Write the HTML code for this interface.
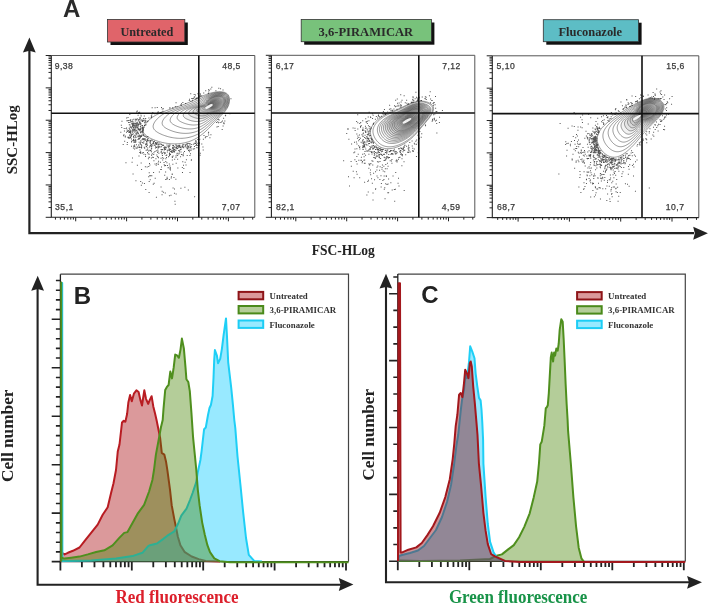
<!DOCTYPE html>
<html><head><meta charset="utf-8"><title>Figure</title>
<style>
html,body{margin:0;padding:0;background:#fff;width:709px;height:604px;overflow:hidden;}
svg{display:block;}
.fs{font-family:"Liberation Sans",sans-serif;}
.fr{font-family:"Liberation Serif",serif;}
</style></head><body>
<svg width="709" height="604" viewBox="0 0 709 604" style="will-change:transform">
<rect width="709" height="604" fill="#fff"/>
<text x="71.7" y="16.9" text-anchor="middle" class="fs" font-weight="bold" font-size="24" fill="#2b2b2b">A</text>
<rect x="110.5" y="22.5" width="77.3" height="22.5" fill="#111"/>
<rect x="107.5" y="19.5" width="77.3" height="22.5" fill="#e0646a" stroke="#333" stroke-width="0.8"/>
<text x="120.4" y="35.5" class="fr" font-weight="bold" font-size="13.4" fill="#2a2a2a" textLength="53" lengthAdjust="spacingAndGlyphs">Untreated</text>
<rect x="304.2" y="22.5" width="130.2" height="22.2" fill="#111"/>
<rect x="301.2" y="19.5" width="130.2" height="22.2" fill="#78c27b" stroke="#333" stroke-width="0.8"/>
<text x="318.5" y="35.5" class="fr" font-weight="bold" font-size="13.4" fill="#2a2a2a" textLength="94.7" lengthAdjust="spacingAndGlyphs">3,6-PIRAMICAR</text>
<rect x="546.3" y="22.7" width="95.3" height="22" fill="#111"/>
<rect x="543.3" y="19.7" width="95.3" height="22" fill="#5dbdc5" stroke="#333" stroke-width="0.8"/>
<text x="558.5" y="35.5" class="fr" font-weight="bold" font-size="13.4" fill="#2a2a2a" textLength="63.6" lengthAdjust="spacingAndGlyphs">Fluconazole</text>
<path d="M29.4 50 V233.2 H694" stroke="#222" stroke-width="2.2" fill="none"/>
<path d="M22.9 52.4 L29.4 37.4 L35.7 52.4 L29.4 50.8 Z" fill="#222"/>
<path d="M693.2 226.8 L707.9 233.2 L693.2 239.7 L694.8 233.2 Z" fill="#222"/>
<text transform="translate(17.3,174.3) rotate(-90)" class="fr" font-weight="bold" font-size="13.6" fill="#222" textLength="69" lengthAdjust="spacingAndGlyphs">SSC-HLog</text>
<text x="311.7" y="255" class="fr" font-weight="bold" font-size="13.6" fill="#222" textLength="63" lengthAdjust="spacingAndGlyphs">FSC-HLog</text>
<path d="M51.3 55.5H254.8V217.3" stroke="#555" stroke-width="1" fill="none"/>
<path d="M51.3 55.5V217.3H254.8" stroke="#222" stroke-width="1.1" fill="none"/>
<path d="M45.7 55.5H51.3M45.7 87.86H51.3M45.7 120.22H51.3M45.7 152.58H51.3M45.7 184.94H51.3M45.7 217.3H51.3M48.5 78.12H51.3M48.5 72.42H51.3M48.5 68.38H51.3M48.5 65.24H51.3M48.5 62.68H51.3M48.5 60.51H51.3M48.5 58.64H51.3M48.5 56.98H51.3M48.5 110.48H51.3M48.5 104.78H51.3M48.5 100.74H51.3M48.5 97.6H51.3M48.5 95.04H51.3M48.5 92.87H51.3M48.5 91H51.3M48.5 89.34H51.3M48.5 142.84H51.3M48.5 137.14H51.3M48.5 133.1H51.3M48.5 129.96H51.3M48.5 127.4H51.3M48.5 125.23H51.3M48.5 123.36H51.3M48.5 121.7H51.3M48.5 175.2H51.3M48.5 169.5H51.3M48.5 165.46H51.3M48.5 162.32H51.3M48.5 159.76H51.3M48.5 157.59H51.3M48.5 155.72H51.3M48.5 154.06H51.3M48.5 207.56H51.3M48.5 201.86H51.3M48.5 197.82H51.3M48.5 194.68H51.3M48.5 192.12H51.3M48.5 189.95H51.3M48.5 188.08H51.3M48.5 186.42H51.3" stroke="#222" stroke-width="1" fill="none"/>
<path d="M55.44 217.3V219.6M60.38 217.3V219.6M64.41 217.3V219.6M67.82 217.3V219.6M70.77 217.3V219.6M73.37 217.3V219.6M75.7 217.3V221.3M91.02 217.3V219.6M99.99 217.3V219.6M106.34 217.3V219.6M111.28 217.3V219.6M115.31 217.3V219.6M118.72 217.3V219.6M121.67 217.3V219.6M124.27 217.3V219.6M126.6 217.3V221.3M141.92 217.3V219.6M150.89 217.3V219.6M157.24 217.3V219.6M162.18 217.3V219.6M166.21 217.3V219.6M169.62 217.3V219.6M172.57 217.3V219.6M175.17 217.3V219.6M177.5 217.3V221.3M192.82 217.3V219.6M201.79 217.3V219.6M208.14 217.3V219.6M213.08 217.3V219.6M217.11 217.3V219.6M220.52 217.3V219.6M223.47 217.3V219.6M226.07 217.3V219.6M228.4 217.3V221.3M243.72 217.3V219.6M252.69 217.3V219.6" stroke="#222" stroke-width="1" fill="none"/>
<path d="M271.4 55.3H474.8V217.3" stroke="#555" stroke-width="1" fill="none"/>
<path d="M271.4 55.3V217.3H474.8" stroke="#222" stroke-width="1.1" fill="none"/>
<path d="M265.8 55.3H271.4M265.8 87.7H271.4M265.8 120.1H271.4M265.8 152.5H271.4M265.8 184.9H271.4M265.8 217.3H271.4M268.6 77.95H271.4M268.6 72.24H271.4M268.6 68.19H271.4M268.6 65.05H271.4M268.6 62.49H271.4M268.6 60.32H271.4M268.6 58.44H271.4M268.6 56.78H271.4M268.6 110.35H271.4M268.6 104.64H271.4M268.6 100.59H271.4M268.6 97.45H271.4M268.6 94.89H271.4M268.6 92.72H271.4M268.6 90.84H271.4M268.6 89.18H271.4M268.6 142.75H271.4M268.6 137.04H271.4M268.6 132.99H271.4M268.6 129.85H271.4M268.6 127.29H271.4M268.6 125.12H271.4M268.6 123.24H271.4M268.6 121.58H271.4M268.6 175.15H271.4M268.6 169.44H271.4M268.6 165.39H271.4M268.6 162.25H271.4M268.6 159.69H271.4M268.6 157.52H271.4M268.6 155.64H271.4M268.6 153.98H271.4M268.6 207.55H271.4M268.6 201.84H271.4M268.6 197.79H271.4M268.6 194.65H271.4M268.6 192.09H271.4M268.6 189.92H271.4M268.6 188.04H271.4M268.6 186.38H271.4" stroke="#222" stroke-width="1" fill="none"/>
<path d="M275.54 217.3V219.6M280.48 217.3V219.6M284.51 217.3V219.6M287.92 217.3V219.6M290.87 217.3V219.6M293.47 217.3V219.6M295.8 217.3V221.3M311.12 217.3V219.6M320.09 217.3V219.6M326.44 217.3V219.6M331.38 217.3V219.6M335.41 217.3V219.6M338.82 217.3V219.6M341.77 217.3V219.6M344.37 217.3V219.6M346.7 217.3V221.3M362.02 217.3V219.6M370.99 217.3V219.6M377.34 217.3V219.6M382.28 217.3V219.6M386.31 217.3V219.6M389.72 217.3V219.6M392.67 217.3V219.6M395.27 217.3V219.6M397.6 217.3V221.3M412.92 217.3V219.6M421.89 217.3V219.6M428.24 217.3V219.6M433.18 217.3V219.6M437.21 217.3V219.6M440.62 217.3V219.6M443.57 217.3V219.6M446.17 217.3V219.6M448.5 217.3V221.3M463.82 217.3V219.6M472.79 217.3V219.6" stroke="#222" stroke-width="1" fill="none"/>
<path d="M492.3 55.8H698.8V217.6" stroke="#555" stroke-width="1" fill="none"/>
<path d="M492.3 55.8V217.6H698.8" stroke="#222" stroke-width="1.1" fill="none"/>
<path d="M486.7 55.8H492.3M486.7 88.16H492.3M486.7 120.52H492.3M486.7 152.88H492.3M486.7 185.24H492.3M486.7 217.6H492.3M489.5 78.42H492.3M489.5 72.72H492.3M489.5 68.68H492.3M489.5 65.54H492.3M489.5 62.98H492.3M489.5 60.81H492.3M489.5 58.94H492.3M489.5 57.28H492.3M489.5 110.78H492.3M489.5 105.08H492.3M489.5 101.04H492.3M489.5 97.9H492.3M489.5 95.34H492.3M489.5 93.17H492.3M489.5 91.3H492.3M489.5 89.64H492.3M489.5 143.14H492.3M489.5 137.44H492.3M489.5 133.4H492.3M489.5 130.26H492.3M489.5 127.7H492.3M489.5 125.53H492.3M489.5 123.66H492.3M489.5 122H492.3M489.5 175.5H492.3M489.5 169.8H492.3M489.5 165.76H492.3M489.5 162.62H492.3M489.5 160.06H492.3M489.5 157.89H492.3M489.5 156.02H492.3M489.5 154.36H492.3M489.5 207.86H492.3M489.5 202.16H492.3M489.5 198.12H492.3M489.5 194.98H492.3M489.5 192.42H492.3M489.5 190.25H492.3M489.5 188.38H492.3M489.5 186.72H492.3" stroke="#222" stroke-width="1" fill="none"/>
<path d="M497.69 217.6V219.9M502.66 217.6V219.9M506.72 217.6V219.9M510.15 217.6V219.9M513.13 217.6V219.9M515.75 217.6V219.9M518.1 217.6V221.6M533.54 217.6V219.9M542.58 217.6V219.9M548.99 217.6V219.9M553.96 217.6V219.9M558.02 217.6V219.9M561.45 217.6V219.9M564.43 217.6V219.9M567.05 217.6V219.9M569.4 217.6V221.6M584.84 217.6V219.9M593.88 217.6V219.9M600.29 217.6V219.9M605.26 217.6V219.9M609.32 217.6V219.9M612.75 217.6V219.9M615.73 217.6V219.9M618.35 217.6V219.9M620.7 217.6V221.6M636.14 217.6V219.9M645.18 217.6V219.9M651.59 217.6V219.9M656.56 217.6V219.9M660.62 217.6V219.9M664.05 217.6V219.9M667.03 217.6V219.9M669.65 217.6V219.9M672 217.6V221.6M687.44 217.6V219.9M696.48 217.6V219.9" stroke="#222" stroke-width="1" fill="none"/>
<path d="M143.04 130.67L143.05 129.54L143.27 128.37L143.68 127.17L144.27 125.95L145 124.73L145.87 123.52L146.86 122.33L147.93 121.18L149.07 120.07L150.26 119.01L151.48 118.03L152.72 117.12L153.96 116.3L155.2 115.54L156.46 114.84L157.72 114.19L159 113.59L160.28 113.02L161.58 112.48L162.88 111.97L164.2 111.46L165.53 110.96L166.86 110.47L168.21 109.98L169.56 109.5L170.92 109.02L172.28 108.54L173.65 108.07L175.02 107.59L176.38 107.12L177.75 106.64L179.12 106.16L180.48 105.67L181.84 105.18L183.2 104.67L184.55 104.16L185.89 103.64L187.22 103.11L188.54 102.57L189.85 102.01L191.15 101.44L192.43 100.85L193.7 100.25L194.96 99.64L196.22 99.02L197.48 98.41L198.74 97.79L200.01 97.18L201.29 96.58L202.58 96L203.89 95.44L205.22 94.9L206.57 94.38L207.96 93.9L209.37 93.45L210.83 93.04L212.32 92.67L213.85 92.35L215.41 92.09L216.98 91.89L218.54 91.77L220.07 91.74L221.55 91.81L222.96 92L224.28 92.31L225.48 92.75L226.56 93.34L227.48 94.08L228.24 94.99L228.81 96.07L229.21 97.28L229.44 98.61L229.51 100L229.44 101.45L229.22 102.9L228.87 104.34L228.4 105.73L227.81 107.06L227.12 108.32L226.35 109.53L225.5 110.7L224.58 111.83L223.61 112.92L222.61 114L221.57 115.06L220.53 116.12L219.49 117.18L218.45 118.25L217.42 119.33L216.39 120.4L215.37 121.48L214.36 122.56L213.34 123.64L212.33 124.71L211.31 125.77L210.29 126.82L209.26 127.86L208.23 128.88L207.19 129.89L206.14 130.87L205.09 131.83L204.02 132.77L202.93 133.68L201.84 134.56L200.72 135.41L199.59 136.23L198.44 137.01L197.27 137.75L196.07 138.45L194.85 139.1L193.62 139.72L192.36 140.29L191.08 140.82L189.78 141.31L188.47 141.75L187.14 142.15L185.79 142.51L184.43 142.83L183.05 143.11L181.66 143.34L180.26 143.53L178.84 143.68L177.42 143.79L175.98 143.86L174.54 143.88L173.09 143.86L171.63 143.8L170.17 143.7L168.7 143.56L167.22 143.37L165.75 143.14L164.27 142.88L162.79 142.56L161.31 142.21L159.83 141.82L158.35 141.38L156.87 140.91L155.39 140.39L153.92 139.83L152.47 139.22L151.04 138.58L149.67 137.89L148.38 137.15L147.17 136.37L146.08 135.55L145.13 134.67L144.32 133.75L143.7 132.77L143.26 131.75Z" fill="#000" fill-opacity="0" stroke="#2a2a2a" stroke-width="0.6" stroke-opacity="0.8"/>
<path d="M153.14 126.89L153.15 125.93L153.33 124.94L153.68 123.93L154.17 122.9L154.8 121.87L155.53 120.84L156.36 119.84L157.26 118.86L158.22 117.92L159.23 117.03L160.26 116.19L161.3 115.43L162.34 114.73L163.39 114.09L164.45 113.49L165.52 112.95L166.6 112.44L167.68 111.96L168.78 111.5L169.88 111.06L170.99 110.63L172.11 110.21L173.24 109.79L174.38 109.38L175.52 108.97L176.67 108.56L177.82 108.16L178.97 107.76L180.13 107.35L181.29 106.95L182.44 106.54L183.59 106.13L184.74 105.72L185.89 105.3L187.03 104.87L188.17 104.44L189.29 103.99L190.41 103.54L191.52 103.07L192.62 102.59L193.7 102.09L194.77 101.58L195.83 101.05L196.88 100.51L197.93 99.95L198.97 99.39L200.02 98.82L201.09 98.24L202.16 97.66L203.27 97.07L204.4 96.49L205.57 95.92L206.78 95.37L208.04 94.83L209.35 94.33L210.71 93.87L212.12 93.45L213.59 93.08L215.1 92.77L216.62 92.53L218.14 92.38L219.63 92.31L221.07 92.35L222.45 92.51L223.74 92.78L224.93 93.19L225.99 93.75L226.9 94.46L227.64 95.33L228.2 96.37L228.6 97.55L228.82 98.83L228.89 100.18L228.81 101.58L228.59 103L228.23 104.4L227.75 105.74L227.15 107.02L226.45 108.24L225.66 109.39L224.8 110.5L223.87 111.56L222.89 112.58L221.88 113.57L220.84 114.53L219.8 115.48L218.76 116.41L217.74 117.33L216.74 118.25L215.76 119.17L214.79 120.07L213.84 120.98L212.91 121.87L211.98 122.76L211.06 123.64L210.14 124.51L209.23 125.37L208.32 126.22L207.41 127.05L206.49 127.87L205.57 128.67L204.64 129.44L203.7 130.2L202.75 130.92L201.79 131.62L200.81 132.3L199.83 132.93L198.82 133.54L197.8 134.11L196.76 134.64L195.71 135.14L194.63 135.6L193.55 136.02L192.45 136.41L191.33 136.76L190.2 137.08L189.06 137.36L187.91 137.61L186.75 137.81L185.58 137.99L184.4 138.13L183.21 138.23L182.01 138.3L180.8 138.33L179.59 138.33L178.37 138.29L177.15 138.22L175.92 138.12L174.68 137.98L173.45 137.8L172.21 137.59L170.97 137.35L169.73 137.07L168.49 136.76L167.24 136.41L166 136.03L164.76 135.62L163.53 135.17L162.29 134.69L161.07 134.17L159.87 133.62L158.72 133.03L157.63 132.4L156.62 131.73L155.7 131.03L154.9 130.29L154.22 129.5L153.69 128.67L153.33 127.8Z" fill="#000" fill-opacity="0" stroke="#2a2a2a" stroke-width="0.6" stroke-opacity="0.8"/>
<path d="M162.15 123.52L162.16 122.72L162.31 121.89L162.6 121.04L163.01 120.17L163.53 119.31L164.15 118.45L164.84 117.61L165.59 116.79L166.39 116L167.23 115.25L168.09 114.55L168.96 113.91L169.83 113.33L170.71 112.79L171.6 112.29L172.49 111.83L173.39 111.41L174.3 111L175.21 110.62L176.13 110.25L177.06 109.89L178 109.53L178.95 109.18L179.9 108.84L180.86 108.5L181.81 108.16L182.78 107.82L183.74 107.48L184.71 107.14L185.67 106.8L186.64 106.46L187.6 106.11L188.56 105.76L189.52 105.41L190.47 105.05L191.42 104.68L192.35 104.3L193.28 103.92L194.2 103.52L195.11 103.11L196.01 102.68L196.89 102.24L197.76 101.78L198.62 101.3L199.48 100.8L200.34 100.29L201.21 99.76L202.09 99.22L202.99 98.66L203.91 98.08L204.88 97.49L205.9 96.9L206.98 96.32L208.12 95.75L209.32 95.2L210.59 94.69L211.93 94.23L213.33 93.81L214.78 93.46L216.25 93.18L217.73 92.99L219.18 92.89L220.59 92.9L221.94 93.02L223.2 93.27L224.36 93.65L225.4 94.17L226.3 94.84L227.03 95.68L227.59 96.68L227.97 97.82L228.19 99.05L228.26 100.37L228.17 101.73L227.94 103.1L227.57 104.45L227.08 105.75L226.47 106.98L225.76 108.15L224.96 109.25L224.09 110.3L223.15 111.29L222.17 112.24L221.15 113.14L220.11 114.01L219.07 114.84L218.05 115.65L217.05 116.44L216.08 117.21L215.15 117.97L214.24 118.72L213.35 119.46L212.49 120.19L211.65 120.92L210.82 121.63L210.01 122.35L209.2 123.05L208.4 123.74L207.61 124.42L206.81 125.08L206.01 125.73L205.21 126.37L204.4 126.98L203.59 127.57L202.77 128.14L201.94 128.69L201.1 129.2L200.24 129.69L199.38 130.15L198.5 130.57L197.61 130.97L196.71 131.33L195.79 131.67L194.87 131.97L193.93 132.24L192.98 132.48L192.03 132.7L191.07 132.88L190.1 133.03L189.12 133.16L188.13 133.25L187.14 133.32L186.14 133.35L185.14 133.36L184.13 133.34L183.12 133.29L182.1 133.21L181.08 133.11L180.06 132.97L179.03 132.81L178 132.62L176.97 132.4L175.94 132.16L174.91 131.88L173.88 131.58L172.85 131.25L171.82 130.89L170.8 130.51L169.77 130.09L168.75 129.65L167.76 129.18L166.8 128.68L165.89 128.15L165.05 127.59L164.29 127L163.62 126.37L163.05 125.71L162.61 125.02L162.31 124.29Z" fill="#000" fill-opacity="0" stroke="#2a2a2a" stroke-width="0.6" stroke-opacity="0.8"/>
<path d="M170.14 120.53L170.14 119.87L170.27 119.18L170.51 118.47L170.85 117.76L171.28 117.04L171.78 116.33L172.35 115.63L172.97 114.95L173.64 114.3L174.33 113.68L175.04 113.1L175.75 112.57L176.48 112.08L177.2 111.64L177.93 111.23L178.67 110.85L179.41 110.49L180.17 110.16L180.92 109.84L181.69 109.53L182.46 109.23L183.23 108.94L184.01 108.65L184.8 108.36L185.59 108.08L186.39 107.79L187.18 107.51L187.98 107.23L188.78 106.95L189.58 106.67L190.38 106.38L191.17 106.09L191.96 105.8L192.75 105.51L193.54 105.21L194.31 104.9L195.09 104.58L195.85 104.26L196.6 103.92L197.35 103.57L198.08 103.21L198.8 102.83L199.5 102.43L200.2 102.01L200.9 101.58L201.59 101.12L202.3 100.63L203.01 100.13L203.75 99.59L204.52 99.03L205.34 98.44L206.22 97.84L207.17 97.24L208.19 96.64L209.3 96.06L210.48 95.51L211.74 95L213.07 94.55L214.46 94.15L215.88 93.84L217.31 93.61L218.72 93.48L220.1 93.46L221.41 93.55L222.65 93.76L223.79 94.11L224.8 94.6L225.68 95.24L226.4 96.04L226.95 97L227.33 98.09L227.55 99.29L227.61 100.56L227.51 101.87L227.27 103.2L226.9 104.51L226.39 105.76L225.78 106.94L225.06 108.06L224.25 109.11L223.37 110.09L222.43 111.02L221.44 111.89L220.42 112.71L219.38 113.48L218.35 114.21L217.35 114.9L216.38 115.56L215.45 116.2L214.55 116.82L213.7 117.42L212.89 118.02L212.1 118.6L211.34 119.18L210.61 119.75L209.89 120.32L209.18 120.88L208.48 121.44L207.79 121.98L207.1 122.51L206.42 123.03L205.73 123.54L205.05 124.03L204.36 124.51L203.66 124.96L202.96 125.39L202.25 125.8L201.54 126.19L200.81 126.55L200.08 126.88L199.33 127.19L198.58 127.47L197.82 127.73L197.05 127.96L196.27 128.16L195.49 128.34L194.7 128.5L193.9 128.63L193.1 128.74L192.29 128.82L191.48 128.88L190.66 128.91L189.84 128.92L189.02 128.91L188.19 128.88L187.36 128.82L186.52 128.74L185.68 128.64L184.84 128.51L184 128.36L183.16 128.19L182.32 128L181.47 127.78L180.63 127.54L179.78 127.28L178.94 127L178.09 126.69L177.25 126.37L176.41 126.02L175.57 125.65L174.75 125.25L173.97 124.83L173.22 124.39L172.53 123.92L171.9 123.42L171.35 122.9L170.88 122.35L170.52 121.78L170.27 121.17Z" fill="#000" fill-opacity="0" stroke="#2a2a2a" stroke-width="0.6" stroke-opacity="0.8"/>
<path d="M177.16 117.91L177.16 117.36L177.27 116.8L177.46 116.22L177.74 115.64L178.09 115.05L178.5 114.47L178.96 113.89L179.47 113.34L180.01 112.8L180.57 112.3L181.15 111.82L181.74 111.39L182.32 110.99L182.92 110.62L183.51 110.29L184.12 109.98L184.72 109.69L185.34 109.41L185.95 109.15L186.58 108.9L187.21 108.65L187.84 108.41L188.48 108.17L189.12 107.94L189.77 107.71L190.42 107.47L191.07 107.24L191.72 107.01L192.37 106.78L193.02 106.55L193.67 106.31L194.32 106.08L194.97 105.84L195.61 105.59L196.25 105.34L196.88 105.09L197.51 104.83L198.12 104.56L198.73 104.28L199.33 103.99L199.92 103.68L200.5 103.36L201.07 103.02L201.62 102.66L202.18 102.27L202.73 101.87L203.29 101.43L203.86 100.96L204.46 100.45L205.09 99.91L205.78 99.34L206.53 98.74L207.36 98.12L208.27 97.5L209.27 96.89L210.37 96.31L211.55 95.77L212.81 95.28L214.14 94.85L215.51 94.5L216.89 94.24L218.26 94.08L219.59 94.03L220.88 94.09L222.08 94.27L223.19 94.59L224.19 95.04L225.05 95.65L225.76 96.41L226.3 97.33L226.67 98.38L226.88 99.53L226.94 100.76L226.84 102.02L226.59 103.3L226.21 104.56L225.69 105.77L225.07 106.91L224.34 107.97L223.53 108.96L222.64 109.89L221.69 110.75L220.7 111.55L219.69 112.28L218.66 112.96L217.65 113.59L216.66 114.17L215.72 114.71L214.83 115.23L213.99 115.72L213.19 116.19L212.44 116.65L211.73 117.1L211.05 117.55L210.4 118L209.77 118.44L209.15 118.88L208.55 119.31L207.96 119.73L207.38 120.15L206.79 120.56L206.22 120.96L205.64 121.34L205.06 121.71L204.48 122.07L203.89 122.41L203.3 122.73L202.71 123.02L202.11 123.3L201.5 123.56L200.88 123.79L200.26 124L199.64 124.19L199.01 124.36L198.37 124.51L197.73 124.64L197.08 124.75L196.43 124.83L195.78 124.9L195.12 124.95L194.46 124.98L193.8 125L193.13 124.99L192.46 124.96L191.79 124.92L191.11 124.86L190.44 124.78L189.76 124.68L189.08 124.56L188.4 124.43L187.72 124.28L187.04 124.11L186.35 123.92L185.67 123.71L184.99 123.49L184.3 123.25L183.62 122.99L182.94 122.72L182.25 122.43L181.58 122.12L180.91 121.79L180.27 121.44L179.67 121.07L179.1 120.69L178.59 120.28L178.14 119.85L177.77 119.4L177.47 118.93L177.26 118.43Z" fill="#000" fill-opacity="0" stroke="#2a2a2a" stroke-width="0.6" stroke-opacity="0.8"/>
<path d="M183.28 115.62L183.28 115.18L183.37 114.72L183.53 114.26L183.75 113.78L184.03 113.31L184.36 112.84L184.73 112.38L185.14 111.93L185.57 111.5L186.02 111.09L186.49 110.71L186.95 110.36L187.43 110.04L187.9 109.74L188.38 109.47L188.87 109.22L189.36 108.98L189.85 108.76L190.35 108.55L190.85 108.35L191.36 108.15L191.87 107.95L192.38 107.76L192.9 107.57L193.42 107.38L193.94 107.19L194.47 107.01L194.99 106.82L195.52 106.63L196.04 106.44L196.56 106.25L197.08 106.06L197.6 105.87L198.12 105.67L198.63 105.47L199.14 105.26L199.64 105.05L200.13 104.82L200.61 104.59L201.09 104.35L201.56 104.1L202.01 103.83L202.46 103.54L202.89 103.23L203.32 102.9L203.75 102.54L204.19 102.15L204.64 101.72L205.11 101.25L205.62 100.74L206.18 100.18L206.82 99.59L207.53 98.97L208.34 98.34L209.25 97.71L210.25 97.1L211.36 96.53L212.55 96.01L213.82 95.55L215.13 95.17L216.46 94.88L217.78 94.69L219.08 94.61L220.33 94.64L221.5 94.79L222.59 95.08L223.56 95.5L224.4 96.07L225.09 96.79L225.62 97.67L225.99 98.67L226.2 99.78L226.24 100.96L226.14 102.18L225.89 103.41L225.49 104.62L224.98 105.78L224.34 106.86L223.61 107.87L222.79 108.81L221.9 109.67L220.95 110.47L219.97 111.2L218.96 111.85L217.94 112.44L216.95 112.97L215.99 113.45L215.08 113.88L214.23 114.28L213.44 114.66L212.71 115.01L212.03 115.36L211.39 115.69L210.78 116.03L210.21 116.36L209.66 116.69L209.13 117.02L208.62 117.35L208.12 117.68L207.62 118L207.14 118.31L206.65 118.61L206.17 118.91L205.69 119.19L205.21 119.46L204.73 119.72L204.25 119.96L203.76 120.18L203.27 120.39L202.77 120.58L202.27 120.75L201.77 120.9L201.26 121.04L200.75 121.16L200.24 121.26L199.72 121.35L199.2 121.42L198.68 121.47L198.15 121.51L197.62 121.54L197.09 121.55L196.56 121.54L196.03 121.52L195.49 121.48L194.96 121.44L194.42 121.37L193.88 121.29L193.34 121.2L192.8 121.1L192.26 120.98L191.71 120.85L191.17 120.7L190.63 120.54L190.08 120.36L189.54 120.18L188.99 119.98L188.45 119.76L187.9 119.53L187.36 119.29L186.82 119.04L186.29 118.77L185.78 118.48L185.29 118.18L184.84 117.87L184.43 117.54L184.07 117.19L183.77 116.83L183.53 116.44L183.37 116.04Z" fill="#000" fill-opacity="0.055" stroke="#2a2a2a" stroke-width="0.6" stroke-opacity="0.8"/>
<path d="M188.56 113.64L188.57 113.29L188.63 112.93L188.76 112.56L188.93 112.19L189.15 111.81L189.41 111.44L189.71 111.07L190.03 110.71L190.37 110.37L190.73 110.05L191.09 109.74L191.46 109.47L191.84 109.21L192.21 108.98L192.59 108.76L192.98 108.56L193.36 108.37L193.75 108.2L194.15 108.03L194.54 107.87L194.95 107.71L195.35 107.56L195.76 107.4L196.17 107.25L196.58 107.1L196.99 106.95L197.41 106.8L197.82 106.65L198.24 106.5L198.65 106.35L199.07 106.2L199.48 106.05L199.89 105.89L200.29 105.74L200.7 105.57L201.1 105.41L201.49 105.23L201.87 105.06L202.25 104.87L202.63 104.67L202.99 104.46L203.34 104.24L203.68 104L204.01 103.74L204.34 103.46L204.67 103.15L205 102.8L205.34 102.41L205.71 101.98L206.11 101.5L206.57 100.97L207.09 100.39L207.7 99.78L208.41 99.15L209.22 98.51L210.14 97.89L211.17 97.29L212.29 96.74L213.49 96.26L214.74 95.85L216.02 95.53L217.3 95.31L218.55 95.2L219.76 95.2L220.91 95.33L221.96 95.58L222.91 95.97L223.73 96.5L224.41 97.18L224.93 98.01L225.29 98.97L225.49 100.03L225.53 101.17L225.42 102.34L225.16 103.52L224.76 104.68L224.24 105.79L223.6 106.82L222.86 107.78L222.04 108.66L221.15 109.46L220.21 110.19L219.22 110.84L218.22 111.42L217.23 111.93L216.25 112.37L215.33 112.75L214.46 113.08L213.66 113.38L212.92 113.64L212.25 113.9L211.63 114.14L211.06 114.38L210.53 114.61L210.03 114.85L209.56 115.09L209.11 115.33L208.68 115.57L208.26 115.81L207.85 116.04L207.44 116.27L207.05 116.5L206.65 116.71L206.26 116.92L205.87 117.12L205.48 117.31L205.09 117.49L204.69 117.65L204.3 117.8L203.9 117.93L203.5 118.05L203.1 118.16L202.69 118.25L202.29 118.33L201.88 118.4L201.47 118.45L201.06 118.49L200.65 118.52L200.23 118.54L199.82 118.54L199.4 118.54L198.98 118.52L198.56 118.49L198.14 118.45L197.72 118.4L197.3 118.34L196.88 118.26L196.45 118.18L196.03 118.09L195.61 117.98L195.18 117.87L194.76 117.74L194.33 117.61L193.9 117.46L193.48 117.31L193.05 117.14L192.62 116.97L192.2 116.78L191.77 116.58L191.34 116.38L190.93 116.16L190.53 115.93L190.15 115.69L189.79 115.44L189.47 115.17L189.19 114.89L188.95 114.6L188.76 114.3L188.63 113.98Z" fill="#000" fill-opacity="0.055" stroke="#2a2a2a" stroke-width="0.6" stroke-opacity="0.8"/>
<path d="M193.07 111.96L193.07 111.69L193.12 111.4L193.22 111.12L193.35 110.82L193.52 110.53L193.73 110.24L193.95 109.96L194.2 109.68L194.47 109.41L194.74 109.16L195.02 108.92L195.31 108.71L195.6 108.51L195.89 108.32L196.19 108.16L196.48 108L196.78 107.85L197.09 107.72L197.39 107.59L197.7 107.46L198.01 107.34L198.33 107.22L198.65 107.1L198.96 106.98L199.29 106.86L199.61 106.74L199.93 106.63L200.25 106.51L200.57 106.4L200.89 106.28L201.21 106.16L201.53 106.04L201.85 105.92L202.16 105.79L202.48 105.66L202.78 105.53L203.08 105.4L203.38 105.26L203.67 105.11L203.95 104.95L204.23 104.78L204.49 104.6L204.75 104.4L205 104.19L205.24 103.95L205.48 103.68L205.73 103.38L205.98 103.04L206.25 102.65L206.56 102.2L206.92 101.7L207.35 101.15L207.86 100.55L208.48 99.93L209.2 99.29L210.04 98.65L210.98 98.05L212.03 97.48L213.16 96.97L214.35 96.54L215.58 96.19L216.81 95.95L218.02 95.81L219.18 95.78L220.29 95.88L221.31 96.1L222.24 96.45L223.04 96.95L223.7 97.59L224.21 98.38L224.56 99.29L224.75 100.3L224.79 101.38L224.67 102.51L224.41 103.64L224.01 104.75L223.47 105.8L222.83 106.78L222.09 107.68L221.27 108.5L220.39 109.24L219.45 109.91L218.48 110.49L217.49 110.99L216.52 111.42L215.57 111.77L214.68 112.06L213.86 112.3L213.11 112.5L212.43 112.68L211.82 112.84L211.26 113L210.76 113.15L210.3 113.3L209.87 113.46L209.47 113.62L209.09 113.78L208.73 113.95L208.39 114.12L208.05 114.28L207.72 114.44L207.4 114.6L207.08 114.76L206.77 114.9L206.45 115.05L206.14 115.18L205.83 115.3L205.52 115.41L205.21 115.52L204.9 115.61L204.58 115.69L204.27 115.75L203.95 115.81L203.63 115.86L203.31 115.9L203 115.93L202.68 115.95L202.36 115.96L202.04 115.96L201.72 115.95L201.39 115.93L201.07 115.91L200.75 115.87L200.43 115.83L200.1 115.78L199.78 115.72L199.46 115.65L199.13 115.58L198.81 115.5L198.48 115.41L198.16 115.31L197.83 115.21L197.5 115.1L197.18 114.98L196.85 114.85L196.52 114.72L196.19 114.57L195.87 114.42L195.54 114.27L195.21 114.1L194.89 113.93L194.58 113.75L194.29 113.56L194.02 113.36L193.77 113.15L193.55 112.94L193.36 112.71L193.22 112.47L193.12 112.22Z" fill="#000" fill-opacity="0.055" stroke="#2a2a2a" stroke-width="0.6" stroke-opacity="0.8"/>
<path d="M196.86 110.54L196.86 110.33L196.9 110.12L196.97 109.9L197.07 109.68L197.2 109.45L197.35 109.23L197.52 109.02L197.71 108.81L197.91 108.6L198.12 108.41L198.34 108.23L198.55 108.06L198.77 107.91L198.99 107.77L199.22 107.65L199.44 107.53L199.67 107.42L199.9 107.31L200.13 107.21L200.37 107.12L200.6 107.02L200.84 106.93L201.08 106.84L201.32 106.75L201.57 106.66L201.81 106.57L202.06 106.48L202.3 106.39L202.54 106.3L202.79 106.21L203.03 106.12L203.27 106.03L203.51 105.94L203.75 105.84L203.98 105.74L204.21 105.64L204.44 105.54L204.66 105.43L204.88 105.31L205.09 105.19L205.29 105.05L205.49 104.91L205.67 104.75L205.85 104.57L206.03 104.38L206.2 104.15L206.37 103.89L206.55 103.6L206.75 103.25L206.97 102.84L207.25 102.38L207.59 101.86L208.02 101.29L208.54 100.68L209.18 100.04L209.93 99.41L210.79 98.79L211.77 98.21L212.83 97.68L213.96 97.23L215.13 96.87L216.3 96.6L217.46 96.43L218.59 96.38L219.66 96.45L220.65 96.63L221.54 96.95L222.32 97.41L222.96 98.01L223.46 98.75L223.8 99.62L223.99 100.58L224.02 101.61L223.9 102.68L223.63 103.76L223.22 104.81L222.69 105.81L222.04 106.73L221.31 107.58L220.49 108.34L219.61 109.02L218.68 109.62L217.73 110.13L216.76 110.56L215.81 110.91L214.91 111.18L214.06 111.39L213.28 111.55L212.58 111.67L211.96 111.77L211.41 111.85L210.92 111.94L210.48 112.02L210.08 112.1L209.72 112.19L209.39 112.29L209.08 112.39L208.78 112.5L208.5 112.6L208.23 112.71L207.97 112.82L207.71 112.92L207.46 113.03L207.21 113.13L206.97 113.22L206.72 113.31L206.48 113.39L206.24 113.46L206 113.53L205.76 113.58L205.52 113.63L205.28 113.67L205.04 113.7L204.79 113.73L204.55 113.74L204.31 113.75L204.07 113.76L203.83 113.75L203.58 113.74L203.34 113.73L203.1 113.7L202.86 113.67L202.62 113.64L202.37 113.6L202.13 113.55L201.89 113.5L201.65 113.44L201.4 113.37L201.16 113.3L200.92 113.23L200.68 113.15L200.43 113.06L200.19 112.97L199.94 112.88L199.7 112.78L199.45 112.67L199.21 112.56L198.96 112.44L198.72 112.32L198.47 112.19L198.23 112.05L198 111.91L197.78 111.77L197.57 111.61L197.38 111.46L197.22 111.29L197.08 111.11L196.97 110.93L196.89 110.74Z" fill="#000" fill-opacity="0.055" stroke="#2a2a2a" stroke-width="0.6" stroke-opacity="0.8"/>
<path d="M199.99 109.37L199.99 109.22L200.02 109.06L200.07 108.89L200.15 108.73L200.24 108.56L200.36 108.4L200.48 108.24L200.62 108.08L200.77 107.93L200.92 107.79L201.08 107.66L201.24 107.53L201.4 107.42L201.56 107.32L201.73 107.22L201.89 107.14L202.06 107.05L202.23 106.98L202.4 106.9L202.58 106.83L202.75 106.76L202.93 106.69L203.1 106.62L203.28 106.56L203.46 106.49L203.64 106.42L203.82 106.36L204 106.29L204.18 106.23L204.36 106.16L204.54 106.09L204.72 106.02L204.9 105.95L205.07 105.88L205.24 105.81L205.41 105.73L205.58 105.65L205.74 105.57L205.89 105.48L206.05 105.38L206.19 105.28L206.33 105.17L206.46 105.04L206.58 104.9L206.7 104.74L206.82 104.56L206.93 104.34L207.05 104.09L207.19 103.78L207.35 103.43L207.55 103L207.82 102.52L208.16 101.98L208.6 101.39L209.16 100.78L209.82 100.15L210.61 99.53L211.51 98.95L212.5 98.41L213.56 97.94L214.67 97.55L215.79 97.26L216.9 97.08L217.97 97L219 97.03L219.96 97.19L220.82 97.47L221.57 97.89L222.2 98.45L222.68 99.14L223.01 99.96L223.19 100.87L223.21 101.84L223.09 102.86L222.82 103.88L222.41 104.88L221.87 105.82L221.23 106.69L220.49 107.47L219.68 108.18L218.81 108.8L217.9 109.33L216.97 109.77L216.03 110.13L215.12 110.41L214.25 110.61L213.45 110.74L212.72 110.83L212.08 110.88L211.52 110.91L211.03 110.93L210.6 110.95L210.22 110.98L209.89 111.01L209.59 111.05L209.31 111.09L209.06 111.14L208.83 111.2L208.6 111.26L208.39 111.33L208.18 111.39L207.98 111.45L207.79 111.52L207.6 111.58L207.41 111.64L207.23 111.69L207.05 111.74L206.86 111.78L206.68 111.82L206.5 111.85L206.32 111.87L206.14 111.89L205.96 111.9L205.78 111.91L205.6 111.91L205.43 111.91L205.25 111.9L205.07 111.89L204.89 111.87L204.72 111.85L204.54 111.83L204.36 111.79L204.19 111.76L204.01 111.72L203.83 111.68L203.66 111.63L203.48 111.58L203.3 111.53L203.13 111.47L202.95 111.41L202.78 111.35L202.6 111.28L202.42 111.21L202.24 111.13L202.07 111.05L201.89 110.97L201.71 110.88L201.53 110.79L201.35 110.7L201.17 110.6L201 110.5L200.83 110.39L200.67 110.28L200.52 110.17L200.38 110.05L200.26 109.92L200.15 109.79L200.07 109.66L200.02 109.52Z" fill="#000" fill-opacity="0.055" stroke="#2a2a2a" stroke-width="0.6" stroke-opacity="0.35"/>
<path d="M202.53 108.42L202.53 108.31L202.55 108.19L202.59 108.08L202.65 107.96L202.71 107.84L202.79 107.72L202.88 107.61L202.98 107.5L203.09 107.39L203.19 107.29L203.31 107.19L203.42 107.1L203.53 107.02L203.65 106.95L203.77 106.88L203.89 106.82L204.01 106.76L204.13 106.7L204.25 106.65L204.37 106.6L204.5 106.55L204.62 106.5L204.75 106.45L204.88 106.4L205.01 106.35L205.14 106.31L205.26 106.26L205.39 106.21L205.52 106.16L205.65 106.11L205.78 106.07L205.9 106.02L206.03 105.97L206.15 105.91L206.27 105.86L206.39 105.8L206.51 105.75L206.62 105.68L206.73 105.62L206.84 105.55L206.94 105.47L207.03 105.39L207.12 105.29L207.2 105.18L207.27 105.06L207.34 104.91L207.41 104.73L207.49 104.52L207.57 104.26L207.68 103.95L207.83 103.57L208.02 103.13L208.3 102.63L208.66 102.08L209.13 101.49L209.72 100.88L210.43 100.27L211.25 99.68L212.16 99.13L213.16 98.66L214.19 98.26L215.25 97.95L216.31 97.74L217.34 97.64L218.32 97.64L219.24 97.77L220.07 98.02L220.79 98.4L221.39 98.91L221.86 99.55L222.18 100.32L222.35 101.17L222.37 102.09L222.24 103.05L221.97 104.01L221.56 104.95L221.02 105.84L220.38 106.64L219.65 107.37L218.85 108.01L218 108.56L217.11 109.03L216.2 109.41L215.3 109.7L214.42 109.91L213.6 110.04L212.85 110.11L212.19 110.13L211.61 110.13L211.11 110.1L210.68 110.08L210.31 110.05L209.99 110.03L209.71 110.02L209.47 110.02L209.25 110.03L209.05 110.04L208.86 110.06L208.69 110.09L208.53 110.12L208.37 110.15L208.22 110.18L208.08 110.22L207.93 110.25L207.8 110.28L207.66 110.31L207.52 110.33L207.39 110.35L207.26 110.37L207.13 110.38L207 110.39L206.87 110.39L206.74 110.39L206.61 110.39L206.48 110.38L206.36 110.37L206.23 110.36L206.1 110.34L205.98 110.32L205.85 110.3L205.73 110.27L205.6 110.24L205.48 110.21L205.36 110.18L205.23 110.14L205.11 110.1L204.99 110.06L204.86 110.02L204.74 109.97L204.62 109.92L204.49 109.87L204.37 109.82L204.25 109.76L204.12 109.7L204 109.64L203.87 109.58L203.75 109.52L203.62 109.45L203.5 109.38L203.37 109.31L203.25 109.23L203.13 109.16L203.01 109.08L202.9 108.99L202.81 108.91L202.72 108.82L202.65 108.72L202.59 108.63L202.55 108.52Z" fill="#000" fill-opacity="0.055" stroke="#2a2a2a" stroke-width="0.6" stroke-opacity="0.35"/>
<path d="M204.55 107.67L204.55 107.59L204.56 107.51L204.59 107.43L204.62 107.35L204.67 107.27L204.72 107.19L204.78 107.11L204.85 107.03L204.92 106.96L205 106.89L205.07 106.82L205.15 106.76L205.23 106.71L205.31 106.65L205.39 106.61L205.47 106.56L205.55 106.52L205.63 106.49L205.72 106.45L205.8 106.41L205.89 106.38L205.97 106.35L206.06 106.31L206.15 106.28L206.24 106.25L206.32 106.21L206.41 106.18L206.5 106.15L206.59 106.11L206.68 106.08L206.76 106.05L206.85 106.01L206.93 105.98L207.02 105.94L207.1 105.9L207.18 105.86L207.26 105.82L207.33 105.78L207.41 105.73L207.47 105.68L207.54 105.63L207.6 105.56L207.65 105.49L207.7 105.41L207.75 105.32L207.79 105.2L207.83 105.06L207.86 104.89L207.91 104.67L207.98 104.41L208.07 104.08L208.21 103.69L208.42 103.24L208.72 102.73L209.11 102.17L209.62 101.59L210.25 100.99L210.98 100.41L211.82 99.87L212.74 99.39L213.71 98.98L214.71 98.65L215.7 98.43L216.68 98.3L217.61 98.28L218.48 98.38L219.27 98.59L219.97 98.92L220.55 99.39L221 99.99L221.3 100.69L221.47 101.49L221.49 102.35L221.35 103.25L221.08 104.15L220.66 105.03L220.13 105.85L219.5 106.59L218.78 107.25L218 107.83L217.17 108.33L216.3 108.73L215.43 109.05L214.57 109.27L213.74 109.42L212.97 109.49L212.28 109.5L211.68 109.47L211.16 109.42L210.72 109.35L210.35 109.29L210.04 109.23L209.78 109.18L209.56 109.14L209.36 109.11L209.19 109.09L209.04 109.08L208.9 109.08L208.77 109.08L208.65 109.09L208.53 109.1L208.42 109.11L208.32 109.12L208.22 109.13L208.12 109.14L208.02 109.15L207.92 109.16L207.83 109.16L207.74 109.17L207.65 109.17L207.56 109.16L207.47 109.16L207.38 109.15L207.29 109.14L207.2 109.13L207.12 109.11L207.03 109.1L206.95 109.08L206.86 109.06L206.78 109.04L206.69 109.01L206.61 108.99L206.53 108.96L206.44 108.93L206.36 108.9L206.28 108.87L206.19 108.84L206.11 108.8L206.03 108.77L205.95 108.73L205.87 108.69L205.78 108.65L205.7 108.61L205.62 108.57L205.53 108.53L205.45 108.48L205.37 108.43L205.28 108.39L205.2 108.34L205.11 108.28L205.03 108.23L204.95 108.18L204.87 108.12L204.8 108.06L204.73 108L204.67 107.94L204.62 107.88L204.59 107.81L204.56 107.74Z" fill="#000" fill-opacity="0.055" stroke="#2a2a2a" stroke-width="0.6" stroke-opacity="0.35"/>
<path d="M206.09 107.09L206.09 107.04L206.1 106.99L206.12 106.93L206.14 106.88L206.17 106.83L206.2 106.78L206.24 106.72L206.29 106.67L206.33 106.63L206.38 106.58L206.43 106.54L206.48 106.5L206.53 106.46L206.58 106.43L206.63 106.4L206.69 106.37L206.74 106.34L206.79 106.32L206.85 106.29L206.9 106.27L206.96 106.25L207.01 106.23L207.07 106.2L207.13 106.18L207.18 106.16L207.24 106.14L207.3 106.12L207.35 106.1L207.41 106.07L207.47 106.05L207.52 106.03L207.58 106.01L207.63 105.98L207.69 105.96L207.74 105.94L207.79 105.91L207.84 105.88L207.89 105.85L207.94 105.82L207.98 105.79L208.02 105.75L208.05 105.71L208.08 105.66L208.11 105.6L208.13 105.53L208.15 105.44L208.17 105.33L208.18 105.2L208.2 105.03L208.23 104.81L208.29 104.54L208.39 104.2L208.54 103.8L208.77 103.34L209.09 102.83L209.52 102.28L210.07 101.71L210.72 101.15L211.48 100.62L212.32 100.13L213.21 99.72L214.14 99.38L215.07 99.14L215.98 98.99L216.86 98.95L217.69 99.01L218.44 99.19L219.1 99.48L219.65 99.9L220.08 100.44L220.38 101.09L220.53 101.83L220.54 102.62L220.41 103.46L220.13 104.29L219.72 105.11L219.2 105.86L218.57 106.54L217.87 107.14L217.11 107.65L216.31 108.08L215.48 108.42L214.65 108.67L213.83 108.84L213.06 108.93L212.36 108.95L211.73 108.91L211.19 108.84L210.74 108.76L210.37 108.66L210.06 108.58L209.81 108.5L209.6 108.43L209.42 108.37L209.27 108.32L209.14 108.29L209.03 108.26L208.92 108.24L208.83 108.23L208.75 108.22L208.66 108.21L208.59 108.21L208.52 108.21L208.45 108.21L208.38 108.21L208.31 108.2L208.25 108.2L208.19 108.2L208.13 108.19L208.07 108.19L208.01 108.18L207.95 108.17L207.89 108.16L207.83 108.14L207.78 108.13L207.72 108.11L207.67 108.1L207.61 108.08L207.56 108.06L207.5 108.04L207.45 108.02L207.4 108L207.35 107.98L207.29 107.96L207.24 107.93L207.19 107.91L207.14 107.88L207.08 107.86L207.03 107.83L206.98 107.81L206.93 107.78L206.88 107.75L206.82 107.72L206.77 107.69L206.72 107.66L206.67 107.63L206.61 107.6L206.56 107.56L206.51 107.53L206.45 107.5L206.4 107.46L206.35 107.43L206.3 107.39L206.25 107.35L206.21 107.31L206.17 107.27L206.14 107.23L206.12 107.18L206.1 107.14Z" fill="#000" fill-opacity="0.055" stroke="#2a2a2a" stroke-width="0.6" stroke-opacity="0.35"/>
<path d="M207.23 106.66L207.23 106.63L207.23 106.6L207.24 106.57L207.26 106.54L207.28 106.5L207.3 106.47L207.32 106.44L207.35 106.41L207.37 106.38L207.4 106.35L207.43 106.33L207.46 106.3L207.49 106.28L207.52 106.26L207.55 106.24L207.59 106.23L207.62 106.21L207.65 106.19L207.68 106.18L207.72 106.17L207.75 106.15L207.78 106.14L207.82 106.13L207.85 106.11L207.89 106.1L207.92 106.09L207.96 106.07L207.99 106.06L208.02 106.05L208.06 106.03L208.09 106.02L208.13 106L208.16 105.99L208.19 105.98L208.22 105.96L208.25 105.94L208.28 105.93L208.31 105.91L208.33 105.89L208.36 105.87L208.38 105.84L208.4 105.81L208.41 105.78L208.43 105.74L208.43 105.69L208.44 105.63L208.44 105.55L208.44 105.45L208.44 105.32L208.45 105.15L208.48 104.93L208.54 104.65L208.65 104.31L208.82 103.91L209.08 103.45L209.43 102.95L209.89 102.42L210.46 101.89L211.13 101.37L211.89 100.9L212.7 100.48L213.55 100.14L214.41 99.89L215.26 99.73L216.08 99.66L216.85 99.69L217.55 99.83L218.18 100.08L218.7 100.45L219.1 100.93L219.38 101.52L219.53 102.19L219.53 102.92L219.4 103.68L219.12 104.45L218.72 105.19L218.2 105.87L217.6 106.48L216.92 107.02L216.19 107.46L215.42 107.83L214.63 108.11L213.85 108.3L213.1 108.41L212.39 108.45L211.76 108.42L211.2 108.35L210.74 108.25L210.36 108.15L210.05 108.04L209.8 107.94L209.6 107.85L209.44 107.77L209.3 107.71L209.19 107.65L209.1 107.61L209.02 107.58L208.95 107.55L208.88 107.53L208.83 107.51L208.77 107.5L208.72 107.49L208.68 107.48L208.63 107.47L208.59 107.46L208.55 107.45L208.51 107.45L208.47 107.44L208.43 107.43L208.39 107.42L208.36 107.41L208.32 107.4L208.29 107.38L208.25 107.37L208.22 107.36L208.19 107.35L208.15 107.33L208.12 107.32L208.09 107.3L208.06 107.29L208.03 107.27L208 107.25L207.96 107.24L207.93 107.22L207.9 107.2L207.87 107.19L207.84 107.17L207.81 107.15L207.78 107.13L207.75 107.12L207.72 107.1L207.69 107.08L207.66 107.06L207.63 107.04L207.6 107.02L207.57 107L207.54 106.98L207.51 106.96L207.48 106.94L207.44 106.91L207.41 106.89L207.38 106.87L207.35 106.85L207.33 106.82L207.3 106.8L207.28 106.77L207.26 106.75L207.24 106.72L207.23 106.69Z" fill="#000" fill-opacity="0.055" stroke="#2a2a2a" stroke-width="0.6" stroke-opacity="0.35"/>
<path d="M208.02 106.37L208.02 106.35L208.03 106.33L208.03 106.31L208.04 106.3L208.05 106.28L208.06 106.26L208.07 106.24L208.09 106.23L208.1 106.21L208.12 106.2L208.13 106.18L208.15 106.17L208.17 106.16L208.18 106.14L208.2 106.13L208.22 106.13L208.23 106.12L208.25 106.11L208.27 106.1L208.29 106.09L208.31 106.08L208.32 106.08L208.34 106.07L208.36 106.06L208.38 106.05L208.4 106.05L208.42 106.04L208.44 106.03L208.46 106.03L208.47 106.02L208.49 106.01L208.51 106L208.53 105.99L208.55 105.99L208.56 105.98L208.58 105.97L208.59 105.96L208.61 105.95L208.62 105.94L208.63 105.92L208.64 105.91L208.65 105.89L208.66 105.87L208.66 105.85L208.66 105.81L208.66 105.77L208.65 105.72L208.65 105.65L208.64 105.56L208.64 105.43L208.64 105.27L208.68 105.05L208.74 104.77L208.87 104.43L209.06 104.04L209.34 103.59L209.72 103.12L210.2 102.62L210.78 102.14L211.44 101.68L212.17 101.28L212.93 100.94L213.71 100.68L214.48 100.5L215.23 100.41L215.95 100.42L216.6 100.52L217.18 100.72L217.67 101.04L218.05 101.47L218.31 101.99L218.44 102.58L218.44 103.24L218.3 103.93L218.03 104.62L217.64 105.28L217.14 105.89L216.56 106.43L215.91 106.89L215.22 107.27L214.5 107.57L213.77 107.78L213.05 107.92L212.36 107.98L211.74 107.97L211.18 107.91L210.71 107.82L210.32 107.71L210 107.59L209.76 107.48L209.57 107.38L209.42 107.29L209.3 107.21L209.2 107.15L209.13 107.1L209.07 107.06L209.01 107.02L208.97 107L208.93 106.97L208.89 106.95L208.86 106.94L208.83 106.92L208.8 106.91L208.77 106.9L208.75 106.89L208.73 106.88L208.7 106.87L208.68 106.86L208.66 106.85L208.64 106.84L208.62 106.83L208.6 106.82L208.58 106.81L208.56 106.8L208.54 106.79L208.53 106.78L208.51 106.77L208.49 106.76L208.48 106.75L208.46 106.74L208.44 106.73L208.43 106.72L208.41 106.71L208.39 106.69L208.38 106.68L208.36 106.67L208.35 106.66L208.33 106.65L208.32 106.64L208.3 106.63L208.28 106.61L208.27 106.6L208.25 106.59L208.24 106.58L208.22 106.57L208.21 106.56L208.19 106.54L208.17 106.53L208.16 106.52L208.14 106.51L208.12 106.49L208.11 106.48L208.09 106.47L208.08 106.45L208.06 106.44L208.05 106.43L208.04 106.41L208.03 106.4L208.03 106.38Z" fill="#000" fill-opacity="0.055" stroke="#2a2a2a" stroke-width="0.6" stroke-opacity="0.35"/>
<path d="M208.54 106.17L208.54 106.17L208.54 106.16L208.54 106.15L208.54 106.14L208.55 106.13L208.55 106.12L208.56 106.12L208.57 106.11L208.57 106.1L208.58 106.09L208.59 106.09L208.59 106.08L208.6 106.07L208.61 106.07L208.62 106.06L208.63 106.06L208.63 106.06L208.64 106.05L208.65 106.05L208.66 106.04L208.67 106.04L208.68 106.04L208.69 106.03L208.69 106.03L208.7 106.03L208.71 106.02L208.72 106.02L208.73 106.02L208.74 106.01L208.75 106.01L208.75 106.01L208.76 106L208.77 106L208.78 105.99L208.79 105.99L208.79 105.98L208.8 105.98L208.81 105.97L208.81 105.97L208.82 105.96L208.82 105.95L208.82 105.95L208.82 105.93L208.82 105.92L208.82 105.9L208.82 105.88L208.81 105.85L208.8 105.8L208.79 105.74L208.78 105.66L208.78 105.54L208.79 105.38L208.83 105.17L208.91 104.91L209.04 104.59L209.25 104.21L209.55 103.8L209.94 103.36L210.42 102.92L210.98 102.5L211.61 102.12L212.27 101.79L212.96 101.53L213.65 101.34L214.32 101.23L214.96 101.21L215.56 101.27L216.08 101.43L216.53 101.69L216.88 102.05L217.12 102.5L217.24 103.02L217.23 103.59L217.1 104.19L216.84 104.8L216.46 105.38L215.99 105.9L215.44 106.36L214.83 106.75L214.19 107.06L213.53 107.29L212.87 107.45L212.23 107.53L211.63 107.55L211.09 107.51L210.62 107.43L210.24 107.32L209.93 107.21L209.69 107.09L209.51 106.99L209.37 106.9L209.27 106.82L209.19 106.76L209.12 106.7L209.08 106.66L209.04 106.63L209.01 106.6L208.98 106.57L208.96 106.55L208.94 106.54L208.92 106.52L208.91 106.51L208.89 106.5L208.88 106.49L208.86 106.48L208.85 106.47L208.84 106.46L208.83 106.46L208.82 106.45L208.81 106.44L208.8 106.43L208.79 106.43L208.78 106.42L208.78 106.41L208.77 106.41L208.76 106.4L208.75 106.39L208.74 106.38L208.74 106.38L208.73 106.37L208.72 106.36L208.71 106.36L208.71 106.35L208.7 106.34L208.69 106.34L208.69 106.33L208.68 106.32L208.67 106.32L208.67 106.31L208.66 106.3L208.65 106.3L208.65 106.29L208.64 106.29L208.63 106.28L208.63 106.27L208.62 106.27L208.61 106.26L208.6 106.25L208.6 106.25L208.59 106.24L208.58 106.24L208.57 106.23L208.57 106.22L208.56 106.22L208.55 106.21L208.55 106.2L208.54 106.2L208.54 106.19L208.54 106.18Z" fill="#000" fill-opacity="0.055" stroke="#2a2a2a" stroke-width="0.6" stroke-opacity="0.35"/>
<path d="M208.83 106.06L208.83 106.06L208.83 106.06L208.83 106.06L208.83 106.05L208.83 106.05L208.83 106.05L208.84 106.04L208.84 106.04L208.84 106.04L208.84 106.03L208.85 106.03L208.85 106.03L208.85 106.03L208.85 106.03L208.86 106.02L208.86 106.02L208.86 106.02L208.87 106.02L208.87 106.02L208.87 106.02L208.88 106.02L208.88 106.01L208.88 106.01L208.88 106.01L208.89 106.01L208.89 106.01L208.89 106.01L208.9 106.01L208.9 106L208.9 106L208.91 106L208.91 106L208.91 106L208.92 106L208.92 106L208.92 105.99L208.92 105.99L208.92 105.99L208.93 105.99L208.93 105.98L208.93 105.98L208.93 105.98L208.93 105.97L208.93 105.97L208.92 105.96L208.92 105.95L208.91 105.93L208.91 105.91L208.9 105.87L208.89 105.83L208.88 105.76L208.88 105.65L208.9 105.51L208.94 105.32L209.03 105.09L209.17 104.8L209.38 104.46L209.68 104.1L210.05 103.72L210.5 103.35L211.01 103L211.56 102.7L212.14 102.45L212.73 102.26L213.31 102.14L213.87 102.09L214.38 102.12L214.85 102.23L215.24 102.43L215.55 102.72L215.76 103.08L215.87 103.51L215.86 103.99L215.73 104.5L215.48 105.01L215.13 105.49L214.7 105.92L214.19 106.29L213.65 106.6L213.08 106.83L212.5 107L211.93 107.09L211.39 107.13L210.89 107.11L210.46 107.05L210.1 106.96L209.81 106.86L209.58 106.76L209.42 106.66L209.3 106.58L209.21 106.51L209.15 106.45L209.1 106.4L209.06 106.37L209.04 106.33L209.02 106.31L209 106.29L208.99 106.27L208.98 106.26L208.97 106.25L208.96 106.24L208.96 106.23L208.95 106.22L208.95 106.22L208.94 106.21L208.94 106.21L208.93 106.2L208.93 106.2L208.92 106.19L208.92 106.19L208.92 106.18L208.91 106.18L208.91 106.17L208.91 106.17L208.9 106.17L208.9 106.16L208.9 106.16L208.9 106.15L208.89 106.15L208.89 106.15L208.89 106.14L208.89 106.14L208.89 106.14L208.88 106.13L208.88 106.13L208.88 106.13L208.88 106.12L208.87 106.12L208.87 106.12L208.87 106.12L208.87 106.11L208.87 106.11L208.86 106.11L208.86 106.11L208.86 106.1L208.86 106.1L208.85 106.1L208.85 106.1L208.85 106.09L208.85 106.09L208.84 106.09L208.84 106.09L208.84 106.08L208.84 106.08L208.83 106.08L208.83 106.08L208.83 106.07L208.83 106.07L208.83 106.07Z" fill="#000" fill-opacity="0.055" stroke="#2a2a2a" stroke-width="0.6" stroke-opacity="0.35"/>
<path d="M208.96 106.01L208.96 106.01L208.96 106.01L208.96 106.01L208.96 106.01L208.96 106.01L208.96 106.01L208.96 106.01L208.96 106.01L208.96 106.01L208.96 106.01L208.96 106.01L208.97 106.01L208.97 106.01L208.97 106.01L208.97 106.01L208.97 106.01L208.97 106L208.97 106L208.97 106L208.97 106L208.97 106L208.97 106L208.97 106L208.97 106L208.97 106L208.97 106L208.98 106L208.98 106L208.98 106L208.98 106L208.98 106L208.98 106L208.98 106L208.98 106L208.98 106L208.98 106L208.98 106L208.98 106L208.98 106L208.98 106L208.98 106L208.98 105.99L208.98 105.99L208.98 105.99L208.98 105.99L208.98 105.98L208.97 105.98L208.97 105.97L208.97 105.96L208.96 105.94L208.95 105.9L208.95 105.85L208.95 105.78L208.97 105.67L209.01 105.53L209.09 105.34L209.22 105.11L209.41 104.84L209.67 104.55L209.99 104.26L210.36 103.97L210.78 103.71L211.22 103.49L211.68 103.31L212.14 103.18L212.59 103.12L213.01 103.11L213.38 103.17L213.71 103.3L213.97 103.51L214.14 103.78L214.23 104.11L214.22 104.48L214.1 104.86L213.88 105.25L213.57 105.62L213.19 105.94L212.76 106.21L212.31 106.42L211.84 106.58L211.37 106.68L210.93 106.72L210.52 106.72L210.16 106.68L209.85 106.61L209.61 106.54L209.43 106.45L209.29 106.38L209.2 106.31L209.13 106.26L209.09 106.22L209.06 106.18L209.04 106.16L209.02 106.14L209.01 106.12L209.01 106.11L209 106.1L209 106.09L208.99 106.08L208.99 106.08L208.99 106.07L208.99 106.07L208.99 106.07L208.98 106.06L208.98 106.06L208.98 106.06L208.98 106.06L208.98 106.05L208.98 106.05L208.98 106.05L208.98 106.05L208.98 106.05L208.98 106.05L208.98 106.04L208.98 106.04L208.97 106.04L208.97 106.04L208.97 106.04L208.97 106.04L208.97 106.04L208.97 106.04L208.97 106.03L208.97 106.03L208.97 106.03L208.97 106.03L208.97 106.03L208.97 106.03L208.97 106.03L208.97 106.03L208.97 106.03L208.97 106.03L208.97 106.03L208.97 106.03L208.97 106.02L208.97 106.02L208.97 106.02L208.97 106.02L208.97 106.02L208.97 106.02L208.96 106.02L208.96 106.02L208.96 106.02L208.96 106.02L208.96 106.02L208.96 106.02L208.96 106.02L208.96 106.02L208.96 106.02L208.96 106.02Z" fill="#000" fill-opacity="0.055" stroke="#2a2a2a" stroke-width="0.6" stroke-opacity="0.35"/>
<ellipse cx="209" cy="106.5" rx="4.2" ry="1.3" transform="rotate(-28 209 106.5)" fill="#fff" fill-opacity="0.9"/>
<path d="M168.46 144.44h1v1h-1zM147.39 138.21h1v1h-1zM156.7 142.41h1v1h-1zM218.3 87.81h1v1h-1zM197.31 138.91h1v1h-1zM147.67 137.92h1v1h-1zM128.45 131.89h1v1h-1zM145.05 156.03h1v1h-1zM155.66 142.5h1v1h-1zM178.91 150.85h1v1h-1zM198 138.48h1v1h-1zM204.79 137.26h1v1h-1zM216.46 126.54h1v1h-1zM178.66 144.83h1v1h-1zM178.27 153.61h1v1h-1zM171.59 149.91h1v1h-1zM141.37 131.41h1v1h-1zM154.7 143.29h1v1h-1zM167.69 145.74h1v1h-1zM135.4 134.47h1v1h-1zM208.61 90.06h1v1h-1zM180.15 104.39h1v1h-1zM164.03 148.62h1v1h-1zM141.88 125.18h1v1h-1zM142.36 129.27h1v1h-1zM175.44 156.73h1v1h-1zM179.35 144.81h1v1h-1zM138.47 147.04h1v1h-1zM167.17 149.68h1v1h-1zM175.24 147.13h1v1h-1zM175.69 162.82h1v1h-1zM218.61 119.6h1v1h-1zM140.85 131.26h1v1h-1zM195.97 97.86h1v1h-1zM163.31 147.33h1v1h-1zM199.87 95.18h1v1h-1zM192.99 148.54h1v1h-1zM139.45 130.26h1v1h-1zM150.71 144.85h1v1h-1zM176.55 106.13h1v1h-1zM209.43 137.18h1v1h-1zM147.29 139.87h1v1h-1zM177.19 145.69h1v1h-1zM149.42 139.97h1v1h-1zM163.84 147.53h1v1h-1zM157.35 147.13h1v1h-1zM140.64 115.39h1v1h-1zM173.07 148.62h1v1h-1zM177.67 146.55h1v1h-1zM146.81 140.13h1v1h-1zM193.18 143.68h1v1h-1zM169.07 150.21h1v1h-1zM142.03 125.05h1v1h-1zM187.35 147.83h1v1h-1zM194.97 142.95h1v1h-1zM172.14 107.3h1v1h-1zM148.6 153.81h1v1h-1zM187.33 146.97h1v1h-1zM133.45 140.64h1v1h-1zM169.35 153.46h1v1h-1zM169.1 146.36h1v1h-1zM163.14 157.87h1v1h-1zM160.53 151.64h1v1h-1zM172.44 107.38h1v1h-1zM185.52 164.44h1v1h-1zM224.89 115.15h1v1h-1zM186.71 155.03h1v1h-1zM143.79 115.38h1v1h-1zM137.46 136.37h1v1h-1zM210.32 88.55h1v1h-1zM164.93 147.11h1v1h-1zM198.19 139.86h1v1h-1zM139.25 152.08h1v1h-1zM160.55 157.78h1v1h-1zM160.12 112.07h1v1h-1zM149.98 141.29h1v1h-1zM136.04 144.3h1v1h-1zM143.1 142.55h1v1h-1zM171.93 148.28h1v1h-1zM169.67 107.56h1v1h-1zM196.69 97.69h1v1h-1zM139.75 143.85h1v1h-1zM174.09 151.47h1v1h-1zM192.05 100.15h1v1h-1zM145.16 144.19h1v1h-1zM164.94 149.07h1v1h-1zM170.02 154.04h1v1h-1zM187.77 145.73h1v1h-1zM184.58 145.92h1v1h-1zM225.12 114.78h1v1h-1zM134.12 125.86h1v1h-1zM142.07 152.4h1v1h-1zM179.65 149.19h1v1h-1zM172.3 144.94h1v1h-1zM195.75 141.67h1v1h-1zM152.19 156.78h1v1h-1zM138.75 129.08h1v1h-1zM190.72 146.33h1v1h-1zM135.16 126.71h1v1h-1zM151.66 107.28h1v1h-1zM141.03 136.03h1v1h-1zM163.26 151.74h1v1h-1zM182.59 146.93h1v1h-1zM175.33 149.88h1v1h-1zM151.33 139.62h1v1h-1zM193.95 146.1h1v1h-1zM170.02 169.52h1v1h-1zM162.44 144.29h1v1h-1zM190.31 145.94h1v1h-1zM173.91 150.61h1v1h-1zM152.83 157.07h1v1h-1zM141.08 146.39h1v1h-1zM174.82 106.03h1v1h-1zM143.54 138.1h1v1h-1zM133.92 131.55h1v1h-1zM155.67 146.48h1v1h-1zM151.28 139.83h1v1h-1zM162.84 108.3h1v1h-1zM185.88 159.26h1v1h-1zM152.81 141.66h1v1h-1zM141.86 130.16h1v1h-1zM167.5 145.85h1v1h-1zM151.82 153.23h1v1h-1zM175.96 144.73h1v1h-1zM156.87 155.88h1v1h-1zM220.06 88.24h1v1h-1zM199.56 96.02h1v1h-1zM186.87 144.44h1v1h-1zM189.04 98.83h1v1h-1zM194.13 148.22h1v1h-1zM134 145.77h1v1h-1zM168.99 152.57h1v1h-1zM191.2 143.98h1v1h-1zM208.17 134.55h1v1h-1zM134.36 146.33h1v1h-1zM183.01 152.58h1v1h-1zM139.07 136.28h1v1h-1zM174.01 148.92h1v1h-1zM174.5 148.75h1v1h-1zM143.76 146.72h1v1h-1zM157.86 144.22h1v1h-1zM169.25 154.25h1v1h-1zM184 151.03h1v1h-1zM146.04 145.95h1v1h-1zM185.14 144.95h1v1h-1zM142.65 142.51h1v1h-1zM140.37 123.05h1v1h-1zM180.47 146.29h1v1h-1zM176.75 152.77h1v1h-1zM144.41 135.84h1v1h-1zM217.94 122.17h1v1h-1zM150.84 148.59h1v1h-1zM162.16 149.06h1v1h-1zM158.61 146.37h1v1h-1zM165.61 154.97h1v1h-1zM122.69 144.03h1v1h-1zM199.82 152.77h1v1h-1zM186.2 143.53h1v1h-1zM201.26 95.13h1v1h-1zM131.88 122.88h1v1h-1zM207.87 92.9h1v1h-1zM140.82 144.31h1v1h-1zM149.49 139.74h1v1h-1zM150.86 115.33h1v1h-1zM166.87 151.58h1v1h-1zM177.15 158.74h1v1h-1zM166.04 157.08h1v1h-1zM161.61 149.24h1v1h-1zM198.87 143.13h1v1h-1zM142.8 135.11h1v1h-1zM178.24 146.16h1v1h-1zM167.71 149.78h1v1h-1zM164.93 146.74h1v1h-1zM192.21 98.37h1v1h-1zM139.69 121.66h1v1h-1zM186.86 145.85h1v1h-1zM154.44 150.9h1v1h-1zM149.76 150.36h1v1h-1zM158.74 142.4h1v1h-1zM151.37 113.47h1v1h-1zM144.92 139.73h1v1h-1zM153.1 142.41h1v1h-1zM146.95 144.76h1v1h-1zM174.17 158.83h1v1h-1zM141.21 145.31h1v1h-1zM140.64 125.25h1v1h-1zM121.46 120.72h1v1h-1zM132.75 128.56h1v1h-1zM217.24 121.18h1v1h-1zM222.02 120.5h1v1h-1zM190.23 93.25h1v1h-1zM172.68 146.58h1v1h-1zM139.89 126.11h1v1h-1zM168.97 155.28h1v1h-1zM181.04 103.24h1v1h-1zM160.66 149.09h1v1h-1zM137.42 127.72h1v1h-1zM202.71 149.52h1v1h-1zM132.92 147.54h1v1h-1zM173.27 149.58h1v1h-1zM151.04 146.31h1v1h-1zM159.92 161.74h1v1h-1zM166.81 149.82h1v1h-1zM196.75 97.34h1v1h-1zM168.61 148.14h1v1h-1zM137.2 125.33h1v1h-1zM151.89 143.15h1v1h-1zM131.02 145.68h1v1h-1zM149.38 142.35h1v1h-1zM137.91 124.44h1v1h-1zM193.86 142.78h1v1h-1zM196.15 143.58h1v1h-1zM151.24 115.64h1v1h-1zM165.12 165.08h1v1h-1zM148.1 150.57h1v1h-1zM195.3 141.42h1v1h-1zM144.16 147.75h1v1h-1zM147.88 158.19h1v1h-1zM159.68 112.53h1v1h-1zM150.93 157.44h1v1h-1zM145.68 146.35h1v1h-1zM197.35 93.16h1v1h-1zM170.19 148.89h1v1h-1zM166.5 144.62h1v1h-1zM166.4 162.32h1v1h-1zM148.38 117.57h1v1h-1zM161.95 157.26h1v1h-1zM167.89 146.83h1v1h-1zM149.95 139.92h1v1h-1zM153.02 143.31h1v1h-1zM195.2 140.18h1v1h-1zM158.07 147.19h1v1h-1zM146.24 143.42h1v1h-1zM140.21 151.98h1v1h-1zM180.99 104.75h1v1h-1zM123.68 128.12h1v1h-1zM163.54 161.88h1v1h-1zM208.24 89.02h1v1h-1zM170.47 150.75h1v1h-1zM140.29 140.28h1v1h-1zM189.98 153.35h1v1h-1zM216.08 122.02h1v1h-1zM177.59 145.04h1v1h-1zM164.33 146.24h1v1h-1zM150.65 117.33h1v1h-1zM188.26 145.89h1v1h-1zM161.13 111.73h1v1h-1zM161.52 153.17h1v1h-1zM149.99 142.68h1v1h-1zM190.82 159.72h1v1h-1zM188.5 142.91h1v1h-1zM173.62 146.63h1v1h-1zM208.23 91.5h1v1h-1zM221.05 121.47h1v1h-1zM196.57 147.29h1v1h-1zM179.15 146.02h1v1h-1zM142.9 118.32h1v1h-1zM156.41 144.06h1v1h-1zM168.51 145.28h1v1h-1zM202.46 146.6h1v1h-1zM142.64 120.62h1v1h-1zM157.54 142.59h1v1h-1zM158.05 111.47h1v1h-1zM161.03 106.93h1v1h-1zM156.75 106.93h1v1h-1zM144.46 118.6h1v1h-1zM143.38 140.77h1v1h-1zM206.54 136.04h1v1h-1zM197.39 142.84h1v1h-1zM147.04 152h1v1h-1zM165.34 158.3h1v1h-1zM193.62 96.69h1v1h-1zM181.94 146.35h1v1h-1zM145.17 143.46h1v1h-1zM188.45 146.66h1v1h-1zM157.51 150.71h1v1h-1zM140.41 113.23h1v1h-1zM158.48 145.66h1v1h-1zM151.17 154.55h1v1h-1zM149.6 145.37h1v1h-1zM161.08 146.33h1v1h-1zM189.41 144.51h1v1h-1zM136.71 118.32h1v1h-1zM176.13 146.27h1v1h-1zM151.01 154.8h1v1h-1zM194.24 96.36h1v1h-1zM210.41 134.16h1v1h-1zM172.6 155.46h1v1h-1zM159.43 146.62h1v1h-1zM145.47 143.41h1v1h-1zM154.58 107.29h1v1h-1zM193.8 96.85h1v1h-1zM153.04 141.26h1v1h-1zM164.85 146.94h1v1h-1zM160.76 143.73h1v1h-1zM135.86 132.55h1v1h-1zM143.16 134.06h1v1h-1zM145.66 149.78h1v1h-1zM154.01 144.8h1v1h-1zM188.24 145.65h1v1h-1zM164.15 147.31h1v1h-1zM193.69 93.97h1v1h-1zM155.5 142.71h1v1h-1zM154.7 143.38h1v1h-1zM158.62 144.12h1v1h-1zM182.68 155.32h1v1h-1zM189.41 155.02h1v1h-1zM184.53 144.3h1v1h-1zM132.26 125.64h1v1h-1zM143.48 153.75h1v1h-1zM172.12 146.98h1v1h-1zM185.7 143.87h1v1h-1zM172.51 150.94h1v1h-1zM160.16 143.43h1v1h-1zM189.87 147.06h1v1h-1zM150.08 144.57h1v1h-1zM141.66 141.97h1v1h-1zM187.28 143.07h1v1h-1zM161.73 108.54h1v1h-1zM149.4 164.57h1v1h-1zM133.03 136.87h1v1h-1zM168.99 107.58h1v1h-1zM160.83 150.78h1v1h-1zM149.09 146.55h1v1h-1zM138.12 144.47h1v1h-1zM157.11 111.79h1v1h-1zM147.46 120.54h1v1h-1zM132.97 135.66h1v1h-1zM152.31 112.01h1v1h-1zM188.79 100.11h1v1h-1zM168.85 163.39h1v1h-1zM180.09 156.37h1v1h-1zM157.35 145.76h1v1h-1zM194.69 98.52h1v1h-1zM146.86 139.11h1v1h-1zM211.33 86.82h1v1h-1zM154.99 145.51h1v1h-1zM139.61 122.81h1v1h-1zM180.31 148.92h1v1h-1zM142.15 127.52h1v1h-1zM197.3 145.08h1v1h-1zM198.9 142.17h1v1h-1zM157.6 147.44h1v1h-1zM180.94 153.93h1v1h-1zM138.01 124.58h1v1h-1zM128.1 136.79h1v1h-1zM146.6 139.28h1v1h-1zM140.79 146.48h1v1h-1zM223.11 117.74h1v1h-1zM187.98 150.08h1v1h-1zM222.51 89.49h1v1h-1zM158.63 112.46h1v1h-1zM120.84 124.64h1v1h-1zM173.6 151.32h1v1h-1zM154.31 113.21h1v1h-1zM190.38 100.82h1v1h-1zM146.82 140.61h1v1h-1zM177.11 154.95h1v1h-1zM192.84 98.11h1v1h-1zM162.2 159.49h1v1h-1zM208.14 131.79h1v1h-1zM175.26 144.62h1v1h-1zM203.48 134.9h1v1h-1zM171.74 156.32h1v1h-1zM166.04 146.75h1v1h-1zM171.06 151.75h1v1h-1zM188.89 151.15h1v1h-1zM150.99 148.14h1v1h-1zM138.49 155.47h1v1h-1zM191.25 97.89h1v1h-1zM162.35 110.68h1v1h-1zM151.01 116.78h1v1h-1zM126.87 141.91h1v1h-1zM139.59 143.15h1v1h-1zM230.45 98.3h1v1h-1zM140.05 136.85h1v1h-1zM203.23 92.54h1v1h-1zM176.29 148.32h1v1h-1zM176.2 147.17h1v1h-1zM143.69 137.98h1v1h-1zM141.99 126.68h1v1h-1zM195.57 140.39h1v1h-1zM166.27 154.39h1v1h-1zM143.96 124.98h1v1h-1zM229.42 113.3h1v1h-1zM178.74 152.59h1v1h-1zM147.92 140.31h1v1h-1zM154.94 147.49h1v1h-1zM149.39 149.65h1v1h-1zM156.02 143.07h1v1h-1zM157.16 151.97h1v1h-1zM146.78 149.24h1v1h-1zM157.75 164.05h1v1h-1zM153.43 160.35h1v1h-1zM199.27 138.83h1v1h-1zM182.36 101.91h1v1h-1zM154.93 142.09h1v1h-1zM185.09 102.99h1v1h-1zM135.54 147.46h1v1h-1zM168 156.22h1v1h-1zM196.29 146.99h1v1h-1zM145.65 136.59h1v1h-1zM175.55 102.3h1v1h-1zM174.25 146.16h1v1h-1zM145.19 118.11h1v1h-1zM141.23 135.32h1v1h-1zM170.14 151.03h1v1h-1zM153.95 140.85h1v1h-1zM205.25 136.14h1v1h-1zM152.29 145.14h1v1h-1zM157.68 162.41h1v1h-1zM164.42 151.94h1v1h-1zM140.36 140.67h1v1h-1zM181.83 145.16h1v1h-1zM182.81 144.32h1v1h-1zM161.94 152.85h1v1h-1zM151.24 144.09h1v1h-1zM195.41 144.95h1v1h-1zM163.09 145.03h1v1h-1zM205.23 90.25h1v1h-1zM171.89 156.97h1v1h-1zM153.42 152.22h1v1h-1zM142 120.99h1v1h-1zM158.35 152.71h1v1h-1zM129.81 126.73h1v1h-1zM143.45 135.22h1v1h-1zM182.67 155.09h1v1h-1zM182.56 146.75h1v1h-1zM155.8 150.35h1v1h-1zM175.59 155.19h1v1h-1zM158.42 146.19h1v1h-1zM144.59 120.64h1v1h-1zM171.14 150.86h1v1h-1zM172.76 150.32h1v1h-1zM143.98 139.14h1v1h-1zM142.54 127.69h1v1h-1zM180.65 148.62h1v1h-1zM165.33 148.27h1v1h-1zM172.98 145.07h1v1h-1zM146.7 121.19h1v1h-1zM168.77 149.37h1v1h-1zM215.4 90.19h1v1h-1zM195.06 94.58h1v1h-1zM149.53 140.82h1v1h-1zM199.64 93.3h1v1h-1zM182.48 154.02h1v1h-1zM156.03 147.08h1v1h-1zM156.05 163.32h1v1h-1zM172.23 151.93h1v1h-1zM151.2 147.64h1v1h-1zM179.65 146.94h1v1h-1zM165.26 160.9h1v1h-1zM145.1 154.33h1v1h-1zM158.06 160.71h1v1h-1zM164.74 152.63h1v1h-1zM186.55 148.36h1v1h-1zM170.92 151.54h1v1h-1zM187.42 148.61h1v1h-1zM156.99 142.29h1v1h-1zM185.69 146.78h1v1h-1zM178.56 149.91h1v1h-1zM156.47 142.18h1v1h-1zM176.46 153.53h1v1h-1zM199.6 154.83h1v1h-1zM150.66 145.67h1v1h-1zM190.41 150h1v1h-1zM147.19 147.57h1v1h-1zM154.84 143.13h1v1h-1zM180.49 151.62h1v1h-1zM160.7 146.27h1v1h-1zM134.83 126.32h1v1h-1zM188.83 149.66h1v1h-1zM142.84 151.94h1v1h-1zM169.59 144.5h1v1h-1zM169.56 148.8h1v1h-1zM161.55 152.59h1v1h-1zM160.92 144.11h1v1h-1zM169.57 153.83h1v1h-1zM182.48 143.97h1v1h-1zM195.74 98.25h1v1h-1zM202.87 138.79h1v1h-1zM201.29 143.52h1v1h-1zM180.49 146.97h1v1h-1zM140.09 132.29h1v1h-1zM189.66 143.23h1v1h-1zM179.14 144.97h1v1h-1zM191.33 148.48h1v1h-1zM168.92 153.59h1v1h-1zM142.45 138.53h1v1h-1zM146.33 141.86h1v1h-1zM189.62 148.58h1v1h-1zM207.93 132.58h1v1h-1zM145.97 140.84h1v1h-1zM177.21 148.07h1v1h-1zM159.98 161.77h1v1h-1zM144.94 120.24h1v1h-1zM140.29 152.95h1v1h-1zM198.72 144.68h1v1h-1zM178.17 150.11h1v1h-1zM199.1 95.48h1v1h-1zM183.24 147.26h1v1h-1zM151.61 140.14h1v1h-1zM153.62 140.89h1v1h-1zM178.36 146.78h1v1h-1zM148.4 156.65h1v1h-1zM182.44 145.78h1v1h-1zM190.93 159.2h1v1h-1zM172.6 147.81h1v1h-1zM199.9 93.84h1v1h-1zM196.04 144.46h1v1h-1zM161.84 145.07h1v1h-1zM155.7 143.85h1v1h-1zM135.75 119.61h1v1h-1zM155.45 158.19h1v1h-1zM150.37 149.94h1v1h-1zM182.27 161.14h1v1h-1zM139.24 121.47h1v1h-1zM157.88 157.21h1v1h-1zM224.32 120.61h1v1h-1zM163.77 149.51h1v1h-1zM138.32 119.11h1v1h-1zM120.32 131.73h1v1h-1zM129.57 131.02h1v1h-1zM144.65 124.83h1v1h-1zM128.1 121.94h1v1h-1zM138.66 141.64h1v1h-1zM140.04 142.26h1v1h-1zM134.4 122.86h1v1h-1zM143.33 139.09h1v1h-1zM136.29 129.96h1v1h-1zM132.37 129.66h1v1h-1zM138.67 145.76h1v1h-1zM131.59 121.24h1v1h-1zM140.85 135.29h1v1h-1zM131.79 129.55h1v1h-1zM125.96 131.87h1v1h-1zM139.04 118.57h1v1h-1zM137.6 125.71h1v1h-1zM141.57 139.29h1v1h-1zM134.78 135.81h1v1h-1zM139.45 135.57h1v1h-1zM135.27 122.94h1v1h-1zM123.94 130.62h1v1h-1zM134.06 128.88h1v1h-1zM125.51 128.07h1v1h-1zM135.28 127.14h1v1h-1zM129.31 131.97h1v1h-1zM129.55 136.38h1v1h-1zM143.55 126.86h1v1h-1zM131.99 124.86h1v1h-1zM135.15 139.15h1v1h-1zM136.93 127.35h1v1h-1zM124.17 140.77h1v1h-1zM128.82 124.25h1v1h-1zM129.39 122.01h1v1h-1zM136.67 122.86h1v1h-1zM135.53 122.63h1v1h-1zM132.17 134h1v1h-1zM132.62 133.26h1v1h-1zM130.42 130.39h1v1h-1zM141.53 131.34h1v1h-1zM133.64 123.56h1v1h-1zM134.53 139.53h1v1h-1zM130.13 132.55h1v1h-1zM131.83 123.87h1v1h-1zM136.49 147.68h1v1h-1zM132 126.34h1v1h-1zM139.62 128.05h1v1h-1zM139.91 131.61h1v1h-1zM133.35 118.66h1v1h-1zM134.49 129.69h1v1h-1zM138.3 112.05h1v1h-1zM132.92 127.35h1v1h-1zM134.33 128.2h1v1h-1zM129.1 134.47h1v1h-1zM136.47 122.32h1v1h-1zM133.99 131.52h1v1h-1zM130.36 126.26h1v1h-1zM142.83 128.38h1v1h-1zM143.51 120.11h1v1h-1zM134.47 137.14h1v1h-1zM128.46 137.65h1v1h-1zM126.16 117.51h1v1h-1zM133.55 127.06h1v1h-1zM135.9 125.81h1v1h-1zM136.07 112.56h1v1h-1zM130.25 119.37h1v1h-1zM128.69 127.85h1v1h-1zM128.3 120.1h1v1h-1zM139.44 129.33h1v1h-1zM130.93 135.45h1v1h-1zM129.56 124.61h1v1h-1zM124.67 135.56h1v1h-1zM134.8 140.31h1v1h-1zM136.95 123.45h1v1h-1zM139.37 137.87h1v1h-1zM138.18 138.23h1v1h-1zM144.91 138.55h1v1h-1zM136.73 131.22h1v1h-1zM133.09 122.96h1v1h-1zM129.35 137.45h1v1h-1zM138.9 134.82h1v1h-1zM123.45 134.36h1v1h-1zM139.66 128.55h1v1h-1zM135.52 123.85h1v1h-1zM136.78 110.46h1v1h-1zM140.22 123.89h1v1h-1zM137.61 114.69h1v1h-1zM140.41 127.33h1v1h-1zM131.16 123.25h1v1h-1zM134.11 148.62h1v1h-1zM133.45 124.66h1v1h-1zM141.61 120.72h1v1h-1zM134.16 144.38h1v1h-1zM140.57 115.15h1v1h-1zM142.28 138h1v1h-1zM132.45 140.03h1v1h-1zM127.68 130.01h1v1h-1zM139.86 117.78h1v1h-1zM132.35 131.21h1v1h-1zM129.52 135.05h1v1h-1zM130.82 126.84h1v1h-1zM138.16 137.93h1v1h-1zM132.32 121.62h1v1h-1zM136.73 123.71h1v1h-1zM142.88 129.75h1v1h-1zM127.79 137.16h1v1h-1zM141.79 132.36h1v1h-1zM142.63 132.62h1v1h-1zM129.71 126.56h1v1h-1zM131 138.42h1v1h-1zM139.14 111.85h1v1h-1zM133.25 124.55h1v1h-1zM126.39 120.19h1v1h-1zM132.36 121.17h1v1h-1zM123.04 135.18h1v1h-1zM130.08 137.13h1v1h-1zM138.56 120.87h1v1h-1zM126.91 130.91h1v1h-1zM133.4 145.49h1v1h-1zM137.5 131.77h1v1h-1zM135.2 141.65h1v1h-1zM132.99 138.73h1v1h-1zM133.02 139.65h1v1h-1zM137.06 132.41h1v1h-1zM141.08 147.45h1v1h-1zM139.22 122.8h1v1h-1zM141.04 119.52h1v1h-1zM134.24 140.13h1v1h-1zM136.2 124.84h1v1h-1zM130.3 131.07h1v1h-1zM124.8 136.5h1v1h-1zM133.06 126.96h1v1h-1zM137.44 127.53h1v1h-1zM137.82 119.68h1v1h-1zM131.96 129.2h1v1h-1zM127.27 120.3h1v1h-1zM130.84 133.8h1v1h-1zM142.3 129.47h1v1h-1zM146.5 136.68h1v1h-1zM129.26 128.71h1v1h-1zM139.16 137.8h1v1h-1zM137.55 138.91h1v1h-1zM142.54 138.67h1v1h-1zM139.89 135.2h1v1h-1zM137.89 132.93h1v1h-1zM142.09 130.83h1v1h-1zM145.48 124.24h1v1h-1zM141.63 128.2h1v1h-1zM134.44 129.52h1v1h-1zM136.88 146.44h1v1h-1zM130.13 120.55h1v1h-1zM141.74 130.73h1v1h-1zM136.74 121.7h1v1h-1zM138.61 123.88h1v1h-1zM130.42 133.4h1v1h-1zM134.43 130.1h1v1h-1zM136.43 110.95h1v1h-1zM134.15 134.72h1v1h-1zM142.89 117.93h1v1h-1zM142.3 131.12h1v1h-1zM134.82 141.71h1v1h-1zM135.66 136.68h1v1h-1zM135.42 129.59h1v1h-1zM142.52 128.9h1v1h-1zM135.26 131.13h1v1h-1zM137.63 127.47h1v1h-1zM131.87 123.38h1v1h-1zM132.62 130.14h1v1h-1zM132.27 129.65h1v1h-1zM146.43 144.62h1v1h-1zM136.28 133.63h1v1h-1zM140.79 147.08h1v1h-1zM137.66 129.01h1v1h-1zM138.89 122.32h1v1h-1zM145.31 120.27h1v1h-1zM135.22 127.43h1v1h-1zM144.57 136.11h1v1h-1zM132.5 121.51h1v1h-1zM134.96 118.79h1v1h-1zM133.82 129.54h1v1h-1zM132.84 124.94h1v1h-1zM138.11 123.56h1v1h-1zM126.71 143.92h1v1h-1zM133.4 129.49h1v1h-1zM131.08 134.84h1v1h-1zM129.72 129.85h1v1h-1zM137.5 135.44h1v1h-1zM137.95 128.36h1v1h-1zM126.58 129.56h1v1h-1zM138.48 134.45h1v1h-1zM141.56 127.82h1v1h-1zM131.22 140.74h1v1h-1zM144.02 122.29h1v1h-1zM133.56 141.99h1v1h-1zM130.71 121.25h1v1h-1zM126.07 127.59h1v1h-1zM128.55 131.5h1v1h-1zM139.76 119.5h1v1h-1zM134.68 124.64h1v1h-1zM141.59 134.2h1v1h-1zM135.81 127.28h1v1h-1zM145.13 121.74h1v1h-1zM130.4 136.24h1v1h-1zM140.18 129.34h1v1h-1zM134.66 141.42h1v1h-1zM128.38 130.54h1v1h-1zM137.21 131.83h1v1h-1zM140.15 151.37h1v1h-1zM129.3 114.03h1v1h-1zM128.8 132.12h1v1h-1zM132.71 123.47h1v1h-1zM135.48 132.88h1v1h-1zM139.43 122.17h1v1h-1zM132.36 126.2h1v1h-1zM129.57 119.81h1v1h-1zM127.4 136.75h1v1h-1zM140.11 128.73h1v1h-1zM136.9 126.77h1v1h-1zM142.19 119.85h1v1h-1zM138.84 138.51h1v1h-1zM127.56 117.08h1v1h-1zM147.32 136.08h1v1h-1zM134.09 125.36h1v1h-1zM138.48 129.6h1v1h-1zM139.48 116.94h1v1h-1zM131.03 141.62h1v1h-1zM136.26 118.9h1v1h-1zM121.26 127.12h1v1h-1zM137.98 136.27h1v1h-1zM131.77 131.84h1v1h-1zM130.05 131.82h1v1h-1zM137.25 123.57h1v1h-1zM132.63 126.04h1v1h-1zM143.24 142.41h1v1h-1zM140.16 135.86h1v1h-1zM133.25 122.69h1v1h-1zM132.16 119.39h1v1h-1zM135.15 124.73h1v1h-1zM131.2 127.87h1v1h-1zM134.78 120.5h1v1h-1zM180.4 187.8h1v1h-1zM164.25 165.35h1v1h-1zM181.82 166.97h1v1h-1zM146.33 142.9h1v1h-1zM136.87 164.67h1v1h-1zM172.37 163.71h1v1h-1zM135.43 180.16h1v1h-1zM173.45 177h1v1h-1zM144.86 166.37h1v1h-1zM139.48 149.4h1v1h-1zM161.94 155.08h1v1h-1zM139.4 147.01h1v1h-1zM187.83 189.52h1v1h-1zM148.59 192.03h1v1h-1zM164.22 174.75h1v1h-1zM141.89 182.57h1v1h-1zM153.66 182.77h1v1h-1zM155.7 164.68h1v1h-1zM158.86 171.62h1v1h-1zM162.88 191.72h1v1h-1zM168.9 195.3h1v1h-1zM148.98 162.98h1v1h-1zM170.9 176.28h1v1h-1zM149.14 175.29h1v1h-1zM149.7 179.32h1v1h-1zM165.2 179.04h1v1h-1zM173.93 192.84h1v1h-1zM160.97 166.61h1v1h-1zM141.08 168.94h1v1h-1zM194.12 196.32h1v1h-1zM170.47 194.86h1v1h-1zM133.15 145.75h1v1h-1zM160.81 168.9h1v1h-1zM151.3 175.36h1v1h-1zM151.04 151.35h1v1h-1zM147.18 149.48h1v1h-1zM148.69 181.05h1v1h-1zM157.71 156.71h1v1h-1zM171.74 173.41h1v1h-1zM152.77 183.72h1v1h-1zM172.58 187.57h1v1h-1zM148.73 172.31h1v1h-1zM143.91 182.98h1v1h-1zM148.18 176.29h1v1h-1zM140.84 184.86h1v1h-1zM174.42 200.76h1v1h-1zM165.11 171.46h1v1h-1zM184.63 161.85h1v1h-1zM169.37 168.48h1v1h-1zM164.04 153.31h1v1h-1zM140.66 162.51h1v1h-1zM167.88 167.13h1v1h-1zM177.35 167.57h1v1h-1zM166.61 176.68h1v1h-1zM171.85 159.59h1v1h-1zM169.36 165.47h1v1h-1zM145.28 188.99h1v1h-1zM154.51 163.61h1v1h-1zM189.53 171.88h1v1h-1zM175.63 193.47h1v1h-1zM168.91 179.12h1v1h-1zM166.97 178.18h1v1h-1zM147.57 153.35h1v1h-1zM169.68 166.96h1v1h-1zM156.34 154.48h1v1h-1zM183.34 167.97h1v1h-1zM173.98 188.6h1v1h-1zM135.44 140.38h1v1h-1zM146.66 166.39h1v1h-1zM175.35 178.64h1v1h-1zM167.57 167.18h1v1h-1zM153.08 172.02h1v1h-1zM166.06 178.4h1v1h-1zM148.24 166.05h1v1h-1zM150.16 175.27h1v1h-1zM174.7 203.81h1v1h-1zM125.46 162.29h1v1h-1zM157.26 149.53h1v1h-1zM167 165.02h1v1h-1zM160.55 186.5h1v1h-1zM170.71 177.55h1v1h-1zM184.39 186.66h1v1h-1zM163.73 164.3h1v1h-1zM155.88 196.68h1v1h-1zM181.97 171.94h1v1h-1zM161.67 190.67h1v1h-1zM132.06 157.41h1v1h-1zM171.69 173.89h1v1h-1zM153.23 153.99h1v1h-1zM132.56 173.59h1v1h-1zM154.72 177.76h1v1h-1zM140.2 180.92h1v1h-1zM164.76 192.56h1v1h-1zM169.84 167.63h1v1h-1zM160.21 169.02h1v1h-1zM182.99 164.67h1v1h-1zM161.56 194.29h1v1h-1zM131.58 161.72h1v1h-1zM149.05 156.84h1v1h-1zM222.61 125.41h1v1h-1zM217.59 119.05h1v1h-1zM223.49 122.4h1v1h-1zM217.68 125.93h1v1h-1zM221.68 129.11h1v1h-1zM222.97 122.5h1v1h-1zM223.64 123.14h1v1h-1zM219.66 121.99h1v1h-1z" fill="#1a1a1a" fill-opacity="0.75"/>
<path d="M370.43 132.29L370.47 131.21L370.62 130.15L370.86 129.11L371.19 128.09L371.61 127.1L372.11 126.13L372.68 125.18L373.32 124.25L374.02 123.36L374.77 122.49L375.58 121.64L376.43 120.83L377.31 120.05L378.22 119.29L379.16 118.57L380.12 117.88L381.09 117.22L382.06 116.6L383.04 116.01L384.02 115.46L385 114.93L385.98 114.43L386.97 113.94L387.95 113.48L388.94 113.04L389.93 112.6L390.93 112.18L391.93 111.76L392.93 111.34L393.93 110.92L394.94 110.51L395.95 110.08L396.97 109.64L398 109.19L399.02 108.73L400.06 108.25L401.1 107.75L402.14 107.25L403.19 106.74L404.24 106.22L405.3 105.72L406.37 105.21L407.44 104.72L408.52 104.24L409.6 103.78L410.68 103.35L411.77 102.94L412.87 102.56L413.97 102.21L415.08 101.91L416.19 101.64L417.31 101.43L418.43 101.26L419.55 101.15L420.68 101.1L421.82 101.11L422.96 101.19L424.11 101.33L425.26 101.56L426.39 101.85L427.49 102.21L428.55 102.63L429.55 103.11L430.47 103.65L431.3 104.25L432.02 104.89L432.62 105.59L433.08 106.32L433.39 107.1L433.56 107.92L433.6 108.77L433.52 109.65L433.33 110.57L433.03 111.5L432.64 112.46L432.17 113.44L431.62 114.44L431 115.44L430.32 116.46L429.59 117.48L428.82 118.51L428.02 119.53L427.2 120.55L426.36 121.57L425.52 122.57L424.68 123.56L423.85 124.54L423.05 125.5L422.26 126.43L421.5 127.35L420.75 128.25L420.01 129.13L419.29 130L418.57 130.84L417.86 131.67L417.15 132.49L416.44 133.28L415.73 134.07L415.02 134.83L414.29 135.59L413.56 136.33L412.82 137.05L412.05 137.77L411.28 138.47L410.48 139.16L409.65 139.84L408.8 140.51L407.93 141.16L407.02 141.81L406.09 142.44L405.13 143.06L404.15 143.66L403.14 144.23L402.12 144.79L401.08 145.32L400.02 145.82L398.95 146.28L397.87 146.72L396.78 147.12L395.68 147.48L394.57 147.8L393.46 148.08L392.35 148.31L391.24 148.49L390.13 148.62L389.02 148.7L387.92 148.72L386.83 148.69L385.74 148.59L384.67 148.43L383.61 148.2L382.57 147.91L381.54 147.54L380.54 147.11L379.55 146.59L378.59 146L377.65 145.33L376.75 144.58L375.88 143.76L375.05 142.88L374.27 141.95L373.54 140.97L372.87 139.95L372.28 138.89L371.75 137.81L371.3 136.71L370.94 135.6L370.67 134.49L370.5 133.39Z" fill="#000" fill-opacity="0" stroke="#2a2a2a" stroke-width="0.6" stroke-opacity="0.8"/>
<path d="M372.96 131.47L372.99 130.47L373.12 129.49L373.34 128.52L373.65 127.57L374.04 126.65L374.5 125.74L375.02 124.86L375.61 124L376.26 123.16L376.96 122.35L377.7 121.57L378.49 120.81L379.3 120.08L380.15 119.37L381.02 118.7L381.91 118.05L382.81 117.44L383.71 116.86L384.61 116.31L385.52 115.79L386.43 115.29L387.34 114.82L388.25 114.36L389.17 113.93L390.08 113.51L391 113.1L391.93 112.69L392.85 112.29L393.78 111.9L394.71 111.5L395.65 111.09L396.59 110.68L397.54 110.26L398.5 109.82L399.46 109.37L400.43 108.9L401.4 108.41L402.38 107.91L403.38 107.41L404.38 106.9L405.38 106.4L406.4 105.9L407.42 105.41L408.45 104.94L409.49 104.49L410.53 104.06L411.58 103.65L412.63 103.28L413.7 102.94L414.76 102.63L415.83 102.37L416.91 102.15L417.99 101.99L419.08 101.87L420.18 101.82L421.28 101.82L422.38 101.89L423.49 102.03L424.6 102.24L425.69 102.52L426.76 102.86L427.79 103.26L428.75 103.73L429.64 104.25L430.44 104.82L431.14 105.44L431.72 106.11L432.16 106.82L432.46 107.57L432.62 108.36L432.66 109.19L432.58 110.04L432.4 110.92L432.11 111.82L431.73 112.75L431.27 113.69L430.74 114.65L430.13 115.62L429.48 116.6L428.77 117.59L428.02 118.58L427.25 119.57L426.45 120.55L425.63 121.53L424.81 122.49L423.99 123.44L423.19 124.38L422.4 125.29L421.63 126.19L420.89 127.06L420.16 127.92L419.44 128.75L418.73 129.56L418.03 130.36L417.34 131.14L416.66 131.9L415.97 132.65L415.29 133.37L414.6 134.09L413.91 134.79L413.21 135.47L412.5 136.14L411.77 136.8L411.03 137.45L410.28 138.09L409.5 138.71L408.7 139.33L407.87 139.93L407.02 140.52L406.14 141.1L405.24 141.67L404.32 142.22L403.38 142.75L402.43 143.25L401.46 143.74L400.47 144.19L399.47 144.62L398.46 145.02L397.44 145.38L396.42 145.71L395.39 146L394.36 146.25L393.32 146.46L392.29 146.62L391.26 146.74L390.23 146.81L389.21 146.82L388.19 146.78L387.18 146.69L386.19 146.53L385.21 146.32L384.24 146.04L383.29 145.69L382.35 145.28L381.44 144.8L380.55 144.25L379.68 143.62L378.83 142.92L378.03 142.16L377.26 141.34L376.53 140.46L375.86 139.55L375.24 138.6L374.68 137.62L374.19 136.61L373.78 135.59L373.44 134.56L373.19 133.53L373.02 132.49Z" fill="#000" fill-opacity="0" stroke="#2a2a2a" stroke-width="0.6" stroke-opacity="0.8"/>
<path d="M377.37 130.05L377.39 129.18L377.5 128.32L377.69 127.48L377.95 126.66L378.28 125.85L378.67 125.07L379.12 124.3L379.63 123.55L380.18 122.82L380.78 122.12L381.42 121.43L382.1 120.77L382.8 120.13L383.53 119.51L384.28 118.92L385.04 118.36L385.82 117.82L386.6 117.31L387.38 116.83L388.16 116.37L388.94 115.93L389.73 115.51L390.52 115.11L391.3 114.72L392.1 114.34L392.89 113.97L393.69 113.6L394.49 113.24L395.29 112.88L396.1 112.51L396.91 112.14L397.73 111.75L398.56 111.36L399.39 110.94L400.23 110.51L401.08 110.06L401.95 109.59L402.82 109.11L403.71 108.62L404.61 108.13L405.52 107.63L406.45 107.15L407.39 106.68L408.33 106.21L409.29 105.77L410.25 105.35L411.22 104.96L412.2 104.59L413.19 104.26L414.18 103.96L415.18 103.7L416.19 103.49L417.2 103.32L418.22 103.2L419.24 103.14L420.27 103.13L421.31 103.19L422.35 103.31L423.39 103.5L424.41 103.75L425.41 104.06L426.37 104.44L427.28 104.87L428.11 105.35L428.86 105.88L429.51 106.46L430.05 107.08L430.46 107.74L430.74 108.44L430.9 109.18L430.93 109.95L430.86 110.74L430.68 111.57L430.41 112.41L430.05 113.28L429.62 114.16L429.11 115.05L428.55 115.96L427.93 116.87L427.26 117.79L426.56 118.71L425.82 119.63L425.06 120.55L424.29 121.45L423.51 122.35L422.73 123.23L421.97 124.09L421.22 124.93L420.49 125.74L419.77 126.54L419.07 127.31L418.39 128.06L417.72 128.78L417.06 129.49L416.41 130.18L415.76 130.85L415.12 131.5L414.49 132.13L413.85 132.75L413.21 133.35L412.57 133.94L411.92 134.52L411.27 135.08L410.6 135.64L409.92 136.18L409.22 136.71L408.51 137.23L407.77 137.74L407.02 138.24L406.24 138.74L405.45 139.21L404.64 139.68L403.81 140.12L402.97 140.55L402.12 140.96L401.26 141.34L400.38 141.7L399.5 142.03L398.62 142.33L397.72 142.61L396.83 142.85L395.93 143.05L395.03 143.22L394.13 143.35L393.24 143.44L392.34 143.49L391.46 143.49L390.58 143.45L389.71 143.35L388.84 143.21L387.99 143.02L387.16 142.76L386.33 142.46L385.52 142.09L384.73 141.67L383.96 141.18L383.21 140.63L382.48 140.01L381.78 139.35L381.12 138.63L380.49 137.87L379.91 137.07L379.37 136.24L378.89 135.39L378.46 134.52L378.1 133.63L377.8 132.73L377.58 131.83L377.43 130.94Z" fill="#000" fill-opacity="0" stroke="#2a2a2a" stroke-width="0.6" stroke-opacity="0.8"/>
<path d="M379.42 129.39L379.44 128.58L379.54 127.78L379.71 127L379.95 126.24L380.25 125.49L380.61 124.75L381.03 124.04L381.5 123.34L382.01 122.66L382.57 122.01L383.16 121.37L383.78 120.75L384.43 120.15L385.11 119.58L385.8 119.03L386.51 118.5L387.23 118L387.95 117.52L388.67 117.07L389.39 116.64L390.12 116.23L390.85 115.83L391.58 115.45L392.31 115.09L393.04 114.73L393.78 114.38L394.52 114.03L395.26 113.69L396 113.34L396.75 112.99L397.51 112.63L398.27 112.26L399.04 111.88L399.81 111.48L400.6 111.05L401.4 110.61L402.21 110.15L403.03 109.68L403.87 109.2L404.73 108.71L405.59 108.23L406.47 107.75L407.37 107.29L408.27 106.83L409.19 106.4L410.12 105.98L411.05 105.59L411.99 105.23L412.95 104.9L413.9 104.61L414.87 104.35L415.84 104.14L416.82 103.97L417.8 103.85L418.79 103.79L419.78 103.78L420.78 103.83L421.79 103.94L422.79 104.11L423.78 104.35L424.75 104.65L425.68 105.01L426.55 105.42L427.36 105.89L428.09 106.4L428.71 106.96L429.24 107.56L429.63 108.2L429.9 108.87L430.05 109.58L430.08 110.32L430.01 111.09L429.84 111.88L429.58 112.7L429.23 113.53L428.81 114.38L428.32 115.25L427.77 116.12L427.17 117L426.52 117.89L425.84 118.78L425.12 119.66L424.39 120.54L423.63 121.42L422.88 122.28L422.12 123.12L421.37 123.94L420.64 124.75L419.93 125.52L419.23 126.28L418.55 127.01L417.88 127.72L417.23 128.41L416.59 129.07L415.96 129.71L415.33 130.34L414.72 130.95L414.1 131.53L413.49 132.11L412.88 132.67L412.27 133.21L411.65 133.74L411.03 134.26L410.4 134.77L409.75 135.27L409.09 135.76L408.42 136.24L407.73 136.71L407.02 137.17L406.29 137.62L405.54 138.06L404.78 138.48L404.01 138.89L403.23 139.28L402.43 139.65L401.63 140L400.81 140.33L399.99 140.63L399.16 140.9L398.33 141.15L397.5 141.37L396.66 141.55L395.83 141.71L394.99 141.82L394.16 141.9L393.33 141.94L392.51 141.94L391.69 141.89L390.88 141.8L390.08 141.66L389.29 141.48L388.52 141.24L387.75 140.95L387 140.61L386.27 140.21L385.55 139.75L384.86 139.24L384.18 138.66L383.53 138.04L382.92 137.37L382.33 136.66L381.79 135.92L381.29 135.15L380.84 134.35L380.44 133.54L380.1 132.72L379.83 131.88L379.62 131.05L379.48 130.21Z" fill="#000" fill-opacity="0" stroke="#2a2a2a" stroke-width="0.6" stroke-opacity="0.8"/>
<path d="M381.43 128.74L381.45 127.99L381.54 127.25L381.69 126.53L381.91 125.82L382.19 125.13L382.52 124.45L382.9 123.78L383.33 123.14L383.81 122.51L384.32 121.9L384.86 121.31L385.44 120.73L386.04 120.18L386.66 119.65L387.3 119.13L387.95 118.64L388.61 118.17L389.27 117.73L389.94 117.31L390.61 116.9L391.28 116.52L391.95 116.15L392.62 115.79L393.3 115.45L393.97 115.12L394.65 114.79L395.33 114.46L396.02 114.13L396.71 113.8L397.4 113.47L398.1 113.12L398.8 112.77L399.51 112.39L400.23 112.01L400.97 111.6L401.71 111.16L402.47 110.71L403.24 110.25L404.03 109.78L404.84 109.3L405.66 108.83L406.5 108.36L407.35 107.9L408.22 107.45L409.09 107.02L409.98 106.62L410.88 106.23L411.78 105.88L412.7 105.55L413.62 105.26L414.55 105.01L415.48 104.8L416.42 104.63L417.37 104.51L418.33 104.44L419.28 104.43L420.25 104.47L421.22 104.57L422.19 104.74L423.15 104.97L424.08 105.25L424.98 105.59L425.82 105.99L426.6 106.43L427.3 106.92L427.9 107.46L428.41 108.04L428.79 108.65L429.05 109.3L429.19 109.99L429.22 110.7L429.15 111.44L428.98 112.21L428.73 112.99L428.39 113.8L427.99 114.61L427.51 115.45L426.98 116.29L426.4 117.14L425.77 117.99L425.11 118.85L424.42 119.7L423.7 120.54L422.97 121.38L422.23 122.2L421.5 123.01L420.77 123.8L420.06 124.57L419.36 125.31L418.69 126.02L418.02 126.71L417.37 127.38L416.74 128.03L416.12 128.65L415.51 129.25L414.9 129.83L414.31 130.39L413.72 130.94L413.14 131.47L412.55 131.98L411.97 132.49L411.38 132.98L410.79 133.45L410.19 133.92L409.58 134.37L408.96 134.82L408.33 135.26L407.68 135.69L407.02 136.11L406.33 136.52L405.64 136.91L404.93 137.3L404.21 137.67L403.48 138.03L402.74 138.36L401.99 138.68L401.23 138.98L400.47 139.25L399.7 139.5L398.93 139.72L398.16 139.92L397.39 140.08L396.61 140.22L395.84 140.32L395.07 140.39L394.3 140.42L393.54 140.41L392.78 140.36L392.03 140.28L391.3 140.14L390.57 139.97L389.85 139.74L389.14 139.47L388.45 139.15L387.77 138.78L387.11 138.35L386.47 137.87L385.84 137.34L385.25 136.76L384.67 136.14L384.14 135.48L383.63 134.79L383.17 134.08L382.76 133.34L382.39 132.59L382.07 131.82L381.81 131.05L381.62 130.28L381.49 129.51Z" fill="#000" fill-opacity="0.034" stroke="#2a2a2a" stroke-width="0.6" stroke-opacity="0.8"/>
<path d="M383.4 128.11L383.41 127.42L383.49 126.74L383.63 126.07L383.83 125.41L384.08 124.77L384.39 124.15L384.74 123.53L385.13 122.94L385.56 122.36L386.03 121.79L386.53 121.25L387.06 120.72L387.61 120.2L388.18 119.71L388.76 119.24L389.36 118.78L389.97 118.35L390.58 117.93L391.19 117.54L391.8 117.16L392.42 116.81L393.03 116.46L393.65 116.13L394.27 115.81L394.89 115.49L395.52 115.18L396.14 114.88L396.77 114.57L397.4 114.25L398.04 113.94L398.68 113.61L399.33 113.26L399.99 112.91L400.65 112.53L401.33 112.13L402.02 111.71L402.73 111.28L403.45 110.82L404.19 110.36L404.95 109.9L405.73 109.43L406.52 108.97L407.33 108.52L408.16 108.08L408.99 107.66L409.84 107.26L410.7 106.88L411.57 106.53L412.45 106.21L413.33 105.93L414.22 105.68L415.12 105.47L416.03 105.3L416.94 105.18L417.86 105.11L418.78 105.09L419.71 105.13L420.64 105.22L421.58 105.38L422.5 105.59L423.4 105.86L424.26 106.19L425.07 106.56L425.82 106.99L426.5 107.46L427.08 107.97L427.56 108.53L427.93 109.12L428.18 109.75L428.32 110.4L428.34 111.09L428.28 111.8L428.11 112.53L427.87 113.29L427.54 114.06L427.15 114.85L426.69 115.65L426.18 116.46L425.62 117.27L425.01 118.09L424.37 118.91L423.7 119.73L423 120.54L422.3 121.34L421.58 122.13L420.87 122.9L420.16 123.65L419.47 124.38L418.79 125.08L418.13 125.76L417.49 126.41L416.86 127.04L416.25 127.64L415.64 128.23L415.05 128.78L414.47 129.32L413.9 129.84L413.34 130.35L412.78 130.83L412.22 131.3L411.67 131.76L411.11 132.21L410.56 132.65L409.99 133.07L409.42 133.48L408.84 133.89L408.24 134.29L407.64 134.68L407.01 135.06L406.38 135.43L405.73 135.79L405.07 136.14L404.4 136.47L403.73 136.79L403.04 137.1L402.35 137.38L401.65 137.65L400.94 137.9L400.23 138.12L399.52 138.32L398.81 138.49L398.09 138.64L397.38 138.76L396.67 138.85L395.96 138.91L395.25 138.93L394.55 138.92L393.85 138.87L393.16 138.78L392.48 138.66L391.81 138.49L391.15 138.28L390.5 138.03L389.87 137.73L389.24 137.38L388.64 136.98L388.04 136.54L387.47 136.04L386.92 135.51L386.4 134.93L385.9 134.33L385.44 133.69L385.01 133.03L384.63 132.35L384.29 131.65L384 130.95L383.76 130.24L383.58 129.52L383.46 128.81Z" fill="#000" fill-opacity="0.034" stroke="#2a2a2a" stroke-width="0.6" stroke-opacity="0.8"/>
<path d="M385.32 127.49L385.33 126.85L385.4 126.23L385.53 125.62L385.71 125.02L385.94 124.43L386.21 123.85L386.53 123.29L386.89 122.74L387.28 122.21L387.71 121.69L388.16 121.19L388.64 120.7L389.14 120.23L389.66 119.77L390.2 119.34L390.74 118.92L391.3 118.51L391.85 118.13L392.41 117.77L392.97 117.42L393.53 117.09L394.1 116.77L394.66 116.46L395.23 116.16L395.79 115.87L396.36 115.58L396.94 115.29L397.51 115L398.09 114.7L398.67 114.4L399.26 114.09L399.86 113.76L400.46 113.42L401.07 113.05L401.69 112.67L402.33 112.26L402.99 111.84L403.66 111.4L404.36 110.95L405.07 110.49L405.8 110.04L406.55 109.58L407.32 109.14L408.1 108.71L408.89 108.3L409.7 107.91L410.52 107.54L411.35 107.19L412.19 106.88L413.04 106.6L413.89 106.35L414.75 106.15L415.62 105.98L416.5 105.86L417.38 105.78L418.27 105.76L419.16 105.79L420.05 105.88L420.95 106.02L421.84 106.22L422.71 106.48L423.53 106.79L424.31 107.15L425.03 107.56L425.68 108.01L426.24 108.5L426.7 109.03L427.06 109.6L427.3 110.19L427.43 110.82L427.45 111.48L427.39 112.16L427.23 112.87L426.99 113.59L426.68 114.33L426.3 115.09L425.86 115.85L425.36 116.63L424.82 117.41L424.23 118.2L423.62 118.98L422.97 119.76L422.3 120.54L421.61 121.31L420.92 122.06L420.23 122.79L419.54 123.51L418.87 124.2L418.22 124.86L417.58 125.5L416.95 126.11L416.35 126.7L415.75 127.26L415.17 127.8L414.6 128.32L414.04 128.81L413.49 129.29L412.96 129.75L412.42 130.2L411.9 130.63L411.37 131.04L410.85 131.45L410.32 131.84L409.79 132.23L409.25 132.6L408.71 132.97L408.16 133.33L407.59 133.68L407.01 134.02L406.42 134.35L405.82 134.68L405.21 134.99L404.6 135.29L403.97 135.58L403.34 135.85L402.7 136.11L402.05 136.34L401.41 136.56L400.75 136.76L400.1 136.94L399.44 137.1L398.79 137.23L398.13 137.33L397.48 137.41L396.83 137.45L396.18 137.47L395.54 137.45L394.9 137.41L394.27 137.32L393.65 137.2L393.03 137.05L392.43 136.85L391.83 136.61L391.25 136.33L390.68 136.01L390.13 135.65L389.59 135.23L389.06 134.78L388.56 134.28L388.08 133.76L387.62 133.2L387.2 132.61L386.81 132.01L386.46 131.38L386.14 130.74L385.88 130.1L385.66 129.44L385.49 128.79L385.37 128.13Z" fill="#000" fill-opacity="0.034" stroke="#2a2a2a" stroke-width="0.6" stroke-opacity="0.8"/>
<path d="M387.2 126.88L387.2 126.3L387.26 125.73L387.38 125.18L387.54 124.63L387.74 124.09L387.99 123.56L388.28 123.05L388.6 122.55L388.96 122.06L389.35 121.59L389.76 121.13L390.19 120.68L390.65 120.25L391.12 119.83L391.6 119.43L392.1 119.05L392.6 118.68L393.11 118.33L393.61 117.99L394.12 117.67L394.63 117.37L395.14 117.07L395.65 116.79L396.17 116.51L396.68 116.23L397.2 115.96L397.72 115.69L398.24 115.42L398.77 115.14L399.3 114.86L399.83 114.56L400.37 114.25L400.92 113.92L401.48 113.57L402.06 113.2L402.64 112.81L403.25 112.4L403.87 111.97L404.52 111.53L405.18 111.09L405.87 110.64L406.58 110.2L407.3 109.77L408.04 109.35L408.79 108.95L409.56 108.56L410.34 108.2L411.13 107.87L411.93 107.56L412.74 107.28L413.56 107.04L414.38 106.84L415.21 106.67L416.05 106.55L416.89 106.47L417.74 106.44L418.6 106.47L419.46 106.55L420.32 106.68L421.17 106.87L422 107.11L422.79 107.4L423.54 107.75L424.23 108.13L424.85 108.56L425.39 109.03L425.83 109.54L426.17 110.08L426.4 110.65L426.52 111.25L426.54 111.88L426.48 112.53L426.33 113.21L426.1 113.9L425.8 114.61L425.43 115.33L425.01 116.06L424.53 116.8L424.01 117.55L423.45 118.3L422.85 119.05L422.23 119.8L421.58 120.54L420.92 121.27L420.25 121.98L419.58 122.68L418.92 123.36L418.27 124.01L417.64 124.63L417.02 125.23L416.41 125.81L415.82 126.35L415.25 126.88L414.69 127.37L414.14 127.85L413.61 128.3L413.09 128.74L412.57 129.16L412.07 129.56L411.57 129.95L411.07 130.33L410.58 130.69L410.09 131.05L409.59 131.39L409.09 131.73L408.59 132.06L408.07 132.38L407.55 132.69L407.01 133L406.47 133.29L405.92 133.58L405.35 133.86L404.79 134.13L404.21 134.38L403.63 134.63L403.04 134.85L402.45 135.06L401.86 135.26L401.26 135.44L400.67 135.59L400.07 135.73L399.47 135.84L398.87 135.93L398.27 135.99L397.68 136.03L397.09 136.04L396.51 136.02L395.92 135.98L395.35 135.9L394.78 135.78L394.22 135.63L393.67 135.45L393.13 135.23L392.6 134.97L392.09 134.68L391.58 134.34L391.09 133.96L390.61 133.54L390.15 133.09L389.72 132.61L389.3 132.1L388.92 131.56L388.56 131.01L388.24 130.44L387.95 129.85L387.71 129.26L387.51 128.67L387.35 128.07L387.25 127.47Z" fill="#000" fill-opacity="0.034" stroke="#2a2a2a" stroke-width="0.6" stroke-opacity="0.8"/>
<path d="M389.02 126.3L389.02 125.77L389.08 125.25L389.18 124.75L389.32 124.25L389.51 123.76L389.73 123.28L389.99 122.82L390.28 122.36L390.6 121.92L390.94 121.49L391.31 121.07L391.71 120.67L392.12 120.27L392.54 119.89L392.98 119.53L393.42 119.18L393.87 118.84L394.33 118.52L394.79 118.21L395.24 117.92L395.7 117.64L396.16 117.37L396.63 117.11L397.09 116.85L397.55 116.6L398.02 116.34L398.49 116.09L398.96 115.84L399.44 115.58L399.91 115.31L400.4 115.03L400.89 114.73L401.38 114.42L401.89 114.09L402.41 113.73L402.95 113.35L403.51 112.96L404.08 112.54L404.68 112.12L405.3 111.69L405.94 111.25L406.6 110.82L407.28 110.4L407.98 109.99L408.69 109.6L409.42 109.23L410.16 108.87L410.91 108.55L411.67 108.25L412.44 107.98L413.22 107.74L414 107.54L414.8 107.37L415.6 107.25L416.4 107.17L417.21 107.14L418.03 107.16L418.85 107.23L419.67 107.35L420.49 107.53L421.28 107.75L422.04 108.03L422.75 108.35L423.41 108.72L424 109.13L424.51 109.58L424.94 110.06L425.26 110.57L425.48 111.12L425.59 111.69L425.62 112.29L425.55 112.91L425.41 113.55L425.19 114.21L424.9 114.89L424.55 115.58L424.14 116.28L423.69 116.98L423.18 117.7L422.64 118.41L422.07 119.12L421.47 119.83L420.85 120.54L420.21 121.23L419.57 121.91L418.93 122.57L418.29 123.2L417.66 123.82L417.05 124.41L416.45 124.97L415.87 125.5L415.3 126.01L414.75 126.49L414.21 126.94L413.69 127.38L413.18 127.79L412.68 128.19L412.19 128.57L411.72 128.93L411.25 129.28L410.78 129.62L410.32 129.94L409.86 130.26L409.4 130.57L408.93 130.87L408.46 131.16L407.99 131.44L407.5 131.72L407.01 131.99L406.51 132.25L406 132.5L405.49 132.75L404.97 132.99L404.45 133.21L403.92 133.42L403.38 133.62L402.85 133.81L402.31 133.98L401.76 134.13L401.22 134.27L400.68 134.39L400.13 134.49L399.59 134.56L399.05 134.61L398.51 134.64L397.98 134.65L397.45 134.63L396.92 134.58L396.4 134.5L395.89 134.4L395.39 134.26L394.89 134.09L394.4 133.89L393.92 133.65L393.45 133.38L393 133.07L392.55 132.72L392.12 132.34L391.71 131.93L391.31 131.49L390.94 131.02L390.59 130.54L390.27 130.04L389.97 129.52L389.71 128.99L389.49 128.45L389.31 127.91L389.17 127.37L389.07 126.83Z" fill="#000" fill-opacity="0.034" stroke="#2a2a2a" stroke-width="0.6" stroke-opacity="0.8"/>
<path d="M390.8 125.72L390.8 125.25L390.84 124.79L390.93 124.33L391.06 123.88L391.22 123.44L391.42 123.01L391.65 122.59L391.91 122.18L392.19 121.78L392.5 121.39L392.83 121.02L393.18 120.65L393.55 120.29L393.93 119.95L394.32 119.62L394.71 119.3L395.12 119L395.53 118.71L395.93 118.43L396.34 118.16L396.75 117.91L397.17 117.66L397.58 117.42L397.99 117.18L398.41 116.95L398.83 116.72L399.25 116.48L399.67 116.25L400.09 116L400.52 115.75L400.95 115.49L401.39 115.21L401.84 114.91L402.3 114.6L402.77 114.26L403.26 113.9L403.77 113.51L404.29 113.12L404.84 112.7L405.41 112.29L406.01 111.87L406.63 111.45L407.26 111.04L407.92 110.64L408.59 110.26L409.28 109.9L409.97 109.55L410.68 109.24L411.41 108.94L412.13 108.68L412.87 108.45L413.62 108.25L414.37 108.09L415.13 107.96L415.9 107.88L416.67 107.85L417.45 107.86L418.23 107.92L419.01 108.03L419.79 108.2L420.54 108.41L421.27 108.67L421.95 108.98L422.57 109.32L423.14 109.71L423.62 110.13L424.03 110.59L424.33 111.08L424.54 111.6L424.65 112.14L424.67 112.71L424.61 113.3L424.47 113.91L424.26 114.54L423.98 115.18L423.65 115.83L423.26 116.49L422.82 117.17L422.34 117.84L421.82 118.52L421.28 119.2L420.7 119.87L420.1 120.53L419.5 121.19L418.88 121.83L418.26 122.45L417.64 123.05L417.04 123.63L416.45 124.17L415.88 124.69L415.32 125.19L414.77 125.66L414.24 126.1L413.73 126.51L413.23 126.91L412.74 127.28L412.27 127.64L411.81 127.98L411.36 128.3L410.92 128.61L410.49 128.91L410.06 129.2L409.63 129.48L409.2 129.75L408.77 130.01L408.34 130.27L407.9 130.51L407.46 130.76L407.01 130.99L406.55 131.22L406.09 131.45L405.63 131.66L405.15 131.87L404.68 132.06L404.2 132.25L403.71 132.42L403.23 132.58L402.74 132.73L402.25 132.86L401.76 132.98L401.27 133.08L400.78 133.16L400.3 133.23L399.81 133.27L399.33 133.29L398.85 133.29L398.37 133.27L397.9 133.22L397.43 133.15L396.97 133.05L396.52 132.92L396.07 132.76L395.63 132.58L395.2 132.36L394.78 132.11L394.37 131.83L393.98 131.52L393.59 131.17L393.22 130.8L392.86 130.4L392.53 129.98L392.21 129.54L391.92 129.09L391.66 128.62L391.43 128.15L391.23 127.67L391.06 127.18L390.93 126.69L390.84 126.2Z" fill="#000" fill-opacity="0.034" stroke="#2a2a2a" stroke-width="0.6" stroke-opacity="0.8"/>
<path d="M392.52 125.17L392.52 124.75L392.55 124.33L392.63 123.92L392.74 123.52L392.88 123.13L393.06 122.75L393.26 122.37L393.49 122.01L393.74 121.65L394.01 121.3L394.31 120.96L394.62 120.63L394.94 120.32L395.27 120.01L395.62 119.71L395.97 119.43L396.33 119.15L396.69 118.89L397.05 118.64L397.41 118.4L397.78 118.16L398.14 117.94L398.51 117.72L398.88 117.51L399.25 117.29L399.62 117.08L399.99 116.87L400.36 116.65L400.74 116.42L401.12 116.19L401.5 115.94L401.89 115.68L402.29 115.4L402.7 115.1L403.13 114.78L403.56 114.44L404.02 114.07L404.5 113.69L405 113.29L405.53 112.89L406.08 112.48L406.65 112.08L407.25 111.69L407.86 111.3L408.49 110.93L409.13 110.58L409.79 110.25L410.46 109.94L411.13 109.65L411.82 109.4L412.52 109.17L413.23 108.97L413.94 108.82L414.66 108.69L415.39 108.61L416.12 108.57L416.85 108.58L417.6 108.63L418.34 108.73L419.07 108.89L419.79 109.08L420.48 109.33L421.12 109.61L421.72 109.94L422.25 110.3L422.71 110.7L423.09 111.13L423.38 111.59L423.58 112.08L423.68 112.6L423.7 113.14L423.64 113.69L423.51 114.27L423.31 114.86L423.05 115.47L422.73 116.09L422.36 116.72L421.94 117.35L421.48 117.99L420.99 118.63L420.46 119.27L419.91 119.9L419.35 120.53L418.76 121.15L418.17 121.75L417.58 122.33L416.99 122.89L416.41 123.43L415.85 123.94L415.3 124.42L414.76 124.87L414.24 125.3L413.73 125.7L413.24 126.08L412.77 126.44L412.31 126.77L411.87 127.09L411.43 127.39L411.01 127.67L410.6 127.95L410.2 128.21L409.8 128.46L409.4 128.7L409.01 128.94L408.61 129.17L408.22 129.39L407.82 129.6L407.42 129.81L407.01 130.02L406.6 130.21L406.18 130.41L405.76 130.59L405.33 130.77L404.9 130.94L404.47 131.1L404.04 131.24L403.6 131.38L403.17 131.51L402.73 131.62L402.29 131.72L401.85 131.8L401.42 131.87L400.98 131.92L400.55 131.96L400.12 131.97L399.69 131.97L399.26 131.94L398.84 131.9L398.43 131.83L398.02 131.73L397.62 131.62L397.22 131.47L396.83 131.31L396.45 131.11L396.08 130.89L395.71 130.63L395.36 130.35L395.01 130.04L394.68 129.71L394.37 129.35L394.07 128.97L393.79 128.58L393.53 128.18L393.3 127.76L393.09 127.33L392.91 126.9L392.76 126.47L392.64 126.03L392.56 125.6Z" fill="#000" fill-opacity="0.034" stroke="#2a2a2a" stroke-width="0.6" stroke-opacity="0.8"/>
<path d="M394.18 124.63L394.18 124.26L394.21 123.89L394.27 123.53L394.37 123.18L394.49 122.83L394.65 122.49L394.82 122.16L395.02 121.84L395.24 121.52L395.48 121.21L395.74 120.91L396.01 120.62L396.29 120.34L396.58 120.06L396.89 119.8L397.19 119.54L397.51 119.3L397.82 119.07L398.14 118.84L398.46 118.63L398.78 118.42L399.1 118.22L399.42 118.02L399.74 117.82L400.06 117.63L400.39 117.44L400.71 117.24L401.04 117.04L401.37 116.84L401.71 116.62L402.04 116.39L402.39 116.15L402.74 115.89L403.1 115.61L403.48 115.3L403.87 114.97L404.28 114.63L404.71 114.26L405.17 113.88L405.65 113.5L406.15 113.11L406.68 112.72L407.23 112.34L407.8 111.97L408.38 111.61L408.98 111.27L409.6 110.95L410.22 110.65L410.86 110.37L411.51 110.12L412.16 109.9L412.83 109.72L413.5 109.56L414.18 109.44L414.86 109.36L415.55 109.31L416.25 109.31L416.95 109.36L417.65 109.45L418.34 109.59L419.02 109.77L419.67 110L420.28 110.26L420.84 110.57L421.34 110.91L421.78 111.28L422.13 111.69L422.41 112.12L422.59 112.58L422.69 113.07L422.71 113.57L422.65 114.1L422.52 114.64L422.33 115.2L422.08 115.77L421.78 116.35L421.43 116.95L421.03 117.54L420.6 118.14L420.13 118.75L419.63 119.35L419.11 119.94L418.57 120.53L418.01 121.11L417.45 121.67L416.88 122.21L416.32 122.73L415.77 123.23L415.23 123.7L414.71 124.14L414.2 124.56L413.7 124.94L413.22 125.31L412.76 125.64L412.31 125.96L411.88 126.26L411.46 126.54L411.05 126.8L410.66 127.05L410.28 127.28L409.91 127.51L409.54 127.73L409.18 127.94L408.82 128.14L408.46 128.33L408.1 128.52L407.74 128.7L407.38 128.88L407.01 129.06L406.64 129.22L406.26 129.39L405.89 129.54L405.51 129.69L405.12 129.84L404.74 129.97L404.36 130.1L403.97 130.21L403.58 130.32L403.19 130.41L402.81 130.49L402.42 130.56L402.03 130.62L401.65 130.66L401.26 130.69L400.88 130.69L400.51 130.69L400.13 130.66L399.76 130.61L399.4 130.55L399.04 130.46L398.68 130.36L398.33 130.23L397.99 130.07L397.65 129.9L397.32 129.7L397 129.47L396.69 129.22L396.39 128.94L396.1 128.65L395.82 128.33L395.56 128L395.31 127.65L395.08 127.29L394.88 126.92L394.69 126.54L394.53 126.16L394.4 125.78L394.29 125.39L394.22 125.01Z" fill="#000" fill-opacity="0.034" stroke="#2a2a2a" stroke-width="0.6" stroke-opacity="0.8"/>
<path d="M395.79 124.11L395.78 123.79L395.81 123.47L395.86 123.15L395.94 122.84L396.05 122.54L396.18 122.24L396.33 121.95L396.5 121.67L396.69 121.39L396.9 121.12L397.12 120.86L397.35 120.6L397.6 120.36L397.85 120.12L398.11 119.88L398.38 119.66L398.65 119.44L398.92 119.24L399.2 119.04L399.47 118.85L399.75 118.66L400.03 118.48L400.3 118.31L400.58 118.13L400.86 117.96L401.14 117.79L401.42 117.61L401.71 117.43L401.99 117.24L402.28 117.04L402.58 116.83L402.88 116.61L403.18 116.37L403.5 116.1L403.83 115.82L404.17 115.51L404.54 115.18L404.92 114.83L405.33 114.47L405.77 114.1L406.22 113.73L406.71 113.36L407.21 113L407.73 112.64L408.27 112.3L408.83 111.97L409.4 111.66L409.98 111.38L410.58 111.11L411.18 110.87L411.8 110.66L412.42 110.47L413.05 110.32L413.68 110.2L414.32 110.12L414.97 110.07L415.62 110.07L416.28 110.1L416.94 110.19L417.59 110.31L418.23 110.48L418.84 110.69L419.41 110.93L419.93 111.22L420.41 111.53L420.81 111.88L421.15 112.26L421.41 112.67L421.58 113.1L421.67 113.55L421.68 114.03L421.63 114.52L421.51 115.03L421.33 115.55L421.1 116.08L420.81 116.63L420.48 117.18L420.1 117.74L419.69 118.3L419.25 118.86L418.78 119.42L418.29 119.98L417.77 120.53L417.25 121.06L416.71 121.59L416.18 122.09L415.64 122.57L415.12 123.03L414.61 123.46L414.11 123.86L413.62 124.23L413.16 124.58L412.7 124.91L412.26 125.21L411.84 125.48L411.44 125.74L411.05 125.98L410.68 126.21L410.31 126.42L409.96 126.63L409.62 126.82L409.28 127L408.95 127.18L408.63 127.35L408.31 127.51L407.98 127.67L407.66 127.82L407.34 127.97L407.01 128.12L406.68 128.26L406.35 128.39L406.01 128.52L405.68 128.65L405.34 128.76L405 128.87L404.66 128.98L404.32 129.07L403.98 129.16L403.64 129.24L403.31 129.3L402.97 129.36L402.63 129.4L402.29 129.43L401.96 129.45L401.63 129.46L401.3 129.44L400.97 129.42L400.65 129.37L400.33 129.31L400.02 129.23L399.71 129.14L399.41 129.02L399.11 128.89L398.82 128.73L398.53 128.55L398.25 128.35L397.98 128.13L397.72 127.89L397.47 127.63L397.23 127.35L397 127.05L396.78 126.75L396.58 126.44L396.4 126.11L396.24 125.78L396.1 125.45L395.98 125.12L395.89 124.78L395.82 124.45Z" fill="#000" fill-opacity="0.034" stroke="#2a2a2a" stroke-width="0.6" stroke-opacity="0.45"/>
<path d="M397.33 123.62L397.32 123.34L397.34 123.06L397.39 122.79L397.46 122.52L397.55 122.26L397.66 122.01L397.78 121.76L397.93 121.51L398.09 121.27L398.26 121.04L398.45 120.81L398.65 120.59L398.86 120.38L399.07 120.17L399.3 119.97L399.52 119.77L399.75 119.58L399.99 119.4L400.22 119.23L400.45 119.06L400.69 118.9L400.93 118.74L401.16 118.59L401.4 118.44L401.64 118.28L401.88 118.13L402.12 117.97L402.36 117.81L402.6 117.64L402.85 117.46L403.1 117.27L403.35 117.06L403.62 116.84L403.89 116.59L404.17 116.33L404.47 116.04L404.79 115.73L405.13 115.4L405.5 115.06L405.88 114.72L406.3 114.36L406.73 114.01L407.19 113.66L407.67 113.33L408.16 113L408.68 112.69L409.2 112.39L409.74 112.12L410.29 111.86L410.85 111.63L411.42 111.43L412 111.25L412.58 111.1L413.17 110.98L413.77 110.9L414.37 110.85L414.98 110.84L415.6 110.87L416.21 110.94L416.82 111.05L417.41 111.21L417.98 111.4L418.51 111.62L419 111.88L419.44 112.18L419.82 112.5L420.14 112.85L420.37 113.23L420.53 113.63L420.62 114.05L420.63 114.49L420.58 114.95L420.47 115.42L420.3 115.9L420.08 116.4L419.81 116.91L419.5 117.42L419.15 117.94L418.76 118.46L418.35 118.98L417.91 119.5L417.44 120.02L416.96 120.53L416.46 121.02L415.96 121.5L415.45 121.96L414.95 122.41L414.46 122.82L413.97 123.21L413.5 123.57L413.05 123.91L412.6 124.22L412.18 124.5L411.77 124.76L411.38 125L411 125.23L410.64 125.43L410.3 125.62L409.97 125.8L409.65 125.97L409.33 126.13L409.03 126.28L408.74 126.43L408.44 126.57L408.16 126.7L407.87 126.83L407.58 126.96L407.3 127.08L407.01 127.19L406.72 127.31L406.43 127.42L406.13 127.52L405.84 127.62L405.55 127.72L405.26 127.81L404.96 127.89L404.67 127.97L404.37 128.04L404.08 128.1L403.79 128.15L403.5 128.2L403.21 128.23L402.92 128.25L402.63 128.26L402.34 128.26L402.06 128.25L401.78 128.22L401.51 128.18L401.23 128.12L400.96 128.05L400.7 127.96L400.44 127.86L400.18 127.74L399.93 127.6L399.69 127.45L399.45 127.27L399.22 127.08L399 126.87L398.78 126.64L398.57 126.4L398.38 126.15L398.19 125.89L398.02 125.62L397.87 125.34L397.73 125.05L397.6 124.77L397.5 124.48L397.42 124.19L397.36 123.9Z" fill="#000" fill-opacity="0.034" stroke="#2a2a2a" stroke-width="0.6" stroke-opacity="0.45"/>
<path d="M398.81 123.14L398.8 122.9L398.82 122.67L398.85 122.44L398.91 122.22L398.98 122L399.07 121.78L399.18 121.57L399.3 121.36L399.43 121.16L399.58 120.96L399.73 120.76L399.9 120.58L400.07 120.39L400.25 120.22L400.44 120.04L400.63 119.88L400.82 119.72L401.01 119.56L401.21 119.42L401.4 119.27L401.6 119.13L401.8 119L401.99 118.86L402.19 118.73L402.39 118.59L402.59 118.46L402.79 118.32L402.99 118.18L403.2 118.02L403.4 117.86L403.61 117.69L403.82 117.5L404.04 117.3L404.27 117.08L404.52 116.83L404.77 116.57L405.05 116.28L405.34 115.98L405.66 115.66L406 115.33L406.37 115L406.76 114.67L407.17 114.34L407.6 114.02L408.05 113.71L408.52 113.42L409 113.14L409.49 112.87L410 112.63L410.51 112.41L411.04 112.22L411.57 112.05L412.11 111.9L412.65 111.79L413.2 111.7L413.76 111.65L414.32 111.64L414.89 111.66L415.46 111.72L416.02 111.82L416.57 111.96L417.09 112.13L417.59 112.34L418.04 112.57L418.45 112.84L418.8 113.14L419.09 113.46L419.31 113.81L419.45 114.18L419.53 114.56L419.54 114.97L419.49 115.39L419.39 115.83L419.23 116.27L419.03 116.73L418.78 117.2L418.49 117.67L418.16 118.15L417.8 118.63L417.41 119.11L417 119.59L416.57 120.06L416.12 120.52L415.66 120.98L415.19 121.42L414.71 121.84L414.24 122.24L413.78 122.61L413.32 122.96L412.88 123.28L412.46 123.58L412.05 123.85L411.65 124.09L411.27 124.32L410.91 124.52L410.56 124.71L410.24 124.88L409.92 125.04L409.62 125.19L409.33 125.32L409.05 125.45L408.78 125.57L408.52 125.69L408.26 125.8L408.01 125.91L407.76 126.01L407.51 126.11L407.26 126.2L407.01 126.29L406.76 126.38L406.5 126.47L406.25 126.55L406 126.63L405.75 126.71L405.5 126.78L405.25 126.84L405 126.9L404.75 126.95L404.5 127L404.26 127.04L404.01 127.07L403.76 127.1L403.52 127.11L403.28 127.11L403.03 127.11L402.8 127.09L402.56 127.07L402.33 127.03L402.1 126.98L401.87 126.92L401.65 126.84L401.43 126.75L401.22 126.65L401.01 126.53L400.8 126.39L400.6 126.24L400.41 126.08L400.22 125.9L400.04 125.7L399.86 125.5L399.7 125.29L399.54 125.06L399.4 124.83L399.27 124.6L399.15 124.36L399.04 124.11L398.96 123.87L398.89 123.63L398.84 123.38Z" fill="#000" fill-opacity="0.034" stroke="#2a2a2a" stroke-width="0.6" stroke-opacity="0.45"/>
<path d="M400.21 122.69L400.2 122.49L400.22 122.3L400.24 122.11L400.29 121.92L400.35 121.74L400.42 121.56L400.5 121.39L400.6 121.21L400.71 121.04L400.83 120.88L400.95 120.72L401.09 120.56L401.23 120.41L401.38 120.26L401.53 120.12L401.68 119.98L401.84 119.85L402 119.72L402.15 119.59L402.31 119.47L402.47 119.35L402.63 119.24L402.79 119.12L402.95 119.01L403.12 118.89L403.28 118.78L403.44 118.66L403.61 118.53L403.77 118.4L403.94 118.26L404.11 118.1L404.28 117.94L404.47 117.76L404.65 117.55L404.85 117.33L405.07 117.09L405.3 116.83L405.55 116.55L405.82 116.25L406.12 115.95L406.44 115.64L406.79 115.33L407.15 115.03L407.54 114.73L407.94 114.44L408.36 114.16L408.79 113.9L409.24 113.65L409.7 113.42L410.16 113.22L410.64 113.03L411.12 112.87L411.61 112.73L412.11 112.62L412.62 112.54L413.13 112.49L413.64 112.47L414.16 112.48L414.68 112.53L415.19 112.62L415.7 112.74L416.18 112.89L416.63 113.08L417.04 113.29L417.41 113.53L417.74 113.8L418 114.1L418.2 114.41L418.33 114.75L418.4 115.1L418.41 115.47L418.36 115.85L418.27 116.25L418.12 116.66L417.93 117.07L417.7 117.5L417.44 117.93L417.14 118.36L416.81 118.8L416.45 119.24L416.07 119.67L415.67 120.1L415.25 120.52L414.82 120.93L414.39 121.33L413.95 121.7L413.51 122.06L413.08 122.39L412.66 122.7L412.25 122.98L411.86 123.24L411.48 123.47L411.12 123.68L410.77 123.87L410.44 124.04L410.13 124.19L409.83 124.33L409.55 124.45L409.28 124.57L409.02 124.68L408.77 124.78L408.54 124.87L408.31 124.96L408.08 125.05L407.86 125.13L407.65 125.2L407.43 125.28L407.22 125.35L407 125.42L406.79 125.49L406.58 125.55L406.37 125.61L406.16 125.67L405.95 125.73L405.74 125.78L405.53 125.83L405.32 125.87L405.12 125.91L404.91 125.95L404.7 125.97L404.5 125.99L404.3 126.01L404.09 126.02L403.89 126.02L403.69 126.01L403.5 125.99L403.3 125.97L403.11 125.93L402.92 125.89L402.74 125.83L402.55 125.77L402.37 125.69L402.2 125.6L402.03 125.5L401.86 125.39L401.7 125.26L401.54 125.12L401.38 124.97L401.23 124.81L401.09 124.64L400.95 124.46L400.82 124.28L400.71 124.09L400.6 123.89L400.5 123.69L400.41 123.49L400.34 123.29L400.28 123.09L400.24 122.89Z" fill="#000" fill-opacity="0.034" stroke="#2a2a2a" stroke-width="0.6" stroke-opacity="0.45"/>
<path d="M401.54 122.26L401.53 122.1L401.54 121.95L401.56 121.8L401.59 121.65L401.64 121.5L401.69 121.36L401.76 121.21L401.84 121.08L401.92 120.94L402.01 120.81L402.11 120.68L402.22 120.55L402.33 120.43L402.44 120.31L402.56 120.19L402.68 120.08L402.81 119.97L402.93 119.86L403.06 119.76L403.18 119.66L403.31 119.57L403.43 119.47L403.56 119.37L403.69 119.28L403.82 119.18L403.94 119.09L404.07 118.98L404.2 118.88L404.33 118.76L404.46 118.64L404.6 118.51L404.73 118.36L404.88 118.2L405.03 118.02L405.19 117.83L405.36 117.61L405.55 117.37L405.76 117.12L405.99 116.85L406.24 116.58L406.52 116.29L406.81 116.01L407.13 115.73L407.47 115.45L407.83 115.18L408.2 114.93L408.58 114.68L408.98 114.45L409.39 114.24L409.8 114.05L410.23 113.87L410.66 113.72L411.1 113.59L411.55 113.48L412.01 113.4L412.47 113.35L412.93 113.33L413.4 113.33L413.87 113.37L414.33 113.45L414.78 113.55L415.22 113.69L415.63 113.85L416 114.04L416.33 114.26L416.62 114.5L416.86 114.76L417.04 115.04L417.16 115.34L417.22 115.66L417.23 115.99L417.19 116.33L417.1 116.69L416.97 117.06L416.79 117.43L416.58 117.81L416.34 118.2L416.07 118.59L415.77 118.98L415.44 119.37L415.1 119.76L414.73 120.14L414.35 120.52L413.96 120.88L413.56 121.23L413.16 121.57L412.76 121.88L412.36 122.17L411.98 122.44L411.61 122.68L411.25 122.89L410.9 123.09L410.57 123.26L410.26 123.41L409.96 123.55L409.68 123.67L409.42 123.78L409.17 123.87L408.94 123.96L408.71 124.04L408.5 124.11L408.29 124.18L408.1 124.25L407.91 124.31L407.72 124.36L407.54 124.42L407.36 124.47L407.18 124.52L407 124.57L406.83 124.62L406.65 124.66L406.48 124.71L406.31 124.75L406.14 124.79L405.97 124.82L405.8 124.86L405.63 124.89L405.46 124.91L405.3 124.94L405.13 124.95L404.97 124.97L404.8 124.98L404.64 124.98L404.48 124.97L404.32 124.96L404.16 124.95L404.01 124.92L403.86 124.89L403.71 124.85L403.56 124.81L403.41 124.75L403.27 124.69L403.13 124.61L402.99 124.53L402.86 124.44L402.73 124.33L402.6 124.22L402.48 124.1L402.36 123.97L402.25 123.83L402.14 123.69L402.03 123.54L401.94 123.38L401.85 123.23L401.77 123.07L401.7 122.91L401.64 122.74L401.6 122.58L401.56 122.42Z" fill="#000" fill-opacity="0.034" stroke="#2a2a2a" stroke-width="0.6" stroke-opacity="0.45"/>
<path d="M402.78 121.86L402.77 121.74L402.78 121.62L402.79 121.5L402.81 121.39L402.85 121.27L402.89 121.16L402.94 121.05L402.99 120.95L403.06 120.84L403.13 120.74L403.2 120.64L403.28 120.54L403.36 120.44L403.45 120.35L403.54 120.26L403.63 120.17L403.73 120.09L403.82 120L403.91 119.92L404.01 119.84L404.1 119.77L404.2 119.69L404.29 119.61L404.39 119.54L404.48 119.46L404.58 119.38L404.68 119.3L404.77 119.21L404.87 119.11L404.97 119.01L405.07 118.9L405.17 118.78L405.28 118.64L405.4 118.48L405.52 118.31L405.65 118.12L405.8 117.92L405.97 117.69L406.16 117.45L406.36 117.21L406.59 116.95L406.84 116.7L407.11 116.44L407.4 116.19L407.71 115.95L408.03 115.71L408.36 115.49L408.71 115.28L409.06 115.09L409.43 114.91L409.8 114.75L410.18 114.61L410.57 114.48L410.97 114.38L411.37 114.31L411.77 114.25L412.18 114.23L412.6 114.23L413.01 114.26L413.43 114.32L413.83 114.41L414.21 114.52L414.57 114.66L414.9 114.83L415.2 115.02L415.45 115.23L415.66 115.46L415.82 115.7L415.93 115.97L415.98 116.25L415.99 116.54L415.95 116.84L415.87 117.15L415.75 117.48L415.6 117.81L415.41 118.14L415.19 118.48L414.95 118.82L414.68 119.17L414.39 119.51L414.08 119.85L413.75 120.19L413.41 120.52L413.06 120.83L412.7 121.14L412.34 121.42L411.98 121.69L411.62 121.94L411.28 122.16L410.94 122.36L410.62 122.54L410.32 122.7L410.02 122.84L409.75 122.95L409.49 123.06L409.24 123.15L409.01 123.22L408.8 123.29L408.6 123.35L408.41 123.41L408.23 123.46L408.06 123.5L407.89 123.55L407.73 123.58L407.58 123.62L407.43 123.66L407.29 123.69L407.14 123.72L407 123.75L406.86 123.78L406.73 123.81L406.59 123.84L406.45 123.87L406.32 123.89L406.19 123.91L406.05 123.93L405.92 123.95L405.79 123.97L405.66 123.98L405.54 123.99L405.41 124L405.28 124L405.16 124L405.03 123.99L404.91 123.98L404.79 123.96L404.67 123.94L404.56 123.91L404.44 123.88L404.33 123.84L404.22 123.8L404.11 123.74L404 123.69L403.9 123.62L403.8 123.55L403.7 123.47L403.6 123.38L403.51 123.28L403.41 123.18L403.33 123.07L403.24 122.96L403.17 122.85L403.09 122.73L403.03 122.61L402.96 122.48L402.91 122.36L402.86 122.23L402.83 122.11L402.8 121.98Z" fill="#000" fill-opacity="0.034" stroke="#2a2a2a" stroke-width="0.6" stroke-opacity="0.45"/>
<path d="M403.92 121.49L403.92 121.4L403.92 121.32L403.93 121.23L403.94 121.15L403.97 121.07L403.99 120.98L404.03 120.9L404.07 120.83L404.11 120.75L404.16 120.67L404.21 120.6L404.27 120.53L404.33 120.46L404.39 120.39L404.45 120.32L404.52 120.26L404.58 120.19L404.65 120.13L404.71 120.07L404.78 120.01L404.85 119.95L404.91 119.9L404.98 119.84L405.05 119.78L405.11 119.72L405.18 119.66L405.25 119.59L405.32 119.52L405.38 119.45L405.45 119.37L405.52 119.28L405.6 119.18L405.67 119.06L405.75 118.93L405.84 118.79L405.94 118.63L406.05 118.45L406.18 118.26L406.32 118.06L406.49 117.84L406.67 117.62L406.87 117.4L407.09 117.17L407.33 116.95L407.58 116.74L407.85 116.53L408.13 116.33L408.42 116.15L408.73 115.97L409.04 115.81L409.36 115.67L409.68 115.54L410.01 115.43L410.35 115.33L410.7 115.26L411.04 115.21L411.4 115.18L411.75 115.18L412.11 115.2L412.47 115.24L412.81 115.31L413.14 115.41L413.45 115.52L413.74 115.66L413.99 115.82L414.21 116L414.39 116.2L414.53 116.41L414.62 116.63L414.66 116.87L414.67 117.12L414.63 117.38L414.56 117.65L414.46 117.92L414.32 118.2L414.16 118.49L413.97 118.78L413.76 119.08L413.53 119.37L413.27 119.66L413 119.95L412.72 120.24L412.42 120.51L412.11 120.78L411.8 121.04L411.48 121.28L411.16 121.5L410.85 121.7L410.55 121.88L410.26 122.04L409.98 122.18L409.71 122.3L409.46 122.4L409.22 122.49L409 122.56L408.8 122.62L408.6 122.67L408.43 122.72L408.26 122.75L408.1 122.78L407.96 122.81L407.82 122.84L407.69 122.86L407.57 122.88L407.45 122.9L407.33 122.92L407.22 122.94L407.11 122.95L407 122.97L406.9 122.99L406.79 123L406.69 123.01L406.59 123.03L406.49 123.04L406.39 123.05L406.29 123.06L406.2 123.07L406.1 123.08L406.01 123.08L405.91 123.09L405.82 123.09L405.73 123.08L405.64 123.08L405.55 123.07L405.46 123.06L405.38 123.05L405.29 123.03L405.21 123.01L405.12 122.98L405.04 122.95L404.96 122.91L404.88 122.87L404.81 122.83L404.73 122.78L404.66 122.72L404.59 122.66L404.52 122.6L404.45 122.53L404.39 122.45L404.33 122.37L404.27 122.29L404.21 122.21L404.16 122.12L404.11 122.03L404.06 121.94L404.02 121.85L403.99 121.76L403.96 121.67L403.94 121.58Z" fill="#000" fill-opacity="0.034" stroke="#2a2a2a" stroke-width="0.6" stroke-opacity="0.45"/>
<path d="M404.96 121.16L404.95 121.1L404.95 121.04L404.96 120.99L404.97 120.93L404.98 120.88L405 120.82L405.02 120.77L405.04 120.72L405.07 120.67L405.1 120.62L405.13 120.57L405.17 120.52L405.21 120.47L405.24 120.43L405.28 120.38L405.33 120.34L405.37 120.29L405.41 120.25L405.45 120.21L405.49 120.17L405.53 120.13L405.58 120.09L405.62 120.05L405.66 120.01L405.7 119.96L405.74 119.92L405.79 119.87L405.83 119.82L405.87 119.77L405.91 119.7L405.96 119.64L406 119.56L406.05 119.47L406.1 119.37L406.16 119.26L406.22 119.13L406.3 118.99L406.39 118.83L406.49 118.67L406.61 118.49L406.75 118.31L406.9 118.12L407.07 117.93L407.26 117.74L407.46 117.56L407.67 117.38L407.89 117.22L408.13 117.06L408.37 116.91L408.62 116.77L408.88 116.64L409.15 116.53L409.42 116.43L409.69 116.35L409.97 116.28L410.26 116.23L410.55 116.2L410.84 116.19L411.14 116.2L411.43 116.24L411.72 116.29L411.99 116.36L412.25 116.46L412.48 116.57L412.69 116.69L412.87 116.84L413.02 117L413.13 117.17L413.2 117.35L413.24 117.55L413.24 117.75L413.21 117.96L413.15 118.18L413.06 118.4L412.95 118.63L412.82 118.87L412.66 119.11L412.48 119.34L412.29 119.58L412.07 119.82L411.85 120.06L411.61 120.29L411.36 120.51L411.1 120.73L410.83 120.93L410.57 121.12L410.3 121.29L410.04 121.45L409.79 121.58L409.55 121.7L409.31 121.8L409.09 121.89L408.89 121.96L408.69 122.01L408.51 122.06L408.35 122.09L408.2 122.12L408.06 122.14L407.93 122.16L407.81 122.17L407.7 122.18L407.59 122.19L407.5 122.2L407.41 122.21L407.32 122.21L407.24 122.22L407.16 122.22L407.08 122.22L407 122.23L406.93 122.23L406.86 122.24L406.79 122.24L406.72 122.24L406.65 122.25L406.58 122.25L406.52 122.25L406.45 122.25L406.39 122.26L406.33 122.26L406.26 122.25L406.2 122.25L406.14 122.25L406.08 122.24L406.02 122.23L405.97 122.22L405.91 122.21L405.85 122.2L405.8 122.18L405.74 122.16L405.69 122.14L405.64 122.11L405.59 122.08L405.54 122.05L405.49 122.02L405.44 121.98L405.4 121.94L405.35 121.89L405.31 121.85L405.27 121.8L405.23 121.74L405.19 121.69L405.15 121.63L405.12 121.57L405.08 121.52L405.05 121.46L405.03 121.4L405 121.34L404.98 121.28L404.97 121.22Z" fill="#000" fill-opacity="0.034" stroke="#2a2a2a" stroke-width="0.6" stroke-opacity="0.45"/>
<path d="M405.86 120.87L405.86 120.84L405.86 120.8L405.86 120.77L405.86 120.74L405.87 120.71L405.88 120.68L405.89 120.65L405.9 120.62L405.91 120.59L405.93 120.57L405.95 120.54L405.96 120.51L405.98 120.48L406 120.46L406.02 120.43L406.04 120.41L406.07 120.38L406.09 120.36L406.11 120.33L406.13 120.31L406.15 120.29L406.17 120.26L406.2 120.24L406.22 120.21L406.24 120.19L406.26 120.16L406.28 120.13L406.3 120.09L406.32 120.06L406.34 120.02L406.36 119.97L406.39 119.92L406.41 119.86L406.44 119.79L406.47 119.71L406.5 119.62L406.55 119.52L406.6 119.4L406.66 119.28L406.74 119.15L406.83 119.01L406.93 118.86L407.05 118.72L407.18 118.57L407.32 118.43L407.47 118.29L407.64 118.16L407.81 118.03L407.99 117.91L408.17 117.8L408.36 117.7L408.56 117.61L408.77 117.53L408.97 117.46L409.19 117.4L409.4 117.36L409.62 117.33L409.84 117.31L410.07 117.32L410.29 117.34L410.51 117.37L410.71 117.42L410.91 117.49L411.08 117.57L411.24 117.66L411.38 117.77L411.49 117.89L411.57 118.01L411.63 118.15L411.65 118.3L411.65 118.45L411.63 118.61L411.58 118.77L411.52 118.94L411.43 119.11L411.33 119.29L411.2 119.46L411.07 119.64L410.92 119.82L410.75 120L410.58 120.17L410.39 120.34L410.2 120.51L409.99 120.66L409.79 120.81L409.58 120.95L409.38 121.07L409.17 121.18L408.98 121.27L408.79 121.35L408.61 121.41L408.45 121.46L408.29 121.5L408.15 121.53L408.02 121.55L407.9 121.56L407.79 121.57L407.69 121.57L407.6 121.57L407.52 121.57L407.44 121.57L407.37 121.57L407.31 121.56L407.25 121.56L407.2 121.56L407.14 121.55L407.09 121.55L407.05 121.54L407 121.54L406.96 121.54L406.91 121.53L406.87 121.53L406.83 121.53L406.79 121.53L406.76 121.52L406.72 121.52L406.68 121.52L406.65 121.52L406.61 121.51L406.58 121.51L406.54 121.51L406.51 121.5L406.48 121.49L406.44 121.49L406.41 121.48L406.38 121.47L406.35 121.46L406.32 121.45L406.29 121.44L406.26 121.42L406.23 121.41L406.21 121.39L406.18 121.37L406.15 121.35L406.13 121.33L406.1 121.3L406.08 121.28L406.06 121.25L406.03 121.22L406.01 121.19L405.99 121.16L405.97 121.13L405.95 121.1L405.93 121.07L405.92 121.03L405.9 121L405.89 120.97L405.88 120.93L405.87 120.9Z" fill="#000" fill-opacity="0.034" stroke="#2a2a2a" stroke-width="0.6" stroke-opacity="0.45"/>
<path d="M406.59 120.63L406.59 120.62L406.59 120.61L406.59 120.6L406.59 120.59L406.59 120.58L406.59 120.57L406.59 120.56L406.6 120.54L406.6 120.53L406.61 120.52L406.61 120.51L406.62 120.5L406.62 120.49L406.63 120.48L406.64 120.47L406.64 120.47L406.65 120.46L406.66 120.45L406.66 120.44L406.67 120.43L406.67 120.42L406.68 120.41L406.69 120.4L406.69 120.39L406.7 120.38L406.71 120.36L406.71 120.35L406.72 120.34L406.72 120.32L406.73 120.3L406.73 120.28L406.74 120.25L406.74 120.22L406.75 120.19L406.76 120.14L406.77 120.1L406.79 120.04L406.81 119.97L406.83 119.9L406.87 119.82L406.91 119.74L406.97 119.65L407.03 119.56L407.1 119.47L407.17 119.38L407.26 119.29L407.35 119.21L407.45 119.12L407.55 119.05L407.66 118.97L407.78 118.9L407.9 118.84L408.02 118.78L408.14 118.74L408.27 118.69L408.41 118.66L408.54 118.64L408.68 118.62L408.81 118.62L408.95 118.62L409.08 118.64L409.21 118.67L409.33 118.7L409.44 118.75L409.54 118.8L409.62 118.86L409.69 118.93L409.74 119.01L409.77 119.09L409.79 119.18L409.79 119.27L409.77 119.37L409.74 119.47L409.7 119.57L409.64 119.67L409.58 119.78L409.5 119.88L409.41 119.99L409.32 120.1L409.21 120.2L409.1 120.31L408.98 120.41L408.86 120.5L408.73 120.6L408.6 120.68L408.47 120.75L408.33 120.82L408.21 120.88L408.08 120.92L407.97 120.96L407.86 120.98L407.76 121L407.67 121.01L407.58 121.02L407.51 121.02L407.44 121.02L407.38 121.01L407.33 121.01L407.28 121L407.24 120.99L407.2 120.98L407.17 120.98L407.14 120.97L407.11 120.96L407.08 120.95L407.06 120.95L407.04 120.94L407.02 120.93L407 120.93L406.98 120.92L406.97 120.92L406.95 120.91L406.93 120.91L406.92 120.9L406.9 120.9L406.89 120.9L406.88 120.89L406.86 120.89L406.85 120.89L406.84 120.88L406.83 120.88L406.82 120.88L406.8 120.87L406.79 120.87L406.78 120.86L406.77 120.86L406.76 120.86L406.75 120.85L406.74 120.84L406.73 120.84L406.72 120.83L406.71 120.82L406.7 120.82L406.69 120.81L406.68 120.8L406.68 120.79L406.67 120.78L406.66 120.77L406.65 120.76L406.64 120.75L406.64 120.74L406.63 120.73L406.62 120.71L406.62 120.7L406.61 120.69L406.61 120.68L406.6 120.67L406.6 120.66L406.59 120.64Z" fill="#000" fill-opacity="0.034" stroke="#2a2a2a" stroke-width="0.6" stroke-opacity="0.45"/>
<ellipse cx="407" cy="120.8" rx="5" ry="1.4" transform="rotate(-30 407 120.8)" fill="#fff" fill-opacity="0.9"/>
<path d="M367.38 134.42h1v1h-1zM368.31 137.63h1v1h-1zM360.6 141.78h1v1h-1zM356.35 156.05h1v1h-1zM390.89 153.07h1v1h-1zM430.09 98.45h1v1h-1zM380.45 153.88h1v1h-1zM376.96 117.6h1v1h-1zM385.1 159.51h1v1h-1zM360.88 125.2h1v1h-1zM368.64 132.49h1v1h-1zM380.27 148.93h1v1h-1zM431.66 120.82h1v1h-1zM377.73 151.48h1v1h-1zM374.01 145.84h1v1h-1zM365.25 148.45h1v1h-1zM386.56 149.63h1v1h-1zM357.71 153.73h1v1h-1zM381.2 154.32h1v1h-1zM358.18 140.28h1v1h-1zM358.14 145.17h1v1h-1zM354.45 127.65h1v1h-1zM417.84 97.39h1v1h-1zM418.03 147.61h1v1h-1zM411.7 101.79h1v1h-1zM384.6 113.13h1v1h-1zM370.51 141.91h1v1h-1zM363.17 129.78h1v1h-1zM384.92 114.03h1v1h-1zM375.9 146.96h1v1h-1zM397.04 102.65h1v1h-1zM412.02 99.16h1v1h-1zM358.33 137h1v1h-1zM371.25 150.94h1v1h-1zM403.65 149.63h1v1h-1zM372.66 114.63h1v1h-1zM416.06 96.68h1v1h-1zM357.38 135.54h1v1h-1zM371.16 146.72h1v1h-1zM356.14 120.96h1v1h-1zM373.22 157.06h1v1h-1zM417.43 134.72h1v1h-1zM377.3 149.03h1v1h-1zM428.92 95.34h1v1h-1zM372.05 118.1h1v1h-1zM357.32 128.52h1v1h-1zM425.77 99.09h1v1h-1zM365.46 143.66h1v1h-1zM363.77 144.08h1v1h-1zM376.84 155.86h1v1h-1zM371.52 153.41h1v1h-1zM390.33 108.13h1v1h-1zM424.94 124.61h1v1h-1zM362.58 145.59h1v1h-1zM362.38 135.39h1v1h-1zM403.95 149.8h1v1h-1zM371.73 151.82h1v1h-1zM354.03 141.76h1v1h-1zM356.33 133.58h1v1h-1zM429.72 91.37h1v1h-1zM379.51 160.94h1v1h-1zM414.43 143.66h1v1h-1zM400.16 147.4h1v1h-1zM399.39 151.08h1v1h-1zM420.98 99.91h1v1h-1zM362.03 129.99h1v1h-1zM375.65 146.43h1v1h-1zM378.31 156.44h1v1h-1zM373.08 142.22h1v1h-1zM375.83 115.96h1v1h-1zM400.23 94.2h1v1h-1zM386.29 155.93h1v1h-1zM362.31 140.86h1v1h-1zM400.81 153.28h1v1h-1zM393.44 108.48h1v1h-1zM386.93 162.73h1v1h-1zM362.68 138.91h1v1h-1zM365.79 144.52h1v1h-1zM363.65 144.22h1v1h-1zM408.13 144.76h1v1h-1zM414.66 98.13h1v1h-1zM359.32 146.17h1v1h-1zM368.4 153.77h1v1h-1zM372.49 141.72h1v1h-1zM411.57 140.52h1v1h-1zM424.84 96.25h1v1h-1zM404.77 102.22h1v1h-1zM362.94 146.39h1v1h-1zM368.23 138.28h1v1h-1zM419.35 130.89h1v1h-1zM354.23 151.44h1v1h-1zM417.76 142.23h1v1h-1zM403.29 150.07h1v1h-1zM389.72 160.22h1v1h-1zM400.31 106.45h1v1h-1zM416.68 97.83h1v1h-1zM417.1 99.2h1v1h-1zM413.33 100.23h1v1h-1zM395.63 153.05h1v1h-1zM365.75 121.68h1v1h-1zM373.77 147.36h1v1h-1zM383.36 113.86h1v1h-1zM402.89 147.39h1v1h-1zM383.35 153.7h1v1h-1zM374.89 118.82h1v1h-1zM408.63 147.24h1v1h-1zM391.42 162.63h1v1h-1zM388.69 151.33h1v1h-1zM371.63 139.19h1v1h-1zM365.09 154.71h1v1h-1zM370.22 116.9h1v1h-1zM373.04 142.83h1v1h-1zM391.17 153.24h1v1h-1zM375.76 156.21h1v1h-1zM378.05 114.56h1v1h-1zM403.52 161.17h1v1h-1zM374.71 157.34h1v1h-1zM360.89 156.87h1v1h-1zM369.49 147.95h1v1h-1zM397.6 104.7h1v1h-1zM364.38 146.67h1v1h-1zM390.01 150.78h1v1h-1zM380.49 150.34h1v1h-1zM367.42 144.42h1v1h-1zM413.04 150.61h1v1h-1zM368.11 140.75h1v1h-1zM363.16 143.23h1v1h-1zM369.98 147.23h1v1h-1zM416.19 139.61h1v1h-1zM391.55 150.2h1v1h-1zM383.55 112.51h1v1h-1zM375.42 145.47h1v1h-1zM371.01 139.21h1v1h-1zM379.3 116.5h1v1h-1zM375.02 148.96h1v1h-1zM378.08 151.75h1v1h-1zM362.29 129.03h1v1h-1zM363.7 141.3h1v1h-1zM401.49 158.2h1v1h-1zM418.3 98.14h1v1h-1zM352.58 127.51h1v1h-1zM356.6 163.62h1v1h-1zM433.88 117.77h1v1h-1zM394.92 153.4h1v1h-1zM389.12 104.67h1v1h-1zM382.69 170.55h1v1h-1zM417.78 152.32h1v1h-1zM363.84 153.13h1v1h-1zM378.12 161.48h1v1h-1zM374.27 154.3h1v1h-1zM410.76 101.69h1v1h-1zM366.73 128.7h1v1h-1zM363.95 144.75h1v1h-1zM362.25 139.89h1v1h-1zM380.09 157.89h1v1h-1zM367.89 137.98h1v1h-1zM373.79 154.68h1v1h-1zM385.5 158.48h1v1h-1zM406.06 145.7h1v1h-1zM425.06 125.26h1v1h-1zM398.38 156.9h1v1h-1zM398.64 102.47h1v1h-1zM403.62 147.02h1v1h-1zM397.97 158.77h1v1h-1zM369.37 130.79h1v1h-1zM413.82 142.64h1v1h-1zM424.48 98.09h1v1h-1zM385.23 149.9h1v1h-1zM369.87 148.81h1v1h-1zM386.39 157.33h1v1h-1zM378.95 153.88h1v1h-1zM385.99 157.43h1v1h-1zM412.74 101.78h1v1h-1zM418.89 137.75h1v1h-1zM369.43 146.02h1v1h-1zM364.97 137.65h1v1h-1zM383.95 108.89h1v1h-1zM362.92 132.57h1v1h-1zM359.92 137.76h1v1h-1zM353.35 152.26h1v1h-1zM384.4 159.82h1v1h-1zM372.96 145.25h1v1h-1zM386.34 150.98h1v1h-1zM366.55 138.05h1v1h-1zM407.47 103.91h1v1h-1zM405.2 154.17h1v1h-1zM378.79 156.19h1v1h-1zM395.58 105.63h1v1h-1zM374.82 151.96h1v1h-1zM412.49 96.3h1v1h-1zM378.63 150.06h1v1h-1zM372.9 144.92h1v1h-1zM408.42 150.04h1v1h-1zM365.18 132h1v1h-1zM386.47 151.77h1v1h-1zM373.08 148.2h1v1h-1zM347.85 128.55h1v1h-1zM368.43 120.21h1v1h-1zM374.26 157.23h1v1h-1zM364.07 137.11h1v1h-1zM381.84 154.92h1v1h-1zM364.32 142.14h1v1h-1zM369.21 130.29h1v1h-1zM371.15 138.39h1v1h-1zM356.35 148.22h1v1h-1zM384.76 149.81h1v1h-1zM409.73 151.49h1v1h-1zM376.58 148.89h1v1h-1zM406.35 102.79h1v1h-1zM380.22 147.84h1v1h-1zM372.28 164.51h1v1h-1zM392.25 152.93h1v1h-1zM412.69 99.48h1v1h-1zM368.11 130.85h1v1h-1zM391.69 110.31h1v1h-1zM367.29 150.15h1v1h-1zM393.99 105.13h1v1h-1zM360.19 122.09h1v1h-1zM406.13 99.68h1v1h-1zM394.48 152.34h1v1h-1zM387.87 157.02h1v1h-1zM368.19 142.92h1v1h-1zM362.42 148.81h1v1h-1zM356.95 137.71h1v1h-1zM354.51 148.6h1v1h-1zM401.35 147.64h1v1h-1zM371.87 113.17h1v1h-1zM366.81 137.62h1v1h-1zM400.91 105.37h1v1h-1zM381.93 164.38h1v1h-1zM415.41 91.83h1v1h-1zM362.18 153.8h1v1h-1zM392.16 109.77h1v1h-1zM404.14 144.69h1v1h-1zM399.7 106.53h1v1h-1zM369.22 140.9h1v1h-1zM383.16 153.93h1v1h-1zM379.63 166.19h1v1h-1zM432.58 102.88h1v1h-1zM382.89 111h1v1h-1zM362.69 149h1v1h-1zM372.13 148.49h1v1h-1zM377.18 147.19h1v1h-1zM366.81 133.88h1v1h-1zM391.04 160.6h1v1h-1zM382.05 113.26h1v1h-1zM383.35 165.76h1v1h-1zM425.64 96.7h1v1h-1zM395.5 160.59h1v1h-1zM401.06 147.98h1v1h-1zM388.23 154.01h1v1h-1zM366.79 140.61h1v1h-1zM365.84 150.53h1v1h-1zM408.2 148.75h1v1h-1zM369.17 149.17h1v1h-1zM362.39 147.02h1v1h-1zM373.95 150.89h1v1h-1zM391.18 149.96h1v1h-1zM365.78 144.35h1v1h-1zM396.7 152.27h1v1h-1zM372.75 123.76h1v1h-1zM418.8 96.85h1v1h-1zM381.83 149.06h1v1h-1zM418.35 138.66h1v1h-1zM408.42 151.55h1v1h-1zM413.79 148.52h1v1h-1zM388.93 108.75h1v1h-1zM362.22 120.25h1v1h-1zM366.73 130.44h1v1h-1zM381 148.92h1v1h-1zM434.55 104.23h1v1h-1zM401.75 148.86h1v1h-1zM355.91 141.39h1v1h-1zM379.07 169.76h1v1h-1zM368.13 149.51h1v1h-1zM361.69 162.21h1v1h-1zM370.72 138h1v1h-1zM370.42 127.94h1v1h-1zM415.32 140.68h1v1h-1zM351.08 143.49h1v1h-1zM401.9 154.05h1v1h-1zM369.25 135.47h1v1h-1zM385.69 112.97h1v1h-1zM364.92 127.84h1v1h-1zM370.68 140.82h1v1h-1zM407.88 146.54h1v1h-1zM395.75 151.26h1v1h-1zM370.34 137.4h1v1h-1zM400.29 104.17h1v1h-1zM362.58 136.05h1v1h-1zM409.27 141.88h1v1h-1zM407.9 103.19h1v1h-1zM400.63 101.45h1v1h-1zM396.12 159.59h1v1h-1zM398.03 148.26h1v1h-1zM359.04 147.02h1v1h-1zM360.01 125.72h1v1h-1zM362.51 127.4h1v1h-1zM378.01 115.24h1v1h-1zM387.23 149.51h1v1h-1zM374.37 146.65h1v1h-1zM398.88 148.24h1v1h-1zM384.05 153.8h1v1h-1zM382.79 148.98h1v1h-1zM347.05 128.49h1v1h-1zM403.64 95.22h1v1h-1zM369.26 134.69h1v1h-1zM435.43 111.2h1v1h-1zM358.9 138.92h1v1h-1zM399.44 156.78h1v1h-1zM396.77 98.42h1v1h-1zM365.38 131.71h1v1h-1zM395.16 99.78h1v1h-1zM433.15 102.32h1v1h-1zM404.49 144.75h1v1h-1zM402.89 148.42h1v1h-1zM390.48 154.06h1v1h-1zM401.12 154.46h1v1h-1zM364.93 131.16h1v1h-1zM416.43 100.38h1v1h-1zM367.96 134.3h1v1h-1zM354.65 129.9h1v1h-1zM373.86 152.89h1v1h-1zM400.1 153.73h1v1h-1zM376.87 152.57h1v1h-1zM434.35 113.41h1v1h-1zM421.24 133.26h1v1h-1zM395.42 151h1v1h-1zM361.79 142.62h1v1h-1zM435.13 107.83h1v1h-1zM367.91 125.16h1v1h-1zM360 126.72h1v1h-1zM371.72 139.33h1v1h-1zM435 96.1h1v1h-1zM373.03 122.78h1v1h-1zM385.78 175.31h1v1h-1zM363.63 146.1h1v1h-1zM386.22 153.31h1v1h-1zM377.77 115.48h1v1h-1zM415.94 155.88h1v1h-1zM417.09 100.22h1v1h-1zM367.7 132.53h1v1h-1zM348.38 138.81h1v1h-1zM402.03 155.34h1v1h-1zM368.66 111.75h1v1h-1zM369.12 140h1v1h-1zM361.45 134.22h1v1h-1zM355.82 160.97h1v1h-1zM411.13 101.94h1v1h-1zM387.23 111.51h1v1h-1zM392.38 153.98h1v1h-1zM390.02 150.07h1v1h-1zM362.13 146.74h1v1h-1zM358.94 134.39h1v1h-1zM364.41 141.46h1v1h-1zM432.2 119.66h1v1h-1zM387.89 157.41h1v1h-1zM370.01 116.41h1v1h-1zM393.79 148.78h1v1h-1zM359.3 123h1v1h-1zM365.21 118.17h1v1h-1zM367.72 116.57h1v1h-1zM431.63 100.04h1v1h-1zM430.09 102.26h1v1h-1zM377.73 150.9h1v1h-1zM370.62 127.18h1v1h-1zM372.92 123.49h1v1h-1zM381.1 151.18h1v1h-1zM378.31 153.64h1v1h-1zM369.18 164.58h1v1h-1zM378.25 149.1h1v1h-1zM380.27 153.39h1v1h-1zM391.43 159.09h1v1h-1zM373.23 151.54h1v1h-1zM364.94 125.63h1v1h-1zM394.91 106.33h1v1h-1zM376.57 147.92h1v1h-1zM389.57 111.86h1v1h-1zM394.3 150.82h1v1h-1zM412.6 97.37h1v1h-1zM407.17 151.7h1v1h-1zM371.47 145.57h1v1h-1zM376.39 169.4h1v1h-1zM404.2 149.73h1v1h-1zM420.38 99.94h1v1h-1zM369.57 151.12h1v1h-1zM382.06 150.64h1v1h-1zM407.83 152.12h1v1h-1zM363.99 145.86h1v1h-1zM379.12 148.11h1v1h-1zM366.34 136h1v1h-1zM382 149.23h1v1h-1zM362.58 144.95h1v1h-1zM388.97 156.95h1v1h-1zM376.98 149.28h1v1h-1zM372.17 140.54h1v1h-1zM369.21 126.03h1v1h-1zM400.42 150.28h1v1h-1zM383.7 156.64h1v1h-1zM369.66 128.98h1v1h-1zM372.45 147.55h1v1h-1zM377.48 149.58h1v1h-1zM356.45 143.49h1v1h-1zM420.73 136.66h1v1h-1zM399.88 152.01h1v1h-1zM366.55 139.61h1v1h-1zM412.03 150.23h1v1h-1zM373.02 142.27h1v1h-1zM407.68 148.25h1v1h-1zM435.95 119.75h1v1h-1zM421.73 96.5h1v1h-1zM397.51 105.86h1v1h-1zM403.53 145.99h1v1h-1zM380.92 115.82h1v1h-1zM367.48 150.73h1v1h-1zM364.57 134.86h1v1h-1zM365.75 121.02h1v1h-1zM365.78 127.59h1v1h-1zM346.23 132.89h1v1h-1zM368.19 139.34h1v1h-1zM368.72 127.74h1v1h-1zM379.93 149.85h1v1h-1zM431.23 100.06h1v1h-1zM390.44 109.81h1v1h-1zM407.41 103.97h1v1h-1zM372.43 160.72h1v1h-1zM362.58 133.27h1v1h-1zM366.41 141.45h1v1h-1zM389.08 151.03h1v1h-1zM401.53 99.85h1v1h-1zM396.48 108.79h1v1h-1zM378.51 155.09h1v1h-1zM384.54 157.19h1v1h-1zM432.97 104.66h1v1h-1zM439.07 116.72h1v1h-1zM399.66 151.81h1v1h-1zM363.02 142.13h1v1h-1zM393.13 150.57h1v1h-1zM370.97 142.14h1v1h-1zM381.22 154.03h1v1h-1zM387.28 156.61h1v1h-1zM395.65 153.22h1v1h-1zM379.06 151.95h1v1h-1zM401.38 165.16h1v1h-1zM378.22 147.5h1v1h-1zM384.93 112.98h1v1h-1zM433.71 102.06h1v1h-1zM359.38 148.48h1v1h-1zM416.05 143.72h1v1h-1zM372.42 141.53h1v1h-1zM367.63 138.09h1v1h-1zM385.26 164.09h1v1h-1zM357.21 114.26h1v1h-1zM370.93 151.91h1v1h-1zM379.04 157.14h1v1h-1zM424.74 98.27h1v1h-1zM369.05 142.98h1v1h-1zM399.8 150.12h1v1h-1zM370.46 127.51h1v1h-1zM357.31 122.27h1v1h-1zM399.61 104.72h1v1h-1zM385.39 152.05h1v1h-1zM364.48 150.99h1v1h-1zM366.93 120.87h1v1h-1zM364.7 130.33h1v1h-1zM384.91 151.91h1v1h-1zM412.54 151.06h1v1h-1zM402.67 148.78h1v1h-1zM372.52 142.15h1v1h-1zM363.01 142.62h1v1h-1zM366.46 136.48h1v1h-1zM367.25 150.79h1v1h-1zM368.52 133.24h1v1h-1zM378.83 116.31h1v1h-1zM387.57 165.73h1v1h-1zM369.9 134.99h1v1h-1zM366.82 122.94h1v1h-1zM393.19 149.99h1v1h-1zM411.74 145.61h1v1h-1zM412.24 147.71h1v1h-1zM380.89 182.99h1v1h-1zM348 176.26h1v1h-1zM343.14 160.28h1v1h-1zM367.34 180.9h1v1h-1zM375.06 171.25h1v1h-1zM383.78 188.77h1v1h-1zM386.48 184.08h1v1h-1zM388.12 192.23h1v1h-1zM384.27 187.16h1v1h-1zM397.99 177.75h1v1h-1zM363.59 156.27h1v1h-1zM376.5 166.72h1v1h-1zM403.69 189.95h1v1h-1zM374.85 157.99h1v1h-1zM371.45 160.25h1v1h-1zM388.1 178.51h1v1h-1zM372.52 199.62h1v1h-1zM391.68 189.47h1v1h-1zM371.9 145.59h1v1h-1zM394.88 188.82h1v1h-1zM379.39 178.98h1v1h-1zM361.94 160.91h1v1h-1zM402.5 151.16h1v1h-1zM376.94 161.27h1v1h-1zM369.75 172.34h1v1h-1zM384.54 198.37h1v1h-1zM356.6 173.64h1v1h-1zM392.53 175.47h1v1h-1zM384.22 171.31h1v1h-1zM387.55 183.62h1v1h-1zM370.18 174.23h1v1h-1zM375.2 188.34h1v1h-1zM383.66 175.53h1v1h-1zM363.86 162.75h1v1h-1zM381.57 166.89h1v1h-1zM368.52 163.19h1v1h-1zM386.59 168.35h1v1h-1zM370.37 163.02h1v1h-1zM393.83 189.07h1v1h-1zM382.4 180.12h1v1h-1zM364.12 181.8h1v1h-1zM364.19 159.46h1v1h-1zM383.6 159.99h1v1h-1zM350.85 165.71h1v1h-1zM358.34 159.81h1v1h-1zM394.2 200.68h1v1h-1zM373.12 172.75h1v1h-1zM371.07 178.18h1v1h-1zM375.93 152.45h1v1h-1zM363.41 159.66h1v1h-1zM372.52 192.51h1v1h-1zM364.64 162.66h1v1h-1zM398.49 185.56h1v1h-1zM368.35 167.73h1v1h-1zM395.24 171.98h1v1h-1zM390.36 182.24h1v1h-1zM359.18 177.13h1v1h-1zM383.41 179.08h1v1h-1zM370.29 163.26h1v1h-1zM366.38 194.48h1v1h-1zM367.92 179.63h1v1h-1zM380.48 175.22h1v1h-1zM397.56 182.75h1v1h-1zM348.96 185.62h1v1h-1zM355.92 171.28h1v1h-1zM377.29 165.58h1v1h-1zM374.05 179.24h1v1h-1zM380.63 186.5h1v1h-1zM396.73 160.28h1v1h-1zM396.53 161.61h1v1h-1zM387.33 192.29h1v1h-1zM376.53 175.5h1v1h-1zM353.58 177.33h1v1h-1zM375 188.71h1v1h-1zM369.95 169.56h1v1h-1zM376.31 154.71h1v1h-1zM385.83 175.95h1v1h-1zM368.87 164.31h1v1h-1zM371.84 182.65h1v1h-1zM352.71 170.71h1v1h-1zM360.41 159.76h1v1h-1zM377.43 177.19h1v1h-1zM381.46 168.79h1v1h-1zM354.38 159.35h1v1h-1zM385.22 183.14h1v1h-1zM350.57 161.03h1v1h-1zM361.06 159.66h1v1h-1zM384.86 168.16h1v1h-1zM367.74 191.54h1v1h-1zM441.91 110.07h1v1h-1zM436.3 110.95h1v1h-1zM438.89 122.01h1v1h-1zM432.05 118.69h1v1h-1zM433.93 119.17h1v1h-1zM436.36 132.41h1v1h-1zM433.56 118.13h1v1h-1zM433.13 114.13h1v1h-1zM436.21 122.89h1v1h-1zM434.95 120.38h1v1h-1z" fill="#1a1a1a" fill-opacity="0.75"/>
<path d="M597.25 140.62L597.17 139.44L597.2 138.28L597.32 137.14L597.55 136.02L597.86 134.91L598.26 133.82L598.74 132.75L599.3 131.7L599.93 130.66L600.62 129.64L601.37 128.65L602.18 127.66L603.04 126.7L603.94 125.75L604.89 124.83L605.86 123.92L606.87 123.02L607.9 122.15L608.95 121.29L610.02 120.46L611.09 119.64L612.17 118.83L613.24 118.05L614.31 117.28L615.37 116.54L616.41 115.81L617.43 115.1L618.44 114.4L619.44 113.72L620.43 113.05L621.42 112.39L622.4 111.74L623.38 111.1L624.37 110.46L625.36 109.83L626.35 109.2L627.36 108.58L628.38 107.96L629.41 107.33L630.46 106.7L631.54 106.07L632.63 105.44L633.75 104.79L634.9 104.14L636.07 103.49L637.26 102.85L638.48 102.22L639.71 101.61L640.96 101.03L642.22 100.48L643.49 99.97L644.77 99.52L646.05 99.12L647.34 98.78L648.63 98.51L649.92 98.31L651.2 98.2L652.47 98.18L653.74 98.25L654.98 98.42L656.18 98.67L657.34 99L658.45 99.42L659.48 99.92L660.43 100.49L661.29 101.13L662.05 101.85L662.7 102.63L663.22 103.47L663.6 104.38L663.84 105.34L663.94 106.36L663.92 107.41L663.77 108.49L663.51 109.6L663.14 110.71L662.66 111.84L662.1 112.96L661.44 114.06L660.71 115.15L659.91 116.21L659.04 117.25L658.13 118.27L657.17 119.27L656.19 120.26L655.18 121.23L654.17 122.19L653.15 123.15L652.15 124.1L651.17 125.04L650.22 125.98L649.3 126.92L648.41 127.86L647.54 128.79L646.69 129.73L645.86 130.66L645.05 131.6L644.25 132.53L643.46 133.46L642.68 134.38L641.91 135.31L641.14 136.24L640.37 137.16L639.61 138.09L638.84 139.01L638.06 139.94L637.28 140.86L636.48 141.78L635.67 142.7L634.85 143.62L634.01 144.54L633.15 145.46L632.26 146.38L631.35 147.31L630.41 148.22L629.44 149.14L628.46 150.03L627.44 150.91L626.41 151.75L625.36 152.56L624.29 153.33L623.2 154.05L622.11 154.72L620.99 155.32L619.87 155.85L618.74 156.31L617.59 156.68L616.45 156.96L615.3 157.15L614.14 157.23L612.99 157.2L611.83 157.05L610.68 156.78L609.53 156.39L608.4 155.9L607.29 155.3L606.21 154.6L605.15 153.82L604.14 152.96L603.17 152.03L602.25 151.04L601.38 149.99L600.58 148.9L599.85 147.77L599.2 146.6L598.62 145.42L598.13 144.22L597.74 143.02L597.44 141.81Z" fill="#000" fill-opacity="0" stroke="#2a2a2a" stroke-width="0.6" stroke-opacity="0.8"/>
<path d="M602.98 137.19L602.91 136.17L602.92 135.17L603.03 134.18L603.22 133.21L603.48 132.25L603.82 131.31L604.23 130.39L604.71 129.48L605.25 128.58L605.84 127.7L606.48 126.84L607.18 125.99L607.91 125.16L608.69 124.34L609.5 123.54L610.34 122.75L611.2 121.98L612.09 121.22L612.99 120.48L613.9 119.75L614.82 119.04L615.74 118.34L616.67 117.66L617.58 116.99L618.49 116.34L619.38 115.71L620.25 115.08L621.12 114.47L621.97 113.87L622.82 113.28L623.66 112.7L624.49 112.13L625.33 111.55L626.17 110.98L627.01 110.41L627.86 109.84L628.71 109.27L629.58 108.69L630.47 108.09L631.37 107.49L632.3 106.88L633.26 106.25L634.25 105.6L635.27 104.94L636.34 104.27L637.43 103.6L638.57 102.94L639.73 102.31L640.91 101.7L642.12 101.13L643.34 100.6L644.58 100.12L645.83 99.7L647.08 99.35L648.34 99.06L649.6 98.85L650.85 98.73L652.1 98.69L653.33 98.75L654.55 98.89L655.73 99.13L656.86 99.45L657.94 99.85L658.94 100.33L659.87 100.88L660.71 101.51L661.45 102.21L662.07 102.97L662.57 103.8L662.93 104.68L663.15 105.62L663.24 106.61L663.2 107.63L663.04 108.69L662.77 109.77L662.39 110.85L661.91 111.94L661.33 113.03L660.67 114.1L659.93 115.14L659.12 116.16L658.25 117.16L657.33 118.13L656.37 119.07L655.38 120L654.38 120.9L653.36 121.79L652.35 122.65L651.36 123.5L650.39 124.33L649.46 125.16L648.56 125.97L647.7 126.78L646.87 127.58L646.07 128.37L645.3 129.17L644.55 129.96L643.82 130.75L643.1 131.54L642.4 132.32L641.7 133.11L641.02 133.9L640.33 134.69L639.65 135.48L638.97 136.27L638.29 137.05L637.59 137.84L636.9 138.63L636.19 139.42L635.46 140.21L634.73 140.99L633.97 141.78L633.2 142.57L632.41 143.36L631.59 144.14L630.75 144.92L629.89 145.69L629.01 146.43L628.11 147.15L627.2 147.85L626.27 148.5L625.33 149.11L624.38 149.67L623.42 150.18L622.44 150.63L621.46 151.01L620.48 151.31L619.49 151.54L618.5 151.69L617.5 151.74L616.51 151.7L615.51 151.56L614.52 151.3L613.54 150.95L612.57 150.5L611.62 149.97L610.68 149.35L609.78 148.66L608.91 147.91L608.08 147.09L607.29 146.22L606.55 145.31L605.86 144.36L605.23 143.37L604.67 142.37L604.17 141.34L603.75 140.3L603.4 139.26L603.15 138.22Z" fill="#000" fill-opacity="0" stroke="#2a2a2a" stroke-width="0.6" stroke-opacity="0.8"/>
<path d="M608.21 134.05L608.14 133.18L608.15 132.32L608.24 131.48L608.4 130.65L608.62 129.83L608.91 129.02L609.25 128.23L609.66 127.45L610.11 126.68L610.61 125.93L611.16 125.19L611.75 124.46L612.37 123.75L613.03 123.04L613.72 122.35L614.43 121.68L615.17 121.01L615.92 120.36L616.69 119.73L617.46 119.1L618.25 118.49L619.03 117.89L619.82 117.3L620.59 116.73L621.36 116.16L622.12 115.61L622.86 115.07L623.59 114.54L624.31 114.02L625.03 113.51L625.73 112.99L626.44 112.49L627.14 111.98L627.85 111.47L628.55 110.96L629.27 110.44L629.99 109.91L630.72 109.38L631.47 108.82L632.24 108.25L633.03 107.65L633.86 107.03L634.73 106.38L635.64 105.71L636.6 105.03L637.6 104.34L638.65 103.66L639.74 103.01L640.87 102.38L642.02 101.78L643.2 101.24L644.39 100.74L645.6 100.3L646.82 99.93L648.04 99.63L649.27 99.4L650.49 99.26L651.71 99.21L652.92 99.25L654.11 99.38L655.26 99.6L656.36 99.91L657.41 100.29L658.4 100.75L659.3 101.29L660.11 101.9L660.82 102.58L661.42 103.32L661.9 104.13L662.24 104.99L662.45 105.91L662.52 106.87L662.47 107.87L662.3 108.89L662.01 109.94L661.62 110.99L661.13 112.05L660.55 113.1L659.88 114.13L659.13 115.14L658.32 116.11L657.45 117.06L656.53 117.98L655.57 118.87L654.58 119.74L653.57 120.57L652.56 121.38L651.56 122.16L650.57 122.91L649.62 123.64L648.71 124.36L647.84 125.05L647.02 125.73L646.23 126.41L645.48 127.07L644.76 127.74L644.07 128.4L643.41 129.06L642.76 129.72L642.13 130.38L641.51 131.04L640.9 131.71L640.29 132.37L639.69 133.03L639.09 133.7L638.49 134.36L637.89 135.03L637.28 135.7L636.66 136.36L636.04 137.03L635.4 137.7L634.74 138.37L634.07 139.03L633.38 139.7L632.68 140.36L631.95 141.02L631.21 141.67L630.45 142.3L629.68 142.91L628.89 143.49L628.1 144.04L627.29 144.56L626.47 145.03L625.64 145.45L624.81 145.82L623.97 146.13L623.13 146.38L622.28 146.57L621.43 146.68L620.58 146.71L619.74 146.66L618.89 146.52L618.05 146.29L617.21 145.97L616.38 145.57L615.57 145.09L614.78 144.55L614.01 143.95L613.27 143.29L612.57 142.58L611.9 141.83L611.27 141.04L610.68 140.21L610.14 139.37L609.66 138.5L609.24 137.62L608.87 136.72L608.58 135.83L608.36 134.94Z" fill="#000" fill-opacity="0" stroke="#2a2a2a" stroke-width="0.6" stroke-opacity="0.8"/>
<path d="M612.96 131.21L612.9 130.47L612.91 129.74L612.97 129.02L613.1 128.32L613.29 127.62L613.53 126.94L613.82 126.27L614.15 125.6L614.53 124.95L614.95 124.31L615.41 123.69L615.91 123.07L616.43 122.46L616.99 121.86L617.57 121.28L618.17 120.7L618.79 120.14L619.42 119.58L620.07 119.04L620.72 118.51L621.38 117.99L622.04 117.47L622.7 116.97L623.35 116.48L624 116L624.63 115.53L625.25 115.06L625.86 114.61L626.47 114.16L627.06 113.71L627.65 113.26L628.24 112.82L628.82 112.37L629.41 111.92L630 111.47L630.59 111L631.19 110.52L631.79 110.03L632.42 109.51L633.06 108.96L633.73 108.39L634.44 107.78L635.19 107.14L635.99 106.47L636.85 105.78L637.77 105.08L638.74 104.38L639.76 103.71L640.82 103.06L641.92 102.44L643.05 101.88L644.2 101.37L645.37 100.91L646.55 100.52L647.74 100.21L648.93 99.97L650.12 99.81L651.31 99.75L652.49 99.77L653.65 99.89L654.77 100.09L655.85 100.38L656.88 100.75L657.83 101.19L658.71 101.71L659.49 102.3L660.18 102.96L660.76 103.69L661.21 104.47L661.54 105.31L661.73 106.2L661.78 107.14L661.72 108.11L661.53 109.1L661.23 110.12L660.83 111.14L660.34 112.16L659.75 113.17L659.07 114.17L658.33 115.13L657.51 116.06L656.63 116.97L655.71 117.83L654.75 118.67L653.77 119.47L652.76 120.24L651.76 120.97L650.77 121.67L649.8 122.33L648.86 122.96L647.98 123.57L647.15 124.16L646.36 124.73L645.62 125.28L644.92 125.83L644.26 126.38L643.62 126.92L643.02 127.46L642.44 128.01L641.87 128.55L641.33 129.1L640.79 129.65L640.26 130.2L639.73 130.76L639.21 131.31L638.69 131.87L638.17 132.42L637.64 132.98L637.1 133.54L636.56 134.1L636.01 134.65L635.45 135.21L634.88 135.77L634.29 136.33L633.68 136.89L633.06 137.44L632.43 137.98L631.78 138.51L631.12 139.02L630.45 139.5L629.77 139.96L629.08 140.38L628.39 140.77L627.69 141.12L626.98 141.43L626.27 141.68L625.55 141.88L624.83 142.02L624.12 142.1L623.4 142.11L622.68 142.05L621.97 141.92L621.25 141.71L620.55 141.43L619.85 141.07L619.17 140.66L618.51 140.19L617.86 139.66L617.24 139.09L616.65 138.48L616.08 137.83L615.55 137.15L615.06 136.45L614.6 135.73L614.2 134.99L613.84 134.23L613.53 133.47L613.28 132.71L613.09 131.96Z" fill="#000" fill-opacity="0" stroke="#2a2a2a" stroke-width="0.6" stroke-opacity="0.8"/>
<path d="M617.25 128.64L617.19 128.02L617.19 127.41L617.25 126.8L617.35 126.21L617.5 125.63L617.7 125.06L617.94 124.49L618.22 123.94L618.53 123.39L618.88 122.85L619.26 122.33L619.67 121.81L620.11 121.3L620.57 120.8L621.05 120.3L621.55 119.82L622.07 119.34L622.59 118.88L623.13 118.42L623.67 117.97L624.22 117.53L624.77 117.1L625.32 116.67L625.86 116.26L626.4 115.85L626.92 115.45L627.44 115.05L627.94 114.66L628.44 114.28L628.93 113.89L629.41 113.51L629.9 113.13L630.38 112.74L630.85 112.34L631.33 111.94L631.82 111.52L632.3 111.09L632.8 110.64L633.31 110.16L633.85 109.65L634.4 109.1L635 108.51L635.64 107.88L636.34 107.21L637.1 106.52L637.93 105.81L638.82 105.1L639.77 104.41L640.77 103.74L641.82 103.11L642.9 102.53L644 102L645.13 101.54L646.27 101.13L647.43 100.8L648.59 100.55L649.75 100.38L650.91 100.3L652.05 100.31L653.18 100.41L654.28 100.59L655.33 100.86L656.32 101.22L657.25 101.64L658.1 102.15L658.86 102.72L659.52 103.36L660.07 104.06L660.5 104.82L660.81 105.64L660.98 106.5L661.02 107.41L660.94 108.35L660.74 109.32L660.44 110.3L660.03 111.29L659.52 112.28L658.93 113.25L658.25 114.2L657.5 115.13L656.68 116.01L655.81 116.87L654.89 117.69L653.93 118.47L652.95 119.21L651.96 119.91L650.96 120.57L649.98 121.18L649.03 121.76L648.12 122.3L647.27 122.81L646.47 123.29L645.72 123.75L645.03 124.21L644.38 124.65L643.77 125.09L643.2 125.52L642.66 125.96L642.14 126.4L641.64 126.85L641.15 127.29L640.68 127.74L640.22 128.19L639.77 128.64L639.32 129.1L638.87 129.56L638.42 130.01L637.97 130.47L637.51 130.93L637.05 131.4L636.58 131.86L636.1 132.32L635.61 132.78L635.11 133.24L634.6 133.7L634.08 134.16L633.54 134.6L632.99 135.04L632.44 135.46L631.87 135.86L631.3 136.23L630.72 136.58L630.13 136.9L629.54 137.18L628.95 137.43L628.35 137.63L627.75 137.78L627.15 137.89L626.55 137.95L625.95 137.94L625.35 137.88L624.76 137.76L624.16 137.57L623.58 137.32L623 137.01L622.43 136.65L621.88 136.24L621.34 135.79L620.82 135.3L620.33 134.78L619.86 134.23L619.42 133.65L619.01 133.05L618.63 132.44L618.29 131.82L617.99 131.18L617.73 130.54L617.52 129.9L617.35 129.27Z" fill="#000" fill-opacity="0" stroke="#2a2a2a" stroke-width="0.6" stroke-opacity="0.8"/>
<path d="M621.09 126.34L621.04 125.82L621.04 125.31L621.08 124.82L621.16 124.33L621.28 123.84L621.44 123.37L621.64 122.9L621.86 122.44L622.12 121.99L622.41 121.54L622.72 121.11L623.05 120.67L623.41 120.25L623.79 119.83L624.19 119.43L624.6 119.02L625.02 118.63L625.45 118.24L625.89 117.86L626.34 117.49L626.79 117.12L627.24 116.76L627.69 116.4L628.13 116.06L628.57 115.71L629 115.38L629.42 115.05L629.83 114.72L630.23 114.39L630.63 114.06L631.02 113.74L631.41 113.41L631.8 113.07L632.18 112.73L632.57 112.38L632.96 112.01L633.35 111.62L633.75 111.21L634.16 110.77L634.59 110.29L635.04 109.77L635.54 109.21L636.08 108.6L636.68 107.94L637.35 107.25L638.09 106.53L638.91 105.82L639.79 105.11L640.73 104.43L641.71 103.79L642.74 103.2L643.8 102.65L644.89 102.17L645.99 101.76L647.11 101.41L648.23 101.15L649.36 100.96L650.48 100.87L651.6 100.86L652.7 100.94L653.76 101.11L654.78 101.37L655.74 101.7L656.64 102.11L657.46 102.6L658.2 103.15L658.83 103.77L659.36 104.45L659.77 105.18L660.05 105.98L660.21 106.82L660.23 107.7L660.14 108.61L659.93 109.54L659.61 110.49L659.2 111.44L658.69 112.39L658.09 113.33L657.41 114.24L656.66 115.12L655.84 115.96L654.97 116.77L654.05 117.54L653.11 118.26L652.13 118.94L651.15 119.58L650.17 120.16L649.21 120.7L648.28 121.2L647.4 121.65L646.58 122.06L645.82 122.45L645.11 122.82L644.47 123.18L643.87 123.52L643.32 123.87L642.8 124.21L642.31 124.55L641.86 124.9L641.42 125.25L641 125.61L640.59 125.97L640.19 126.33L639.8 126.69L639.42 127.06L639.03 127.43L638.65 127.8L638.27 128.18L637.88 128.55L637.49 128.92L637.1 129.3L636.7 129.68L636.29 130.05L635.87 130.43L635.44 130.8L635 131.17L634.55 131.54L634.09 131.89L633.63 132.23L633.16 132.55L632.68 132.86L632.2 133.14L631.71 133.39L631.22 133.62L630.73 133.81L630.24 133.97L629.74 134.09L629.24 134.17L628.75 134.2L628.25 134.19L627.76 134.12L627.27 134.01L626.78 133.84L626.3 133.62L625.82 133.35L625.36 133.04L624.9 132.69L624.46 132.31L624.04 131.89L623.63 131.45L623.25 130.99L622.88 130.51L622.55 130.01L622.24 129.5L621.95 128.98L621.71 128.45L621.49 127.92L621.31 127.39L621.18 126.86Z" fill="#000" fill-opacity="0.05" stroke="#2a2a2a" stroke-width="0.6" stroke-opacity="0.8"/>
<path d="M624.5 124.29L624.46 123.87L624.45 123.46L624.49 123.05L624.55 122.65L624.65 122.25L624.77 121.87L624.93 121.48L625.11 121.11L625.32 120.74L625.55 120.38L625.8 120.02L626.07 119.67L626.36 119.32L626.66 118.98L626.98 118.64L627.31 118.31L627.66 117.99L628.01 117.67L628.36 117.36L628.72 117.05L629.09 116.75L629.45 116.45L629.81 116.16L630.17 115.87L630.52 115.59L630.87 115.31L631.2 115.04L631.53 114.76L631.86 114.49L632.17 114.22L632.49 113.94L632.79 113.66L633.1 113.38L633.4 113.08L633.7 112.78L634.01 112.45L634.31 112.11L634.62 111.74L634.95 111.34L635.29 110.9L635.65 110.41L636.05 109.88L636.5 109.29L637.01 108.64L637.6 107.96L638.26 107.25L638.99 106.53L639.8 105.82L640.68 105.13L641.61 104.48L642.58 103.87L643.6 103.32L644.64 102.82L645.7 102.4L646.78 102.04L647.87 101.76L648.96 101.56L650.05 101.45L651.13 101.43L652.19 101.5L653.23 101.65L654.21 101.89L655.15 102.21L656.02 102.6L656.81 103.06L657.51 103.59L658.12 104.19L658.62 104.85L659.01 105.56L659.27 106.33L659.41 107.14L659.42 107.99L659.31 108.87L659.09 109.77L658.77 110.69L658.34 111.6L657.83 112.51L657.22 113.41L656.54 114.28L655.79 115.11L654.98 115.91L654.12 116.67L653.21 117.38L652.27 118.05L651.31 118.67L650.34 119.24L649.38 119.76L648.44 120.23L647.54 120.64L646.69 121.01L645.91 121.34L645.19 121.65L644.53 121.93L643.93 122.2L643.39 122.46L642.89 122.72L642.43 122.98L642 123.24L641.59 123.51L641.21 123.78L640.85 124.05L640.5 124.33L640.16 124.62L639.83 124.9L639.51 125.2L639.18 125.49L638.86 125.78L638.54 126.08L638.22 126.38L637.9 126.68L637.57 126.98L637.24 127.28L636.9 127.58L636.55 127.88L636.2 128.18L635.83 128.48L635.46 128.77L635.09 129.05L634.71 129.32L634.32 129.58L633.93 129.82L633.53 130.04L633.13 130.24L632.73 130.42L632.33 130.57L631.93 130.69L631.52 130.77L631.12 130.83L630.71 130.85L630.31 130.83L629.91 130.76L629.51 130.66L629.11 130.51L628.72 130.32L628.34 130.09L627.96 129.83L627.6 129.53L627.24 129.21L626.9 128.87L626.57 128.5L626.26 128.11L625.97 127.71L625.69 127.3L625.44 126.88L625.21 126.45L625.01 126.02L624.83 125.58L624.69 125.15L624.58 124.72Z" fill="#000" fill-opacity="0.05" stroke="#2a2a2a" stroke-width="0.6" stroke-opacity="0.8"/>
<path d="M627.5 122.49L627.47 122.15L627.47 121.82L627.49 121.49L627.54 121.17L627.61 120.85L627.71 120.54L627.83 120.24L627.97 119.93L628.14 119.64L628.32 119.34L628.52 119.06L628.73 118.77L628.96 118.49L629.2 118.22L629.46 117.95L629.72 117.68L629.99 117.42L630.27 117.17L630.55 116.91L630.84 116.67L631.13 116.42L631.42 116.18L631.7 115.95L631.99 115.71L632.26 115.48L632.54 115.26L632.8 115.03L633.06 114.81L633.31 114.58L633.56 114.36L633.8 114.13L634.04 113.89L634.27 113.65L634.51 113.4L634.74 113.14L634.97 112.86L635.2 112.56L635.44 112.23L635.68 111.87L635.94 111.47L636.22 111.02L636.54 110.51L636.91 109.95L637.33 109.33L637.83 108.66L638.41 107.95L639.08 107.24L639.82 106.53L640.63 105.83L641.5 105.17L642.42 104.56L643.39 104L644.38 103.49L645.4 103.06L646.44 102.69L647.49 102.4L648.54 102.19L649.6 102.06L650.64 102.03L651.67 102.08L652.67 102.21L653.63 102.43L654.53 102.73L655.36 103.1L656.12 103.55L656.8 104.06L657.38 104.63L657.86 105.27L658.22 105.95L658.46 106.69L658.58 107.48L658.57 108.3L658.45 109.14L658.22 110.01L657.89 110.89L657.46 111.77L656.94 112.64L656.33 113.49L655.66 114.32L654.91 115.11L654.1 115.86L653.25 116.57L652.35 117.23L651.42 117.84L650.48 118.4L649.53 118.91L648.59 119.36L647.68 119.76L646.81 120.1L646 120.39L645.26 120.65L644.58 120.87L643.97 121.07L643.42 121.27L642.93 121.45L642.48 121.64L642.08 121.83L641.7 122.02L641.35 122.21L641.03 122.42L640.72 122.62L640.42 122.84L640.14 123.05L639.86 123.27L639.59 123.5L639.32 123.73L639.06 123.96L638.79 124.19L638.53 124.42L638.26 124.65L637.99 124.89L637.72 125.12L637.45 125.36L637.16 125.59L636.87 125.83L636.58 126.06L636.28 126.29L635.98 126.51L635.67 126.72L635.35 126.92L635.04 127.11L634.72 127.28L634.4 127.43L634.08 127.57L633.75 127.68L633.43 127.77L633.1 127.83L632.78 127.87L632.45 127.87L632.13 127.85L631.81 127.79L631.5 127.7L631.18 127.57L630.87 127.4L630.57 127.21L630.27 126.99L629.98 126.75L629.7 126.48L629.42 126.19L629.16 125.89L628.92 125.58L628.68 125.25L628.47 124.92L628.26 124.58L628.08 124.23L627.92 123.88L627.78 123.53L627.66 123.18L627.57 122.83Z" fill="#000" fill-opacity="0.05" stroke="#2a2a2a" stroke-width="0.6" stroke-opacity="0.8"/>
<path d="M630.12 120.92L630.09 120.65L630.09 120.39L630.1 120.13L630.14 119.88L630.2 119.63L630.27 119.39L630.36 119.15L630.47 118.91L630.6 118.67L630.74 118.44L630.89 118.22L631.06 117.99L631.24 117.77L631.43 117.56L631.62 117.34L631.83 117.13L632.04 116.93L632.25 116.73L632.47 116.53L632.7 116.33L632.92 116.14L633.14 115.94L633.37 115.76L633.59 115.57L633.8 115.39L634.01 115.21L634.21 115.02L634.41 114.84L634.6 114.66L634.79 114.48L634.97 114.29L635.15 114.1L635.33 113.9L635.5 113.69L635.67 113.47L635.84 113.23L636.01 112.97L636.18 112.69L636.36 112.36L636.55 112L636.76 111.59L637.01 111.12L637.3 110.58L637.65 109.99L638.07 109.34L638.57 108.65L639.16 107.94L639.83 107.24L640.58 106.54L641.39 105.88L642.26 105.26L643.17 104.69L644.12 104.18L645.1 103.74L646.09 103.36L647.1 103.06L648.11 102.83L649.13 102.69L650.14 102.64L651.13 102.68L652.09 102.8L653.01 103L653.88 103.28L654.68 103.63L655.41 104.05L656.05 104.54L656.61 105.09L657.06 105.7L657.39 106.36L657.61 107.07L657.71 107.83L657.69 108.61L657.56 109.43L657.32 110.26L656.98 111.1L656.54 111.93L656.02 112.76L655.42 113.57L654.74 114.36L654 115.1L653.2 115.8L652.36 116.46L651.48 117.07L650.57 117.63L649.64 118.13L648.72 118.58L647.81 118.97L646.93 119.29L646.1 119.56L645.33 119.79L644.63 119.97L644 120.13L643.44 120.26L642.95 120.39L642.5 120.51L642.11 120.63L641.75 120.76L641.43 120.89L641.13 121.03L640.85 121.17L640.59 121.32L640.35 121.48L640.11 121.64L639.88 121.8L639.66 121.97L639.44 122.14L639.23 122.31L639.02 122.49L638.8 122.67L638.59 122.84L638.37 123.02L638.15 123.2L637.93 123.38L637.71 123.56L637.48 123.74L637.24 123.92L637 124.09L636.76 124.26L636.52 124.42L636.27 124.57L636.02 124.72L635.77 124.84L635.51 124.96L635.26 125.06L635 125.14L634.75 125.2L634.49 125.24L634.24 125.27L633.99 125.26L633.73 125.23L633.48 125.18L633.24 125.1L632.99 124.99L632.75 124.85L632.51 124.69L632.28 124.51L632.05 124.31L631.84 124.09L631.63 123.86L631.42 123.62L631.23 123.37L631.05 123.11L630.88 122.84L630.72 122.57L630.58 122.3L630.45 122.02L630.34 121.74L630.25 121.46L630.17 121.19Z" fill="#000" fill-opacity="0.05" stroke="#2a2a2a" stroke-width="0.6" stroke-opacity="0.8"/>
<path d="M632.37 119.57L632.35 119.37L632.34 119.17L632.35 118.97L632.38 118.77L632.42 118.58L632.47 118.39L632.54 118.21L632.63 118.03L632.72 117.85L632.83 117.67L632.94 117.49L633.07 117.32L633.2 117.15L633.35 116.98L633.49 116.82L633.65 116.66L633.81 116.5L633.97 116.34L634.14 116.19L634.31 116.04L634.48 115.89L634.65 115.74L634.81 115.59L634.98 115.45L635.14 115.3L635.3 115.16L635.45 115.02L635.59 114.88L635.74 114.73L635.87 114.59L636.01 114.44L636.14 114.28L636.27 114.12L636.39 113.95L636.51 113.77L636.63 113.57L636.74 113.35L636.86 113.1L636.99 112.82L637.12 112.49L637.27 112.12L637.45 111.69L637.67 111.19L637.95 110.63L638.29 110.01L638.73 109.34L639.24 108.65L639.85 107.95L640.53 107.26L641.28 106.6L642.1 105.98L642.95 105.41L643.85 104.89L644.78 104.44L645.73 104.05L646.69 103.74L647.66 103.51L648.64 103.35L649.61 103.29L650.56 103.31L651.49 103.41L652.37 103.59L653.2 103.85L653.97 104.18L654.66 104.59L655.27 105.05L655.8 105.58L656.22 106.16L656.53 106.79L656.73 107.47L656.81 108.19L656.77 108.95L656.63 109.72L656.38 110.51L656.03 111.31L655.59 112.11L655.07 112.9L654.47 113.66L653.8 114.4L653.07 115.09L652.28 115.75L651.45 116.35L650.59 116.91L649.7 117.41L648.8 117.86L647.91 118.25L647.03 118.57L646.19 118.83L645.4 119.04L644.68 119.2L644.03 119.32L643.45 119.42L642.94 119.5L642.5 119.57L642.1 119.63L641.76 119.7L641.45 119.78L641.18 119.86L640.93 119.95L640.7 120.04L640.48 120.15L640.28 120.25L640.09 120.37L639.91 120.48L639.73 120.6L639.55 120.73L639.38 120.85L639.21 120.98L639.05 121.11L638.88 121.24L638.71 121.37L638.54 121.51L638.36 121.64L638.19 121.77L638.01 121.91L637.82 122.04L637.64 122.17L637.45 122.29L637.26 122.41L637.07 122.52L636.87 122.63L636.68 122.72L636.48 122.8L636.29 122.87L636.09 122.93L635.9 122.97L635.7 123L635.51 123.01L635.31 123L635.12 122.97L634.93 122.92L634.74 122.85L634.55 122.76L634.37 122.65L634.19 122.52L634.02 122.37L633.85 122.21L633.68 122.04L633.52 121.86L633.37 121.67L633.22 121.47L633.08 121.27L632.96 121.06L632.84 120.85L632.73 120.63L632.63 120.42L632.54 120.2L632.47 119.99L632.41 119.78Z" fill="#000" fill-opacity="0.05" stroke="#2a2a2a" stroke-width="0.6" stroke-opacity="0.8"/>
<path d="M634.28 118.43L634.26 118.28L634.25 118.13L634.26 117.98L634.27 117.83L634.3 117.69L634.34 117.55L634.39 117.41L634.45 117.28L634.52 117.14L634.6 117.01L634.68 116.88L634.77 116.75L634.87 116.62L634.98 116.5L635.09 116.37L635.2 116.25L635.32 116.13L635.44 116.02L635.56 115.9L635.68 115.79L635.81 115.67L635.93 115.56L636.05 115.45L636.17 115.34L636.29 115.23L636.4 115.12L636.51 115.01L636.62 114.91L636.72 114.8L636.82 114.68L636.91 114.57L637 114.44L637.09 114.32L637.17 114.18L637.25 114.03L637.33 113.87L637.4 113.68L637.48 113.47L637.56 113.23L637.64 112.95L637.74 112.61L637.86 112.22L638.02 111.77L638.23 111.24L638.52 110.65L638.88 110.02L639.33 109.35L639.86 108.66L640.48 107.99L641.17 107.33L641.92 106.71L642.73 106.14L643.57 105.62L644.45 105.17L645.35 104.77L646.27 104.45L647.19 104.21L648.12 104.05L649.05 103.97L649.96 103.97L650.85 104.05L651.69 104.22L652.48 104.46L653.21 104.77L653.87 105.15L654.45 105.59L654.94 106.09L655.33 106.64L655.62 107.24L655.8 107.89L655.86 108.58L655.81 109.29L655.65 110.03L655.39 110.78L655.04 111.54L654.6 112.29L654.08 113.03L653.48 113.75L652.82 114.44L652.1 115.09L651.33 115.69L650.52 116.24L649.68 116.75L648.82 117.19L647.95 117.58L647.09 117.91L646.26 118.18L645.46 118.38L644.72 118.53L644.04 118.63L643.45 118.7L642.92 118.75L642.47 118.77L642.08 118.8L641.74 118.82L641.44 118.85L641.18 118.88L640.95 118.93L640.74 118.97L640.56 119.03L640.38 119.09L640.22 119.16L640.07 119.24L639.93 119.31L639.79 119.4L639.65 119.48L639.52 119.57L639.39 119.66L639.26 119.75L639.13 119.84L639 119.94L638.87 120.03L638.74 120.13L638.6 120.22L638.47 120.32L638.33 120.41L638.19 120.5L638.04 120.59L637.9 120.68L637.76 120.75L637.61 120.83L637.47 120.89L637.32 120.95L637.17 121L637.03 121.03L636.88 121.06L636.73 121.08L636.59 121.08L636.45 121.06L636.3 121.04L636.16 120.99L636.02 120.94L635.89 120.86L635.75 120.77L635.62 120.67L635.49 120.56L635.37 120.43L635.24 120.3L635.13 120.16L635.02 120.01L634.91 119.86L634.81 119.71L634.71 119.55L634.62 119.39L634.54 119.23L634.47 119.07L634.41 118.9L634.35 118.74L634.31 118.59Z" fill="#000" fill-opacity="0.05" stroke="#2a2a2a" stroke-width="0.6" stroke-opacity="0.35"/>
<path d="M635.85 117.48L635.84 117.37L635.83 117.27L635.84 117.16L635.85 117.05L635.87 116.95L635.9 116.85L635.93 116.75L635.97 116.65L636.02 116.56L636.07 116.46L636.13 116.37L636.2 116.27L636.27 116.18L636.34 116.09L636.42 116L636.5 115.91L636.58 115.83L636.67 115.74L636.75 115.66L636.84 115.58L636.93 115.49L637.01 115.41L637.1 115.33L637.18 115.25L637.26 115.17L637.34 115.09L637.42 115.01L637.49 114.93L637.56 114.85L637.62 114.76L637.68 114.67L637.74 114.58L637.8 114.48L637.85 114.38L637.9 114.26L637.94 114.13L637.99 113.98L638.03 113.8L638.07 113.6L638.11 113.36L638.17 113.07L638.25 112.72L638.35 112.31L638.51 111.83L638.73 111.28L639.03 110.68L639.41 110.04L639.88 109.38L640.43 108.72L641.06 108.08L641.75 107.47L642.49 106.9L643.28 106.38L644.11 105.93L644.95 105.53L645.82 105.2L646.7 104.95L647.58 104.77L648.47 104.68L649.33 104.67L650.17 104.73L650.97 104.88L651.73 105.1L652.42 105.38L653.04 105.74L653.58 106.15L654.04 106.63L654.4 107.15L654.66 107.72L654.81 108.34L654.85 108.98L654.79 109.66L654.62 110.36L654.36 111.07L654 111.78L653.56 112.49L653.04 113.18L652.46 113.85L651.81 114.48L651.1 115.08L650.35 115.63L649.56 116.13L648.75 116.58L647.92 116.97L647.09 117.3L646.28 117.58L645.49 117.79L644.74 117.94L644.05 118.03L643.44 118.09L642.89 118.11L642.43 118.11L642.03 118.1L641.69 118.09L641.4 118.08L641.15 118.07L640.94 118.08L640.75 118.09L640.58 118.11L640.43 118.13L640.3 118.17L640.17 118.2L640.05 118.25L639.94 118.3L639.84 118.35L639.74 118.4L639.64 118.46L639.54 118.52L639.44 118.58L639.34 118.64L639.25 118.7L639.15 118.77L639.05 118.83L638.96 118.9L638.86 118.96L638.76 119.03L638.65 119.09L638.55 119.15L638.45 119.2L638.34 119.26L638.24 119.31L638.13 119.35L638.02 119.39L637.92 119.42L637.81 119.44L637.71 119.45L637.6 119.46L637.5 119.46L637.4 119.44L637.29 119.42L637.19 119.38L637.1 119.34L637 119.28L636.9 119.21L636.81 119.13L636.72 119.04L636.63 118.95L636.55 118.85L636.46 118.74L636.38 118.64L636.31 118.52L636.24 118.41L636.17 118.29L636.11 118.18L636.05 118.06L636 117.94L635.95 117.83L635.91 117.71L635.88 117.6Z" fill="#000" fill-opacity="0.05" stroke="#2a2a2a" stroke-width="0.6" stroke-opacity="0.35"/>
<path d="M637.13 116.72L637.12 116.64L637.12 116.57L637.12 116.49L637.13 116.42L637.14 116.35L637.15 116.28L637.18 116.21L637.2 116.15L637.24 116.08L637.27 116.01L637.31 115.95L637.35 115.89L637.4 115.82L637.45 115.76L637.5 115.7L637.56 115.64L637.61 115.58L637.67 115.52L637.73 115.46L637.78 115.4L637.84 115.35L637.9 115.29L637.96 115.23L638.01 115.18L638.07 115.12L638.12 115.06L638.17 115.01L638.21 114.95L638.25 114.89L638.3 114.83L638.33 114.77L638.37 114.7L638.4 114.62L638.43 114.54L638.45 114.45L638.47 114.35L638.49 114.23L638.51 114.1L638.52 113.93L638.54 113.73L638.56 113.48L638.6 113.19L638.67 112.82L638.77 112.39L638.94 111.89L639.17 111.33L639.49 110.73L639.89 110.1L640.38 109.47L640.94 108.84L641.57 108.25L642.25 107.69L642.98 107.18L643.75 106.72L644.54 106.33L645.35 105.99L646.18 105.73L647.01 105.55L647.84 105.44L648.66 105.41L649.45 105.46L650.21 105.58L650.92 105.78L651.56 106.04L652.14 106.37L652.65 106.76L653.07 107.2L653.4 107.7L653.63 108.23L653.76 108.81L653.78 109.42L653.7 110.05L653.53 110.71L653.26 111.37L652.9 112.03L652.46 112.69L651.95 113.33L651.38 113.95L650.74 114.53L650.06 115.07L649.33 115.57L648.58 116.01L647.8 116.41L647.01 116.74L646.23 117.02L645.46 117.24L644.72 117.4L644.03 117.5L643.41 117.55L642.85 117.56L642.37 117.55L641.96 117.51L641.62 117.48L641.33 117.44L641.09 117.4L640.89 117.38L640.72 117.36L640.57 117.35L640.44 117.34L640.32 117.35L640.22 117.36L640.13 117.38L640.04 117.4L639.96 117.42L639.88 117.45L639.81 117.48L639.73 117.52L639.66 117.55L639.6 117.59L639.53 117.63L639.46 117.67L639.39 117.71L639.32 117.75L639.25 117.79L639.18 117.83L639.11 117.87L639.04 117.91L638.97 117.95L638.9 117.99L638.82 118.02L638.75 118.05L638.68 118.08L638.6 118.1L638.53 118.11L638.46 118.13L638.39 118.13L638.32 118.13L638.25 118.13L638.18 118.11L638.11 118.09L638.04 118.06L637.97 118.03L637.91 117.98L637.84 117.93L637.78 117.87L637.72 117.81L637.66 117.74L637.6 117.67L637.55 117.6L637.49 117.52L637.44 117.44L637.4 117.36L637.35 117.28L637.31 117.2L637.27 117.12L637.23 117.03L637.2 116.95L637.17 116.87L637.15 116.8Z" fill="#000" fill-opacity="0.05" stroke="#2a2a2a" stroke-width="0.6" stroke-opacity="0.35"/>
<path d="M638.13 116.12L638.13 116.07L638.12 116.02L638.12 115.97L638.13 115.93L638.13 115.88L638.14 115.84L638.16 115.79L638.17 115.75L638.19 115.71L638.22 115.66L638.24 115.62L638.27 115.58L638.3 115.54L638.33 115.5L638.36 115.46L638.39 115.42L638.43 115.38L638.46 115.34L638.5 115.3L638.54 115.27L638.57 115.23L638.61 115.19L638.64 115.15L638.68 115.12L638.71 115.08L638.74 115.04L638.77 115.01L638.8 114.97L638.82 114.93L638.84 114.88L638.86 114.84L638.88 114.79L638.9 114.74L638.91 114.68L638.92 114.62L638.92 114.54L638.93 114.45L638.92 114.35L638.92 114.22L638.92 114.06L638.92 113.86L638.93 113.61L638.96 113.3L639.02 112.92L639.14 112.47L639.32 111.97L639.57 111.41L639.91 110.82L640.33 110.22L640.82 109.63L641.38 109.05L642 108.51L642.66 108.01L643.37 107.56L644.1 107.17L644.85 106.84L645.62 106.57L646.4 106.38L647.17 106.26L647.94 106.21L648.68 106.24L649.38 106.35L650.04 106.52L650.64 106.76L651.18 107.06L651.64 107.42L652.03 107.83L652.32 108.28L652.52 108.78L652.63 109.32L652.63 109.88L652.54 110.47L652.35 111.08L652.08 111.69L651.73 112.3L651.3 112.91L650.8 113.49L650.24 114.05L649.62 114.58L648.97 115.06L648.27 115.5L647.56 115.89L646.82 116.23L646.08 116.51L645.35 116.74L644.64 116.9L643.97 117.01L643.34 117.07L642.78 117.08L642.29 117.06L641.88 117.02L641.53 116.96L641.25 116.91L641.01 116.85L640.82 116.8L640.66 116.76L640.53 116.73L640.41 116.7L640.32 116.69L640.23 116.68L640.16 116.68L640.09 116.68L640.03 116.68L639.97 116.69L639.92 116.71L639.87 116.72L639.82 116.74L639.77 116.76L639.72 116.78L639.68 116.8L639.63 116.82L639.59 116.84L639.54 116.87L639.49 116.89L639.45 116.91L639.4 116.94L639.35 116.96L639.31 116.98L639.26 117L639.21 117.02L639.16 117.04L639.12 117.05L639.07 117.06L639.02 117.07L638.98 117.08L638.93 117.08L638.88 117.08L638.84 117.07L638.79 117.06L638.75 117.04L638.71 117.02L638.67 116.99L638.62 116.96L638.58 116.92L638.54 116.88L638.51 116.84L638.47 116.79L638.43 116.74L638.4 116.69L638.37 116.64L638.33 116.59L638.3 116.54L638.27 116.48L638.25 116.43L638.22 116.38L638.2 116.32L638.18 116.27L638.16 116.22L638.15 116.17Z" fill="#000" fill-opacity="0.05" stroke="#2a2a2a" stroke-width="0.6" stroke-opacity="0.35"/>
<path d="M638.89 115.67L638.88 115.64L638.88 115.61L638.88 115.58L638.88 115.55L638.88 115.53L638.89 115.5L638.9 115.48L638.9 115.45L638.92 115.42L638.93 115.4L638.94 115.37L638.96 115.35L638.97 115.33L638.99 115.3L639.01 115.28L639.03 115.25L639.05 115.23L639.07 115.21L639.09 115.18L639.11 115.16L639.13 115.14L639.15 115.12L639.17 115.09L639.19 115.07L639.21 115.05L639.22 115.03L639.24 115L639.25 114.98L639.26 114.95L639.27 114.93L639.28 114.9L639.29 114.87L639.29 114.83L639.3 114.8L639.3 114.75L639.29 114.7L639.28 114.64L639.27 114.56L639.26 114.46L639.24 114.34L639.23 114.18L639.22 113.99L639.22 113.73L639.26 113.42L639.33 113.03L639.46 112.59L639.65 112.09L639.93 111.55L640.27 111L640.7 110.44L641.19 109.89L641.73 109.38L642.33 108.89L642.96 108.46L643.62 108.07L644.31 107.74L645.02 107.47L645.73 107.27L646.45 107.14L647.15 107.08L647.83 107.1L648.48 107.18L649.09 107.33L649.64 107.54L650.12 107.81L650.54 108.13L650.88 108.51L651.14 108.93L651.32 109.38L651.39 109.87L651.38 110.39L651.27 110.93L651.08 111.48L650.81 112.04L650.46 112.6L650.04 113.14L649.56 113.67L649.02 114.17L648.44 114.63L647.81 115.06L647.16 115.44L646.49 115.77L645.81 116.05L645.13 116.28L644.46 116.45L643.82 116.57L643.22 116.63L642.67 116.65L642.18 116.63L641.77 116.59L641.42 116.53L641.14 116.46L640.91 116.39L640.73 116.33L640.58 116.27L640.46 116.23L640.36 116.19L640.28 116.16L640.21 116.14L640.16 116.12L640.1 116.11L640.06 116.1L640.02 116.1L639.98 116.1L639.95 116.1L639.91 116.11L639.88 116.11L639.85 116.12L639.82 116.13L639.79 116.14L639.77 116.15L639.74 116.16L639.71 116.17L639.68 116.18L639.65 116.2L639.63 116.21L639.6 116.22L639.57 116.23L639.54 116.24L639.51 116.25L639.48 116.26L639.46 116.26L639.43 116.27L639.4 116.27L639.37 116.27L639.35 116.27L639.32 116.27L639.29 116.26L639.27 116.25L639.24 116.24L639.22 116.22L639.19 116.21L639.17 116.19L639.15 116.16L639.12 116.14L639.1 116.11L639.08 116.08L639.06 116.05L639.04 116.02L639.02 115.98L639 115.95L638.99 115.92L638.97 115.89L638.95 115.85L638.94 115.82L638.93 115.79L638.91 115.76L638.9 115.73L638.89 115.7Z" fill="#000" fill-opacity="0.05" stroke="#2a2a2a" stroke-width="0.6" stroke-opacity="0.35"/>
<path d="M639.41 115.35L639.41 115.34L639.41 115.32L639.41 115.31L639.41 115.29L639.41 115.28L639.41 115.26L639.42 115.25L639.42 115.24L639.43 115.22L639.43 115.21L639.44 115.2L639.45 115.19L639.45 115.17L639.46 115.16L639.47 115.15L639.48 115.14L639.49 115.12L639.5 115.11L639.51 115.1L639.52 115.09L639.53 115.08L639.54 115.06L639.55 115.05L639.56 115.04L639.57 115.03L639.57 115.01L639.58 115L639.59 114.99L639.59 114.97L639.59 114.96L639.6 114.94L639.6 114.93L639.6 114.91L639.59 114.88L639.59 114.85L639.58 114.82L639.57 114.78L639.55 114.73L639.54 114.66L639.52 114.58L639.49 114.47L639.47 114.32L639.46 114.12L639.47 113.87L639.51 113.56L639.59 113.19L639.73 112.76L639.94 112.29L640.22 111.79L640.57 111.28L640.98 110.78L641.45 110.3L641.97 109.84L642.52 109.43L643.11 109.05L643.72 108.73L644.35 108.47L645 108.26L645.64 108.12L646.28 108.05L646.89 108.05L647.48 108.1L648.02 108.23L648.51 108.41L648.94 108.65L649.31 108.93L649.61 109.27L649.83 109.64L649.97 110.05L650.02 110.49L649.99 110.96L649.87 111.44L649.67 111.93L649.4 112.42L649.07 112.92L648.66 113.39L648.21 113.85L647.7 114.29L647.16 114.69L646.58 115.05L645.98 115.36L645.37 115.63L644.75 115.86L644.14 116.03L643.55 116.15L642.99 116.23L642.48 116.26L642.01 116.25L641.61 116.21L641.28 116.15L641 116.08L640.79 116.01L640.61 115.94L640.48 115.88L640.38 115.83L640.29 115.78L640.23 115.75L640.17 115.72L640.13 115.7L640.09 115.68L640.06 115.67L640.04 115.66L640.01 115.65L639.99 115.64L639.97 115.64L639.95 115.64L639.93 115.64L639.92 115.64L639.9 115.64L639.88 115.65L639.87 115.65L639.85 115.65L639.84 115.66L639.82 115.66L639.81 115.67L639.79 115.67L639.78 115.67L639.76 115.68L639.75 115.68L639.73 115.69L639.72 115.69L639.7 115.69L639.69 115.69L639.67 115.69L639.66 115.69L639.65 115.69L639.63 115.68L639.62 115.68L639.61 115.67L639.59 115.66L639.58 115.66L639.57 115.64L639.56 115.63L639.55 115.62L639.53 115.6L639.52 115.59L639.51 115.57L639.5 115.55L639.49 115.54L639.48 115.52L639.47 115.5L639.47 115.48L639.46 115.47L639.45 115.45L639.44 115.43L639.44 115.41L639.43 115.4L639.42 115.38L639.42 115.37Z" fill="#000" fill-opacity="0.05" stroke="#2a2a2a" stroke-width="0.6" stroke-opacity="0.35"/>
<path d="M639.75 115.15L639.75 115.14L639.75 115.14L639.75 115.13L639.75 115.12L639.75 115.12L639.75 115.11L639.75 115.11L639.75 115.1L639.75 115.1L639.76 115.09L639.76 115.09L639.76 115.08L639.76 115.07L639.77 115.07L639.77 115.06L639.78 115.06L639.78 115.05L639.78 115.05L639.79 115.04L639.79 115.04L639.79 115.03L639.8 115.03L639.8 115.02L639.8 115.02L639.81 115.01L639.81 115.01L639.81 115L639.81 114.99L639.81 114.99L639.81 114.98L639.81 114.97L639.81 114.96L639.81 114.95L639.8 114.94L639.8 114.93L639.79 114.91L639.78 114.89L639.77 114.86L639.75 114.82L639.73 114.77L639.71 114.7L639.69 114.6L639.67 114.46L639.66 114.28L639.68 114.05L639.72 113.76L639.81 113.42L639.96 113.03L640.16 112.61L640.43 112.17L640.76 111.73L641.14 111.29L641.57 110.88L642.04 110.5L642.54 110.15L643.06 109.85L643.61 109.59L644.16 109.39L644.72 109.24L645.27 109.16L645.81 109.14L646.32 109.17L646.79 109.27L647.21 109.41L647.58 109.61L647.89 109.86L648.14 110.14L648.32 110.47L648.42 110.82L648.44 111.2L648.39 111.6L648.27 112.02L648.07 112.44L647.81 112.86L647.49 113.28L647.12 113.68L646.7 114.07L646.24 114.42L645.75 114.75L645.23 115.04L644.7 115.29L644.17 115.49L643.64 115.66L643.12 115.78L642.62 115.85L642.16 115.89L641.75 115.89L641.38 115.86L641.08 115.81L640.83 115.74L640.63 115.68L640.48 115.61L640.36 115.56L640.28 115.51L640.21 115.47L640.16 115.43L640.12 115.4L640.09 115.38L640.07 115.36L640.05 115.35L640.03 115.34L640.02 115.33L640.01 115.32L639.99 115.31L639.98 115.31L639.98 115.31L639.97 115.31L639.96 115.3L639.95 115.3L639.95 115.3L639.94 115.3L639.93 115.3L639.93 115.3L639.92 115.3L639.91 115.3L639.91 115.31L639.9 115.31L639.89 115.31L639.89 115.31L639.88 115.31L639.87 115.31L639.87 115.31L639.86 115.31L639.86 115.31L639.85 115.31L639.84 115.3L639.84 115.3L639.83 115.3L639.83 115.29L639.82 115.29L639.82 115.29L639.81 115.28L639.81 115.27L639.8 115.27L639.8 115.26L639.8 115.25L639.79 115.24L639.79 115.24L639.78 115.23L639.78 115.22L639.78 115.21L639.77 115.21L639.77 115.2L639.77 115.19L639.76 115.18L639.76 115.18L639.76 115.17L639.76 115.16L639.75 115.16Z" fill="#000" fill-opacity="0.05" stroke="#2a2a2a" stroke-width="0.6" stroke-opacity="0.35"/>
<path d="M639.93 115.04L639.93 115.04L639.93 115.04L639.93 115.04L639.93 115.03L639.93 115.03L639.93 115.03L639.93 115.03L639.93 115.03L639.93 115.03L639.93 115.03L639.93 115.02L639.93 115.02L639.93 115.02L639.93 115.02L639.94 115.02L639.94 115.02L639.94 115.02L639.94 115.01L639.94 115.01L639.94 115.01L639.94 115.01L639.94 115.01L639.94 115.01L639.94 115.01L639.94 115L639.94 115L639.94 115L639.94 115L639.94 115L639.94 114.99L639.94 114.99L639.94 114.99L639.94 114.99L639.93 114.98L639.93 114.98L639.93 114.97L639.92 114.96L639.91 114.95L639.9 114.93L639.89 114.9L639.88 114.87L639.86 114.82L639.84 114.74L639.83 114.64L639.83 114.49L639.84 114.3L639.89 114.06L639.97 113.78L640.11 113.46L640.29 113.12L640.52 112.76L640.8 112.41L641.12 112.06L641.48 111.73L641.87 111.43L642.28 111.16L642.71 110.93L643.16 110.74L643.61 110.59L644.06 110.5L644.5 110.46L644.91 110.47L645.29 110.54L645.62 110.64L645.92 110.8L646.16 110.99L646.34 111.22L646.47 111.47L646.53 111.76L646.53 112.06L646.46 112.38L646.34 112.71L646.15 113.05L645.91 113.38L645.63 113.71L645.3 114.02L644.94 114.31L644.55 114.58L644.13 114.82L643.71 115.03L643.28 115.2L642.85 115.34L642.43 115.44L642.03 115.51L641.66 115.54L641.33 115.55L641.03 115.53L640.79 115.49L640.59 115.44L640.43 115.39L640.31 115.34L640.23 115.29L640.17 115.25L640.12 115.22L640.09 115.2L640.07 115.18L640.05 115.16L640.04 115.15L640.03 115.14L640.02 115.13L640.01 115.12L640.01 115.12L640 115.11L640 115.11L639.99 115.1L639.99 115.1L639.99 115.1L639.99 115.1L639.98 115.1L639.98 115.1L639.98 115.1L639.98 115.1L639.98 115.09L639.97 115.09L639.97 115.09L639.97 115.09L639.97 115.09L639.97 115.09L639.97 115.09L639.96 115.09L639.96 115.09L639.96 115.09L639.96 115.09L639.96 115.09L639.96 115.09L639.95 115.09L639.95 115.09L639.95 115.09L639.95 115.08L639.95 115.08L639.95 115.08L639.95 115.08L639.95 115.08L639.94 115.08L639.94 115.07L639.94 115.07L639.94 115.07L639.94 115.07L639.94 115.06L639.94 115.06L639.94 115.06L639.94 115.06L639.94 115.05L639.94 115.05L639.93 115.05L639.93 115.05L639.93 115.05L639.93 115.04L639.93 115.04Z" fill="#000" fill-opacity="0.05" stroke="#2a2a2a" stroke-width="0.6" stroke-opacity="0.35"/>
<ellipse cx="637" cy="117.5" rx="4.5" ry="1.3" transform="rotate(-32 637 117.5)" fill="#fff" fill-opacity="0.9"/>
<path d="M632.9 163.66h1v1h-1zM645.28 133.2h1v1h-1zM590.27 157.84h1v1h-1zM628.4 103.17h1v1h-1zM610.82 167.35h1v1h-1zM608.99 157.15h1v1h-1zM646.24 142.19h1v1h-1zM590.22 146.57h1v1h-1zM641.62 141.48h1v1h-1zM645.52 138.62h1v1h-1zM600.26 157.76h1v1h-1zM615.13 159.98h1v1h-1zM601.77 153.54h1v1h-1zM595.5 121.08h1v1h-1zM598.6 127.96h1v1h-1zM596.22 161.32h1v1h-1zM627.96 165.97h1v1h-1zM599.12 149.88h1v1h-1zM626.33 99.56h1v1h-1zM631.15 102.71h1v1h-1zM594.16 150.76h1v1h-1zM635.03 161.18h1v1h-1zM593.28 131.69h1v1h-1zM622.29 108.83h1v1h-1zM590.13 162.05h1v1h-1zM651.21 96.51h1v1h-1zM613.63 158.91h1v1h-1zM588.91 155.26h1v1h-1zM604.68 165.98h1v1h-1zM602.16 156.06h1v1h-1zM595.7 143.13h1v1h-1zM664.1 129.36h1v1h-1zM594.08 150.61h1v1h-1zM611.45 164.21h1v1h-1zM614.63 112.73h1v1h-1zM598.16 132.13h1v1h-1zM641.41 139.35h1v1h-1zM595.87 127.38h1v1h-1zM600.25 150.16h1v1h-1zM610.63 169.29h1v1h-1zM594.88 137.45h1v1h-1zM595.22 149.75h1v1h-1zM607.43 160.15h1v1h-1zM621.58 173.14h1v1h-1zM594.89 129.3h1v1h-1zM617.21 163.95h1v1h-1zM597.29 147.27h1v1h-1zM608.48 163.2h1v1h-1zM617.65 159.28h1v1h-1zM604.93 170.82h1v1h-1zM612.71 160.24h1v1h-1zM606.59 159.34h1v1h-1zM613.84 113.39h1v1h-1zM596.9 126.78h1v1h-1zM591.48 141.83h1v1h-1zM589.96 156.19h1v1h-1zM593.74 141.24h1v1h-1zM638.92 98.18h1v1h-1zM604.45 167.17h1v1h-1zM613.61 171.84h1v1h-1zM595.07 147.99h1v1h-1zM619.91 112.62h1v1h-1zM597.74 131.45h1v1h-1zM602.6 121.97h1v1h-1zM614.6 160.23h1v1h-1zM663.24 118.72h1v1h-1zM617.55 168.38h1v1h-1zM604.23 156.25h1v1h-1zM650.66 138.53h1v1h-1zM600.96 162.1h1v1h-1zM593.37 141.76h1v1h-1zM611.16 162.02h1v1h-1zM597.93 147.44h1v1h-1zM584 149.99h1v1h-1zM612.38 158.07h1v1h-1zM593.56 140.26h1v1h-1zM626.17 98.99h1v1h-1zM657.95 123.81h1v1h-1zM618.74 161.81h1v1h-1zM613.16 158.41h1v1h-1zM598.52 150.59h1v1h-1zM618.16 162.38h1v1h-1zM586.78 136.66h1v1h-1zM600.63 160.98h1v1h-1zM623.23 107.88h1v1h-1zM597.81 147.93h1v1h-1zM614.91 109.13h1v1h-1zM660.24 120.68h1v1h-1zM597.18 128.38h1v1h-1zM655.01 124.62h1v1h-1zM605.86 169.57h1v1h-1zM654.24 97.5h1v1h-1zM595.34 136.68h1v1h-1zM607.1 163.69h1v1h-1zM595.98 162.69h1v1h-1zM594.29 132.27h1v1h-1zM618.8 159.35h1v1h-1zM593.79 136.98h1v1h-1zM592.4 142.28h1v1h-1zM631.92 164.98h1v1h-1zM668.06 113.87h1v1h-1zM588.51 154.47h1v1h-1zM588.64 140.43h1v1h-1zM604.53 159.37h1v1h-1zM600.5 155.83h1v1h-1zM622.41 162.89h1v1h-1zM613.56 163.74h1v1h-1zM634.97 101.17h1v1h-1zM637.14 101.42h1v1h-1zM584.32 137.65h1v1h-1zM591.41 148.72h1v1h-1zM594.46 138.25h1v1h-1zM598.17 127.6h1v1h-1zM597.86 159.29h1v1h-1zM617.62 158.95h1v1h-1zM614.92 159.32h1v1h-1zM661.1 120.77h1v1h-1zM603.22 123.09h1v1h-1zM599.11 151.33h1v1h-1zM598.15 132.52h1v1h-1zM660.11 121.07h1v1h-1zM598.8 155.09h1v1h-1zM659.52 124.06h1v1h-1zM597.32 144.57h1v1h-1zM601.04 116.14h1v1h-1zM610.41 168.76h1v1h-1zM611.53 159.62h1v1h-1zM612.73 169.42h1v1h-1zM598.53 152.64h1v1h-1zM586.89 137.54h1v1h-1zM609.18 166.78h1v1h-1zM599.28 153.79h1v1h-1zM589.22 138.58h1v1h-1zM611.08 162.71h1v1h-1zM620.49 163.5h1v1h-1zM624.46 163.29h1v1h-1zM611.46 159.02h1v1h-1zM606 159.51h1v1h-1zM599.14 160.07h1v1h-1zM597.69 150.92h1v1h-1zM602.97 162.01h1v1h-1zM597.13 143.71h1v1h-1zM605.45 155.41h1v1h-1zM654.68 94.92h1v1h-1zM599.03 126.66h1v1h-1zM589.09 134.48h1v1h-1zM652.61 92.04h1v1h-1zM596.9 131.64h1v1h-1zM599.99 163.74h1v1h-1zM602.77 159.87h1v1h-1zM605.43 160.49h1v1h-1zM626.17 158.79h1v1h-1zM618.63 165.14h1v1h-1zM642.66 95.5h1v1h-1zM594.19 143.88h1v1h-1zM592.28 141.58h1v1h-1zM648.78 132.45h1v1h-1zM610.78 159.8h1v1h-1zM607.49 120.06h1v1h-1zM593.14 152.28h1v1h-1zM615.54 158.54h1v1h-1zM628.72 157.9h1v1h-1zM572.76 136.11h1v1h-1zM666.08 103.04h1v1h-1zM610.48 157.72h1v1h-1zM667.24 102.31h1v1h-1zM590.6 138.23h1v1h-1zM606.41 168.62h1v1h-1zM656.18 127.06h1v1h-1zM598.54 150.72h1v1h-1zM599.3 161.16h1v1h-1zM596.55 161.05h1v1h-1zM591.57 148.31h1v1h-1zM597.96 153.43h1v1h-1zM642.75 139.74h1v1h-1zM607.18 166.37h1v1h-1zM640.33 94.29h1v1h-1zM615.21 113.76h1v1h-1zM615.76 112.4h1v1h-1zM596.01 133.41h1v1h-1zM631.24 104.45h1v1h-1zM624.49 106.54h1v1h-1zM603.68 156.27h1v1h-1zM635.15 96.07h1v1h-1zM596.39 138.04h1v1h-1zM619.73 165.9h1v1h-1zM610.85 112.04h1v1h-1zM602.38 156.95h1v1h-1zM622.9 108.71h1v1h-1zM609.91 166.82h1v1h-1zM602.92 115.14h1v1h-1zM616.39 168.07h1v1h-1zM596.24 149.07h1v1h-1zM654.31 124.21h1v1h-1zM612.53 166.03h1v1h-1zM619.1 162.67h1v1h-1zM593.32 136.58h1v1h-1zM594.58 141.33h1v1h-1zM587.07 158.23h1v1h-1zM636.61 145.41h1v1h-1zM604.53 155.71h1v1h-1zM619.46 159.17h1v1h-1zM593.47 151.73h1v1h-1zM612.26 114.52h1v1h-1zM617.2 165.18h1v1h-1zM610.01 158.56h1v1h-1zM595.04 158.3h1v1h-1zM591.72 139.62h1v1h-1zM629.77 158.94h1v1h-1zM617.49 166.79h1v1h-1zM606.67 161.44h1v1h-1zM596.13 126.08h1v1h-1zM611.27 161.01h1v1h-1zM602.18 158.97h1v1h-1zM602.09 154.6h1v1h-1zM621.92 105.27h1v1h-1zM618.07 162.16h1v1h-1zM663.05 128.98h1v1h-1zM629.19 164.33h1v1h-1zM629.44 154.75h1v1h-1zM593.96 146.09h1v1h-1zM591.09 142.51h1v1h-1zM596.37 146.06h1v1h-1zM588.66 139.55h1v1h-1zM593.54 136.77h1v1h-1zM614.41 113.64h1v1h-1zM665.94 114.45h1v1h-1zM594.78 150.23h1v1h-1zM592.72 155.78h1v1h-1zM590.54 148h1v1h-1zM623.29 159.98h1v1h-1zM593.99 139.67h1v1h-1zM605.86 164.76h1v1h-1zM592.68 151.55h1v1h-1zM594.23 133.33h1v1h-1zM597.95 152.16h1v1h-1zM589.25 141.79h1v1h-1zM603.07 154.82h1v1h-1zM613.94 173.1h1v1h-1zM591.3 151.46h1v1h-1zM598.32 151.27h1v1h-1zM591.48 139.13h1v1h-1zM613.33 166.22h1v1h-1zM630.43 101.94h1v1h-1zM620.71 161.36h1v1h-1zM594.33 136.18h1v1h-1zM628.17 155.1h1v1h-1zM621.47 158.9h1v1h-1zM595.76 141.12h1v1h-1zM615.76 164.94h1v1h-1zM593.69 148.13h1v1h-1zM592.95 137.85h1v1h-1zM596.4 144.29h1v1h-1zM614.22 158.55h1v1h-1zM615.31 108.31h1v1h-1zM591.17 145.85h1v1h-1zM615.83 163.98h1v1h-1zM620.88 167.08h1v1h-1zM627.8 157.98h1v1h-1zM596.81 146.81h1v1h-1zM598.2 130.51h1v1h-1zM618.59 110.92h1v1h-1zM666.14 107.33h1v1h-1zM589.75 137.23h1v1h-1zM597.95 151.43h1v1h-1zM616.38 159.46h1v1h-1zM609.37 159.15h1v1h-1zM587.28 151.49h1v1h-1zM613.47 164.14h1v1h-1zM662.29 96.42h1v1h-1zM613.87 160.51h1v1h-1zM614.26 163.04h1v1h-1zM656.03 121.45h1v1h-1zM629.1 105.94h1v1h-1zM636.54 159.44h1v1h-1zM596.32 164.37h1v1h-1zM601.08 121.22h1v1h-1zM594.41 142.42h1v1h-1zM627.56 103.99h1v1h-1zM658.49 97.95h1v1h-1zM596.58 129.38h1v1h-1zM622.73 155.12h1v1h-1zM628.09 157.88h1v1h-1zM601.1 165.09h1v1h-1zM591.06 150.6h1v1h-1zM635.69 101.01h1v1h-1zM593.14 156.73h1v1h-1zM653.02 126.72h1v1h-1zM624.38 162.08h1v1h-1zM597.15 128.74h1v1h-1zM592.35 149.82h1v1h-1zM625.56 153.31h1v1h-1zM601.49 159.46h1v1h-1zM592.76 141.08h1v1h-1zM603.2 159.08h1v1h-1zM620.45 101.57h1v1h-1zM618.36 170.73h1v1h-1zM603.33 155.33h1v1h-1zM602.21 119.98h1v1h-1zM612.49 166.83h1v1h-1zM599.25 151.16h1v1h-1zM597.18 117.7h1v1h-1zM617.98 166.44h1v1h-1zM606.65 117.08h1v1h-1zM594.88 124.68h1v1h-1zM613.77 165.85h1v1h-1zM619.37 161.92h1v1h-1zM605.1 157.54h1v1h-1zM598.09 148.68h1v1h-1zM601.15 159.49h1v1h-1zM639.21 143.6h1v1h-1zM614.17 162.63h1v1h-1zM604.16 154.85h1v1h-1zM588.9 154.73h1v1h-1zM605.36 157.85h1v1h-1zM615.19 174.72h1v1h-1zM597.59 129.69h1v1h-1zM598.54 149.97h1v1h-1zM665.41 104.34h1v1h-1zM622.97 155.24h1v1h-1zM592.81 147.87h1v1h-1zM615.31 107.96h1v1h-1zM593.75 147.1h1v1h-1zM625.68 105.43h1v1h-1zM595.14 135.87h1v1h-1zM612.68 166.39h1v1h-1zM594.17 157.29h1v1h-1zM628.57 168.68h1v1h-1zM594.49 151.6h1v1h-1zM622.77 157.74h1v1h-1zM599.38 152.66h1v1h-1zM594.59 130.92h1v1h-1zM664.81 108.54h1v1h-1zM596.19 130.88h1v1h-1zM594.02 164.8h1v1h-1zM617.79 159.11h1v1h-1zM605.87 156.63h1v1h-1zM627.67 102.13h1v1h-1zM599.32 156.69h1v1h-1zM593.32 144.23h1v1h-1zM593.37 138.42h1v1h-1zM646.18 131.36h1v1h-1zM594.98 150.22h1v1h-1zM595.48 150.29h1v1h-1zM590.09 155.1h1v1h-1zM625.96 106.89h1v1h-1zM611.4 159.6h1v1h-1zM592.13 135.19h1v1h-1zM619.96 157.37h1v1h-1zM609.55 162.08h1v1h-1zM642.91 96.02h1v1h-1zM623.27 166.91h1v1h-1zM627.59 156.5h1v1h-1zM590.67 133.64h1v1h-1zM596.26 138.71h1v1h-1zM597.62 156.63h1v1h-1zM592.02 141.6h1v1h-1zM589.61 144h1v1h-1zM584.72 153.86h1v1h-1zM595.77 144.12h1v1h-1zM600.03 152.02h1v1h-1zM596.19 139.99h1v1h-1zM580.13 126.6h1v1h-1zM652.33 134.52h1v1h-1zM608.56 120.79h1v1h-1zM592.89 138.53h1v1h-1zM594.35 146.7h1v1h-1zM591.38 148.75h1v1h-1zM595.87 158.19h1v1h-1zM637.03 100.31h1v1h-1zM590.47 151.76h1v1h-1zM592.9 159.51h1v1h-1zM646.25 134.48h1v1h-1zM594.6 128.47h1v1h-1zM592.37 127.6h1v1h-1zM619.84 157.61h1v1h-1zM598.66 151.7h1v1h-1zM596.1 136.86h1v1h-1zM620.93 159.66h1v1h-1zM631.77 155.35h1v1h-1zM594.04 149.12h1v1h-1zM597.18 123.52h1v1h-1zM605.25 159.5h1v1h-1zM645.44 137.94h1v1h-1zM606.41 156.77h1v1h-1zM596.78 154.8h1v1h-1zM597.3 150.04h1v1h-1zM583.35 159.77h1v1h-1zM659.58 119.33h1v1h-1zM663.53 99.07h1v1h-1zM592.37 130.68h1v1h-1zM640.41 97.23h1v1h-1zM598.57 131.4h1v1h-1zM600.6 152.48h1v1h-1zM594.11 137.83h1v1h-1zM607.18 117.13h1v1h-1zM598.2 155.34h1v1h-1zM599.98 152.65h1v1h-1zM595.01 145.66h1v1h-1zM626.49 158.24h1v1h-1zM592.12 137.66h1v1h-1zM583.89 162.87h1v1h-1zM665.18 116.5h1v1h-1zM598.92 156.29h1v1h-1zM595.24 140.81h1v1h-1zM595.47 138.62h1v1h-1zM608.2 163.44h1v1h-1zM603.44 158.67h1v1h-1zM608.46 157.69h1v1h-1zM611.62 157.86h1v1h-1zM604.34 168.23h1v1h-1zM594.74 132.12h1v1h-1zM594.98 136.91h1v1h-1zM634.99 155.7h1v1h-1zM611.6 160.08h1v1h-1zM631.56 95.38h1v1h-1zM608.8 118.4h1v1h-1zM618.64 159.54h1v1h-1zM621.27 156.63h1v1h-1zM654.43 93.49h1v1h-1zM595.4 147.2h1v1h-1zM596.08 145.31h1v1h-1zM591.35 137.98h1v1h-1zM614.93 160.73h1v1h-1zM630.13 105.68h1v1h-1zM638.82 142.22h1v1h-1zM595.05 139.62h1v1h-1zM594.87 136.28h1v1h-1zM593.81 139.99h1v1h-1zM598.59 131.4h1v1h-1zM602.92 161.17h1v1h-1zM589.43 136.92h1v1h-1zM590.9 150.6h1v1h-1zM598.4 149.8h1v1h-1zM656.63 97.99h1v1h-1zM604.24 155.06h1v1h-1zM597.12 143.64h1v1h-1zM597.34 134.17h1v1h-1zM611.78 158.2h1v1h-1zM617.07 162.78h1v1h-1zM654.69 128.99h1v1h-1zM664.27 116.46h1v1h-1zM591.31 134.54h1v1h-1zM599.88 167.21h1v1h-1zM610.81 113.25h1v1h-1zM620.57 162.73h1v1h-1zM596.85 145.3h1v1h-1zM632.22 152.05h1v1h-1zM648.78 131.04h1v1h-1zM591.85 148.42h1v1h-1zM611.12 158.09h1v1h-1zM604.86 171.87h1v1h-1zM624.46 107.34h1v1h-1zM604.46 159.6h1v1h-1zM625.22 157.04h1v1h-1zM611.88 163.9h1v1h-1zM623.18 160.44h1v1h-1zM588.37 133h1v1h-1zM595.89 150.02h1v1h-1zM595.4 165.21h1v1h-1zM582.49 146.88h1v1h-1zM657.62 130.46h1v1h-1zM664.51 104.08h1v1h-1zM596.96 128.11h1v1h-1zM657.26 125.31h1v1h-1zM646.19 139.25h1v1h-1zM606.02 115.08h1v1h-1zM648.65 97.52h1v1h-1zM664.09 125.63h1v1h-1zM597.6 147.78h1v1h-1zM622.45 171.29h1v1h-1zM595 152.16h1v1h-1zM594.37 139.1h1v1h-1zM610.34 118.12h1v1h-1zM587.67 146.81h1v1h-1zM594.9 140.41h1v1h-1zM590.28 135.04h1v1h-1zM613 157.84h1v1h-1zM664.01 117.49h1v1h-1zM610.69 116.36h1v1h-1zM607.48 160.75h1v1h-1zM605.35 164.64h1v1h-1zM607.36 116.3h1v1h-1zM612.09 158.15h1v1h-1zM618.56 161.18h1v1h-1zM596.05 150.11h1v1h-1zM594.96 138.12h1v1h-1zM625.41 104.53h1v1h-1zM610.38 158.98h1v1h-1zM592.86 139.54h1v1h-1zM594.34 152.23h1v1h-1zM596.31 142.57h1v1h-1zM642.56 138.58h1v1h-1zM597.95 155.31h1v1h-1zM636.2 100.75h1v1h-1zM594.07 144.84h1v1h-1zM617.87 110.17h1v1h-1zM592.34 141.7h1v1h-1zM593.91 138.7h1v1h-1zM616.44 167.7h1v1h-1zM594.37 138.56h1v1h-1zM586.95 143.67h1v1h-1zM607.43 157.11h1v1h-1zM609 164.55h1v1h-1zM608.17 158.64h1v1h-1zM623.08 162.35h1v1h-1zM595.11 149h1v1h-1zM603.41 157.03h1v1h-1zM620.84 157.83h1v1h-1zM665.97 109.97h1v1h-1zM599.47 128.11h1v1h-1zM649.44 128.15h1v1h-1zM630.65 152.55h1v1h-1zM594.13 137.32h1v1h-1zM596.42 146.63h1v1h-1zM641.76 99.69h1v1h-1zM612.44 160.6h1v1h-1zM587.3 137.34h1v1h-1zM610.38 162.78h1v1h-1zM604.88 160.97h1v1h-1zM595.71 136.4h1v1h-1zM595.67 144.05h1v1h-1zM603.13 124.08h1v1h-1zM647.58 94.59h1v1h-1zM601.64 157.98h1v1h-1zM637.24 143.97h1v1h-1zM590.18 154h1v1h-1zM631.74 105.12h1v1h-1zM653.14 131.69h1v1h-1zM597.62 163.95h1v1h-1zM596.37 148.87h1v1h-1zM595.9 147.02h1v1h-1zM661.92 115.26h1v1h-1zM611.81 159.01h1v1h-1zM619.79 156.82h1v1h-1zM599.01 163.66h1v1h-1zM626.22 107.34h1v1h-1zM595.12 152.17h1v1h-1zM599.75 160.52h1v1h-1zM603.7 119.15h1v1h-1zM653.31 135.78h1v1h-1zM639.49 144.42h1v1h-1zM591.75 146.82h1v1h-1zM618.02 162.86h1v1h-1zM605.6 161.7h1v1h-1zM594.87 145.16h1v1h-1zM623.64 158.03h1v1h-1zM584.33 151.41h1v1h-1zM661.43 119.71h1v1h-1zM595.49 142.44h1v1h-1zM596.26 134.12h1v1h-1zM600.63 159.29h1v1h-1zM625.97 160.58h1v1h-1zM595.8 150.17h1v1h-1zM611.92 166.4h1v1h-1zM600.4 163.99h1v1h-1zM633.89 154.39h1v1h-1zM608.87 160.28h1v1h-1zM600.74 159.31h1v1h-1zM626.7 153.17h1v1h-1zM614.31 167.98h1v1h-1zM596.35 151.83h1v1h-1zM591.14 146.11h1v1h-1zM631.05 150.37h1v1h-1zM590.79 136.03h1v1h-1zM597.66 151.81h1v1h-1zM618.34 157.59h1v1h-1zM595.67 145.46h1v1h-1zM593.68 161.19h1v1h-1zM627.04 157.41h1v1h-1zM597.98 150.49h1v1h-1zM610.63 161.63h1v1h-1zM601.38 160.16h1v1h-1zM593.62 147.92h1v1h-1zM610.14 161.45h1v1h-1zM595.65 144.28h1v1h-1zM621.41 156.37h1v1h-1zM624.78 154.74h1v1h-1zM599.66 166.21h1v1h-1zM624.73 162.72h1v1h-1zM601.6 158.01h1v1h-1zM612.15 162.19h1v1h-1zM594.11 160.97h1v1h-1zM598.65 150.69h1v1h-1zM607.37 166.64h1v1h-1zM588.58 150.35h1v1h-1zM599.03 153.76h1v1h-1zM598.26 149.51h1v1h-1zM596.2 142.24h1v1h-1zM591.58 141.94h1v1h-1zM604.01 161.84h1v1h-1zM639.9 141.51h1v1h-1zM593.73 150.09h1v1h-1zM625.08 156.51h1v1h-1zM601.72 153.27h1v1h-1zM631.75 103.04h1v1h-1zM604.93 165.35h1v1h-1zM590.09 151.96h1v1h-1zM587.21 158.05h1v1h-1zM629.24 154.67h1v1h-1zM580.91 152.7h1v1h-1zM573.54 148.64h1v1h-1zM582.99 188.87h1v1h-1zM591.32 133.07h1v1h-1zM578.33 161.36h1v1h-1zM583.56 171.31h1v1h-1zM583.09 161.36h1v1h-1zM585.51 130.68h1v1h-1zM572.49 153.74h1v1h-1zM585.91 135.47h1v1h-1zM579.63 143.32h1v1h-1zM582.28 161.66h1v1h-1zM581.94 122.01h1v1h-1zM588.57 166.14h1v1h-1zM586.01 178.76h1v1h-1zM593.85 162.62h1v1h-1zM592.89 143.3h1v1h-1zM589.49 180.52h1v1h-1zM590.23 182.35h1v1h-1zM587.09 133.2h1v1h-1zM583.85 155.52h1v1h-1zM590.85 151.63h1v1h-1zM575.69 160.52h1v1h-1zM586.61 158.12h1v1h-1zM575.2 137.32h1v1h-1zM574.54 143.63h1v1h-1zM588.58 155.41h1v1h-1zM592.99 183.01h1v1h-1zM590.88 167.41h1v1h-1zM579.71 174.33h1v1h-1zM583.86 162.2h1v1h-1zM576.22 148.06h1v1h-1zM576.93 141.14h1v1h-1zM581.62 127.36h1v1h-1zM580.78 149.52h1v1h-1zM586.29 155.47h1v1h-1zM578.01 139.45h1v1h-1zM559.62 122.96h1v1h-1zM588.1 113.81h1v1h-1zM580.07 116.76h1v1h-1zM579.36 176.95h1v1h-1zM597.53 177.74h1v1h-1zM600.26 164.98h1v1h-1zM575.58 161.81h1v1h-1zM577.61 159.8h1v1h-1zM567.58 127.71h1v1h-1zM580.4 192.1h1v1h-1zM574.87 150.23h1v1h-1zM578.5 152.81h1v1h-1zM569.89 143.81h1v1h-1zM571.56 125.4h1v1h-1zM596.8 153.7h1v1h-1zM596.34 167.61h1v1h-1zM580.42 159.04h1v1h-1zM577.56 126.44h1v1h-1zM573.61 111.98h1v1h-1zM585.93 179.29h1v1h-1zM579.44 170.93h1v1h-1zM573.77 125.99h1v1h-1zM588.77 142.19h1v1h-1zM578.36 186.51h1v1h-1zM578.38 144.05h1v1h-1zM569.89 145.18h1v1h-1zM583.22 151.77h1v1h-1zM571.64 158.38h1v1h-1zM566.53 149.86h1v1h-1zM574.14 167.73h1v1h-1zM576.24 145.9h1v1h-1zM570.91 140.88h1v1h-1zM590.23 117.23h1v1h-1zM582.84 154.86h1v1h-1zM583.64 188.33h1v1h-1zM581.54 160.43h1v1h-1zM586.52 171.44h1v1h-1zM578.94 156.4h1v1h-1zM589.88 154.58h1v1h-1zM575.22 113.31h1v1h-1zM577.16 143.29h1v1h-1zM582.1 114.4h1v1h-1zM576.89 135.54h1v1h-1zM566.38 142.91h1v1h-1zM565.16 144.1h1v1h-1zM576.02 133.88h1v1h-1zM580.74 150.43h1v1h-1zM596.63 146.28h1v1h-1zM571.7 159.43h1v1h-1zM574.02 140.12h1v1h-1zM575.29 147.89h1v1h-1zM591.43 133.79h1v1h-1zM577.8 151.65h1v1h-1zM578.15 146.22h1v1h-1zM586.78 175.21h1v1h-1zM558.36 173.42h1v1h-1zM589.19 155.55h1v1h-1zM584.45 186.05h1v1h-1zM581.53 119.22h1v1h-1zM565.27 141.35h1v1h-1zM587.31 138.58h1v1h-1zM588.31 171.6h1v1h-1zM597.8 129.63h1v1h-1zM577.45 129.66h1v1h-1zM587.73 123.53h1v1h-1zM588.13 157.9h1v1h-1zM580.02 152.33h1v1h-1zM566.07 155.39h1v1h-1zM589.42 167.76h1v1h-1zM579.52 143.63h1v1h-1zM593.16 154.74h1v1h-1zM581.58 158.42h1v1h-1zM567.74 142.83h1v1h-1zM611.28 182.23h1v1h-1zM607.04 180.31h1v1h-1zM593.25 178h1v1h-1zM598.02 182.77h1v1h-1zM602.11 176.81h1v1h-1zM606.07 159.24h1v1h-1zM594.56 158.9h1v1h-1zM593.93 173.52h1v1h-1zM590.5 172.19h1v1h-1zM611.05 193.66h1v1h-1zM601.41 178.24h1v1h-1zM598.8 187.14h1v1h-1zM593.15 175.69h1v1h-1zM624.91 183.24h1v1h-1zM594.98 194.47h1v1h-1zM599.83 175.14h1v1h-1zM589.98 170.32h1v1h-1zM603.77 179.84h1v1h-1zM618.24 195.75h1v1h-1zM600.13 173.11h1v1h-1zM617.14 186.73h1v1h-1zM589.77 164.18h1v1h-1zM615.24 188.21h1v1h-1zM633.36 166.43h1v1h-1zM612.54 174.26h1v1h-1zM609.87 174.6h1v1h-1zM600.96 174.24h1v1h-1zM613.39 177.33h1v1h-1zM592.12 183.62h1v1h-1zM589.92 179.61h1v1h-1zM648.79 187.61h1v1h-1zM606.98 181.95h1v1h-1zM617.58 200.82h1v1h-1zM603.03 170.65h1v1h-1zM603.53 174.03h1v1h-1zM611.09 187.32h1v1h-1zM615.75 167.54h1v1h-1zM612.27 180.77h1v1h-1zM611.68 196.25h1v1h-1zM609.61 200.97h1v1h-1zM597.16 164.27h1v1h-1zM597.19 188.6h1v1h-1zM611.53 168.11h1v1h-1zM593.85 196.31h1v1h-1zM619.74 191.96h1v1h-1zM604.32 177.08h1v1h-1zM610.08 177.47h1v1h-1zM588.58 177.94h1v1h-1zM609.25 198.6h1v1h-1zM616.84 191.89h1v1h-1zM596.36 188.48h1v1h-1zM594.86 186.16h1v1h-1zM599.87 187.55h1v1h-1zM590.19 196.51h1v1h-1zM607.1 193.47h1v1h-1zM597.35 177.28h1v1h-1zM608.77 185.71h1v1h-1zM627.83 173.81h1v1h-1zM601.9 159.59h1v1h-1zM587.4 167.49h1v1h-1zM600.39 177.56h1v1h-1zM599.85 173.25h1v1h-1zM608.81 179.19h1v1h-1zM585.94 182.95h1v1h-1zM586.56 174.45h1v1h-1zM613.56 163.63h1v1h-1zM592.19 182.52h1v1h-1zM605.13 188.17h1v1h-1zM587.55 171.81h1v1h-1zM589.45 175.15h1v1h-1zM627.03 183.74h1v1h-1zM606.42 185.6h1v1h-1zM616.22 179.08h1v1h-1zM615.67 183.41h1v1h-1zM598.6 187.05h1v1h-1zM593.25 175.28h1v1h-1zM600.29 177.93h1v1h-1zM595.56 192.19h1v1h-1zM634.92 190.82h1v1h-1zM594.94 187.13h1v1h-1zM615.59 187.79h1v1h-1zM595.12 169.18h1v1h-1zM628.66 185.79h1v1h-1zM615.56 191.26h1v1h-1zM606.32 199.89h1v1h-1zM605.52 169.9h1v1h-1zM614.68 170.89h1v1h-1zM592.41 190.09h1v1h-1zM602.3 188.21h1v1h-1zM613.9 186.56h1v1h-1zM581.69 151.92h1v1h-1zM583.49 182.29h1v1h-1zM633.02 175.52h1v1h-1zM611.42 192.97h1v1h-1zM609.7 179.16h1v1h-1zM594.55 175.36h1v1h-1zM602.37 173.97h1v1h-1zM593.38 164.55h1v1h-1zM584.71 165.54h1v1h-1zM610.66 188.91h1v1h-1zM606.91 157.08h1v1h-1zM606.96 164.32h1v1h-1zM610.46 190.41h1v1h-1zM612.76 186.54h1v1h-1zM599.94 198.61h1v1h-1zM610.11 167.76h1v1h-1zM621.29 176.05h1v1h-1zM602.27 177.5h1v1h-1zM591.24 174.3h1v1h-1zM600.86 180.56h1v1h-1zM659.51 98.8h1v1h-1zM666.8 101.25h1v1h-1zM656.17 88.49h1v1h-1zM654.06 98.74h1v1h-1zM640.61 94.94h1v1h-1zM664.1 94.5h1v1h-1zM671.58 96.02h1v1h-1zM671.07 103.8h1v1h-1zM652.98 95.98h1v1h-1zM651.71 97.68h1v1h-1zM649.94 97.25h1v1h-1zM669.11 98.35h1v1h-1zM658.01 98.35h1v1h-1zM660.67 97.9h1v1h-1zM659.99 93.35h1v1h-1zM659.53 91.43h1v1h-1zM654.74 93.77h1v1h-1zM659.93 98.12h1v1h-1zM661.09 93.95h1v1h-1zM660.49 90.37h1v1h-1z" fill="#1a1a1a" fill-opacity="0.75"/>
<path d="M198.8 55.5V217.3M51.3 113.3H254.8" stroke="#111" stroke-width="1.6" fill="none"/>
<text x="54.7" y="68.5" class="fs" font-size="8.6" fill="#3a3a3a" stroke="#3a3a3a" stroke-width="0.25" textLength="18.2" lengthAdjust="spacing">9,38</text>
<text x="222.2" y="68.5" class="fs" font-size="8.6" fill="#3a3a3a" stroke="#3a3a3a" stroke-width="0.25" textLength="18.2" lengthAdjust="spacing">48,5</text>
<text x="55.1" y="209.6" class="fs" font-size="8.6" fill="#3a3a3a" stroke="#3a3a3a" stroke-width="0.25" textLength="18.2" lengthAdjust="spacing">35,1</text>
<text x="221.8" y="209.6" class="fs" font-size="8.6" fill="#3a3a3a" stroke="#3a3a3a" stroke-width="0.25" textLength="18.2" lengthAdjust="spacing">7,07</text>
<path d="M418.8 55.3V217.3M271.4 113H474.8" stroke="#111" stroke-width="1.6" fill="none"/>
<text x="275.7" y="68.5" class="fs" font-size="8.6" fill="#3a3a3a" stroke="#3a3a3a" stroke-width="0.25" textLength="18.2" lengthAdjust="spacing">6,17</text>
<text x="442.2" y="68.5" class="fs" font-size="8.6" fill="#3a3a3a" stroke="#3a3a3a" stroke-width="0.25" textLength="18.2" lengthAdjust="spacing">7,12</text>
<text x="276.1" y="209.6" class="fs" font-size="8.6" fill="#3a3a3a" stroke="#3a3a3a" stroke-width="0.25" textLength="18.2" lengthAdjust="spacing">82,1</text>
<text x="441.8" y="209.6" class="fs" font-size="8.6" fill="#3a3a3a" stroke="#3a3a3a" stroke-width="0.25" textLength="18.2" lengthAdjust="spacing">4,59</text>
<path d="M642 55.8V217.6M492.3 113.6H698.8" stroke="#111" stroke-width="1.6" fill="none"/>
<text x="496.5" y="68.5" class="fs" font-size="8.6" fill="#3a3a3a" stroke="#3a3a3a" stroke-width="0.25" textLength="18.2" lengthAdjust="spacing">5,10</text>
<text x="666.2" y="68.5" class="fs" font-size="8.6" fill="#3a3a3a" stroke="#3a3a3a" stroke-width="0.25" textLength="18.2" lengthAdjust="spacing">15,6</text>
<text x="496.9" y="209.6" class="fs" font-size="8.6" fill="#3a3a3a" stroke="#3a3a3a" stroke-width="0.25" textLength="18.2" lengthAdjust="spacing">68,7</text>
<text x="665.8" y="209.6" class="fs" font-size="8.6" fill="#3a3a3a" stroke="#3a3a3a" stroke-width="0.25" textLength="18.2" lengthAdjust="spacing">10,7</text>
<path d="M60.4 274.2H348.5V561.6" stroke="#444" stroke-width="1.2" fill="none"/>
<path d="M60.4 274.2V561.6H348.5" stroke="#222" stroke-width="1.3" fill="none"/>
<path d="M51.7 561.6H60.4M55.9 551.91H60.4M55.9 542.22H60.4M55.9 532.52H60.4M55.9 522.83H60.4M51.7 513.14H60.4M55.9 503.45H60.4M55.9 493.76H60.4M55.9 484.06H60.4M55.9 474.37H60.4M51.7 464.68H60.4M55.9 454.99H60.4M55.9 445.3H60.4M55.9 435.6H60.4M55.9 425.91H60.4M51.7 416.22H60.4M55.9 406.53H60.4M55.9 396.84H60.4M55.9 387.14H60.4M55.9 377.45H60.4M51.7 367.76H60.4M55.9 358.07H60.4M55.9 348.38H60.4M55.9 338.68H60.4M55.9 328.99H60.4M51.7 319.3H60.4M55.9 309.61H60.4M55.9 299.92H60.4M55.9 290.22H60.4M55.9 280.53H60.4" stroke="#222" stroke-width="1.6" fill="none"/>
<path d="M60.4 561.6V570.6M81.89 561.6V567.2M94.47 561.6V567.2M103.39 561.6V567.2M110.31 561.6V567.2M115.96 561.6V567.2M120.74 561.6V567.2M124.88 561.6V567.2M128.53 561.6V567.2M131.8 561.6V570.6M153.29 561.6V567.2M165.87 561.6V567.2M174.79 561.6V567.2M181.71 561.6V567.2M187.36 561.6V567.2M192.14 561.6V567.2M196.28 561.6V567.2M199.93 561.6V567.2M203.2 561.6V570.6M224.69 561.6V567.2M237.27 561.6V567.2M246.19 561.6V567.2M253.11 561.6V567.2M258.76 561.6V567.2M263.54 561.6V567.2M267.68 561.6V567.2M271.33 561.6V567.2M274.6 561.6V570.6M296.09 561.6V567.2M308.67 561.6V567.2M317.59 561.6V567.2M324.51 561.6V567.2M330.16 561.6V567.2M334.94 561.6V567.2M339.08 561.6V567.2M342.73 561.6V567.2M346 561.6V570.6" stroke="#222" stroke-width="1.8" fill="none"/>
<path d="M397.8 274.1H685.3V561.3" stroke="#444" stroke-width="1.2" fill="none"/>
<path d="M397.8 274.1V561.3H685.3" stroke="#222" stroke-width="1.3" fill="none"/>
<path d="M389.1 561.3H397.8M393.3 544.57H397.8M393.3 527.85H397.8M393.3 511.12H397.8M389.1 494.4H397.8M393.3 477.67H397.8M393.3 460.95H397.8M393.3 444.22H397.8M389.1 427.5H397.8M393.3 410.77H397.8M393.3 394.05H397.8M393.3 377.32H397.8M389.1 360.6H397.8M393.3 343.87H397.8M393.3 327.15H397.8M393.3 310.42H397.8M389.1 293.7H397.8M393.3 276.97H397.8" stroke="#222" stroke-width="1.6" fill="none"/>
<path d="M397.8 561.3V570.3M419.32 561.3V566.9M431.91 561.3V566.9M440.85 561.3V566.9M447.78 561.3V566.9M453.44 561.3V566.9M458.22 561.3V566.9M462.37 561.3V566.9M466.03 561.3V566.9M469.3 561.3V570.3M490.82 561.3V566.9M503.41 561.3V566.9M512.35 561.3V566.9M519.28 561.3V566.9M524.94 561.3V566.9M529.72 561.3V566.9M533.87 561.3V566.9M537.53 561.3V566.9M540.8 561.3V570.3M562.32 561.3V566.9M574.91 561.3V566.9M583.85 561.3V566.9M590.78 561.3V566.9M596.44 561.3V566.9M601.22 561.3V566.9M605.37 561.3V566.9M609.03 561.3V566.9M612.3 561.3V570.3M633.82 561.3V566.9M646.41 561.3V566.9M655.35 561.3V566.9M662.28 561.3V566.9M667.94 561.3V566.9M672.72 561.3V566.9M676.87 561.3V566.9M680.53 561.3V566.9M683.8 561.3V570.3" stroke="#222" stroke-width="1.8" fill="none"/>
<path d="M61.2 561.6 L61.6 552.5 L63.2 553.5 L64.6 554.4 L67.9 552.8 L72.9 550.8 L79.5 547.5 L84.5 541.2 L91.1 532.9 L97.7 524.6 L102.7 514.7 L107.7 507.3 L111 493.2 L113.5 483.2 L116 470 L117.8 451.2 L119.5 444.5 L122 422.5 L123.7 420.8 L125.4 421.6 L127.1 414 L128.4 402.2 L130.1 395 L131.8 401.3 L133.9 393.7 L136.4 390.3 L138.6 392 L140.3 399.6 L142 405.5 L144.3 390.3 L146 398.8 L148.2 403.9 L149.9 399.6 L151.6 396.2 L153.3 406.4 L155 413.2 L156.7 420.8 L158.4 429.2 L160.1 437.7 L161.8 452.9 L164.3 454.6 L166 461.4 L167.4 470.4 L170 489.6 L171.7 505.2 L174.3 519.1 L176.1 527.8 L177.8 536.5 L180.4 545.2 L184.8 552.2 L191.7 556.5 L198.7 559.1 L205.7 560.9 L220 561.6 Z" fill="rgba(165,0,5,0.40)" stroke="none"/>
<path d="M61.2 561.6 L61.6 552.5 L63.2 553.5 L64.6 554.4 L67.9 552.8 L72.9 550.8 L79.5 547.5 L84.5 541.2 L91.1 532.9 L97.7 524.6 L102.7 514.7 L107.7 507.3 L111 493.2 L113.5 483.2 L116 470 L117.8 451.2 L119.5 444.5 L122 422.5 L123.7 420.8 L125.4 421.6 L127.1 414 L128.4 402.2 L130.1 395 L131.8 401.3 L133.9 393.7 L136.4 390.3 L138.6 392 L140.3 399.6 L142 405.5 L144.3 390.3 L146 398.8 L148.2 403.9 L149.9 399.6 L151.6 396.2 L153.3 406.4 L155 413.2 L156.7 420.8 L158.4 429.2 L160.1 437.7 L161.8 452.9 L164.3 454.6 L166 461.4 L167.4 470.4 L170 489.6 L171.7 505.2 L174.3 519.1 L176.1 527.8 L177.8 536.5 L180.4 545.2 L184.8 552.2 L191.7 556.5 L198.7 559.1 L205.7 560.9 L220 561.6" fill="none" stroke="#b81c22" stroke-width="2.0" stroke-linejoin="round"/>
<path d="M62 561.6 L62 283 L62.2 283 L62.4 561 L91.1 560.6 L116 558.6 L132.5 556.1 L142.4 552.8 L148.2 546.2 L150 545.2 L157 543.5 L163 539.1 L167.4 535.7 L174.3 531.3 L177.8 524.3 L181.3 515.7 L186.5 508.7 L190 500 L192.6 493 L196.1 482.6 L197.8 472.2 L200.4 460 L201.6 451.2 L204.1 429.2 L205.8 427.5 L208 415 L209.5 408 L210.9 405 L212.6 396 L213.5 378 L214.2 360 L214.9 350.1 L216.9 355.5 L218 363.2 L220.2 358.9 L221.9 348.8 L223.6 335.2 L226 318.4 L227 336.9 L228.2 362.3 L229.6 374.2 L231.2 387.7 L232.9 404.6 L234.3 420 L235.3 428.2 L237.5 456.3 L240.4 484.5 L243.2 512.7 L246 538 L248.8 554.9 L254.4 561.1 L262 561.6 Z" fill="rgba(40,210,255,0.48)" stroke="none"/>
<path d="M62 561.6 L62 283 L62.2 283 L62.4 561 L91.1 560.6 L116 558.6 L132.5 556.1 L142.4 552.8 L148.2 546.2 L150 545.2 L157 543.5 L163 539.1 L167.4 535.7 L174.3 531.3 L177.8 524.3 L181.3 515.7 L186.5 508.7 L190 500 L192.6 493 L196.1 482.6 L197.8 472.2 L200.4 460 L201.6 451.2 L204.1 429.2 L205.8 427.5 L208 415 L209.5 408 L210.9 405 L212.6 396 L213.5 378 L214.2 360 L214.9 350.1 L216.9 355.5 L218 363.2 L220.2 358.9 L221.9 348.8 L223.6 335.2 L226 318.4 L227 336.9 L228.2 362.3 L229.6 374.2 L231.2 387.7 L232.9 404.6 L234.3 420 L235.3 428.2 L237.5 456.3 L240.4 484.5 L243.2 512.7 L246 538 L248.8 554.9 L254.4 561.1 L262 561.6" fill="none" stroke="#1fcff6" stroke-width="2.0" stroke-linejoin="round"/>
<path d="M61.2 561.6 L61.2 282.6 L61.3 282.6 L61.5 557.4 L63 558.2 L64.6 558.6 L71.2 557.7 L79.5 556.6 L87.8 554.4 L96.1 552 L104.4 550.3 L112.6 545.3 L119.3 537.9 L124.2 532.9 L127.5 532.1 L132.5 523 L137.5 513.9 L144.1 504.8 L149.1 491.5 L152.4 479.9 L154 470 L155.9 454.6 L158.4 441.1 L160.9 427.5 L162.7 420 L163.5 408.9 L165.2 390 L166.9 386.9 L168.6 385 L170.3 371.6 L172 378.4 L173.7 367.4 L175.2 354.6 L177.1 355.5 L178.9 357.8 L180.5 349.6 L181.9 338.6 L183.9 348.8 L185.5 367.4 L186.4 379.2 L188.3 382 L189.8 391.1 L191.4 412.3 L193.1 437.7 L194.8 454.6 L196.3 470 L197.8 489.6 L199.6 505.2 L202.2 522.6 L204.8 534.8 L207.4 545.2 L210 552.2 L214.3 558.3 L219.6 561.2 L230 562.2 L348.5 562.2 Z" fill="rgba(67,130,0,0.40)" stroke="none"/>
<path d="M61.2 561.6 L61.2 282.6 L61.3 282.6 L61.5 557.4 L63 558.2 L64.6 558.6 L71.2 557.7 L79.5 556.6 L87.8 554.4 L96.1 552 L104.4 550.3 L112.6 545.3 L119.3 537.9 L124.2 532.9 L127.5 532.1 L132.5 523 L137.5 513.9 L144.1 504.8 L149.1 491.5 L152.4 479.9 L154 470 L155.9 454.6 L158.4 441.1 L160.9 427.5 L162.7 420 L163.5 408.9 L165.2 390 L166.9 386.9 L168.6 385 L170.3 371.6 L172 378.4 L173.7 367.4 L175.2 354.6 L177.1 355.5 L178.9 357.8 L180.5 349.6 L181.9 338.6 L183.9 348.8 L185.5 367.4 L186.4 379.2 L188.3 382 L189.8 391.1 L191.4 412.3 L193.1 437.7 L194.8 454.6 L196.3 470 L197.8 489.6 L199.6 505.2 L202.2 522.6 L204.8 534.8 L207.4 545.2 L210 552.2 L214.3 558.3 L219.6 561.2 L230 562.2 L348.5 562.2" fill="none" stroke="#4f8f1e" stroke-width="2.0" stroke-linejoin="round"/>
<path d="M398 561.3 L399 560.5 L420 561 L460 560.6 L490 559 L496.6 555.7 L501.9 554.4 L508.5 549.1 L513.8 545.1 L519.1 537.2 L524.4 526.6 L529.7 513.3 L533.7 497.4 L537.2 481.5 L539 463 L540.3 444.4 L541.7 441.8 L544.3 425.9 L544.8 420 L545.8 408.2 L546.8 407.2 L547.8 405.2 L548.8 393.3 L549.8 375.4 L550.8 357.5 L551.7 352.6 L553.1 361.5 L554.1 352.6 L555.1 355.6 L556.3 348.6 L557.7 350.6 L558.7 343.7 L559.7 329.8 L561.3 319.2 L562.7 321.8 L563.7 339.7 L564.6 359.5 L565.6 383.3 L566.6 403.2 L567.6 420 L568.1 431.2 L570.8 463 L573.4 497.4 L576.1 526.6 L578.7 547.7 L581.4 558.3 L584 561.8 L600 562.1 Z" fill="rgba(67,130,0,0.40)" stroke="none"/>
<path d="M398 561.3 L399 560.5 L420 561 L460 560.6 L490 559 L496.6 555.7 L501.9 554.4 L508.5 549.1 L513.8 545.1 L519.1 537.2 L524.4 526.6 L529.7 513.3 L533.7 497.4 L537.2 481.5 L539 463 L540.3 444.4 L541.7 441.8 L544.3 425.9 L544.8 420 L545.8 408.2 L546.8 407.2 L547.8 405.2 L548.8 393.3 L549.8 375.4 L550.8 357.5 L551.7 352.6 L553.1 361.5 L554.1 352.6 L555.1 355.6 L556.3 348.6 L557.7 350.6 L558.7 343.7 L559.7 329.8 L561.3 319.2 L562.7 321.8 L563.7 339.7 L564.6 359.5 L565.6 383.3 L566.6 403.2 L567.6 420 L568.1 431.2 L570.8 463 L573.4 497.4 L576.1 526.6 L578.7 547.7 L581.4 558.3 L584 561.8 L600 562.1" fill="none" stroke="#4f8f1e" stroke-width="2.0" stroke-linejoin="round"/>
<path d="M398 561.3 L399 556 L402 555 L410 553 L418 550.5 L424 546 L430 538 L436 530 L442 517 L447 502 L451 485 L454 465 L456.5 445 L458.2 435 L460.7 411.2 L462 400 L464 390 L465.5 375 L467 378 L469 362 L470.2 346.3 L472.3 351.6 L474.5 358.2 L475.6 373.1 L477.3 386.4 L479 397.9 L480.6 400.4 L481.5 409.5 L482.3 422.8 L483.1 440 L483.4 463.6 L485.6 497.1 L487.8 524 L490.1 541.9 L493.4 551.9 L497 558 L505 561.3 Z" fill="rgba(40,210,255,0.48)" stroke="none"/>
<path d="M398 561.3 L399 556 L402 555 L410 553 L418 550.5 L424 546 L430 538 L436 530 L442 517 L447 502 L451 485 L454 465 L456.5 445 L458.2 435 L460.7 411.2 L462 400 L464 390 L465.5 375 L467 378 L469 362 L470.2 346.3 L472.3 351.6 L474.5 358.2 L475.6 373.1 L477.3 386.4 L479 397.9 L480.6 400.4 L481.5 409.5 L482.3 422.8 L483.1 440 L483.4 463.6 L485.6 497.1 L487.8 524 L490.1 541.9 L493.4 551.9 L497 558 L505 561.3" fill="none" stroke="#1fcff6" stroke-width="2.0" stroke-linejoin="round"/>
<path d="M398 561.3 L398.6 283.2 L400 283.2 L400.6 552.6 L401.7 552.6 L408.4 549.7 L416.3 547.4 L421.8 543 L427.4 535.1 L433 526.2 L439.7 512.8 L445.3 497.1 L449.8 479.2 L452.7 459.1 L454.3 443.4 L455.7 426.1 L457.4 414.5 L459.1 394.6 L460.7 393 L462.4 397.1 L464 383 L465.2 369.8 L466.9 373.1 L468.5 378.1 L469.8 363.2 L470.7 361.5 L471.8 366.5 L473.2 386.4 L474.8 402.9 L476.5 422.8 L477.5 435 L478.9 463.6 L481.1 485.9 L483.4 512.8 L485.6 530.7 L487.8 544.1 L491.2 554.2 L495 556.4 L505 561 L520 562.1 L685.3 562.1 Z" fill="rgba(140,10,15,0.44)" stroke="none"/>
<path d="M398 561.3 L398.6 283.2 L400 283.2 L400.6 552.6 L401.7 552.6 L408.4 549.7 L416.3 547.4 L421.8 543 L427.4 535.1 L433 526.2 L439.7 512.8 L445.3 497.1 L449.8 479.2 L452.7 459.1 L454.3 443.4 L455.7 426.1 L457.4 414.5 L459.1 394.6 L460.7 393 L462.4 397.1 L464 383 L465.2 369.8 L466.9 373.1 L468.5 378.1 L469.8 363.2 L470.7 361.5 L471.8 366.5 L473.2 386.4 L474.8 402.9 L476.5 422.8 L477.5 435 L478.9 463.6 L481.1 485.9 L483.4 512.8 L485.6 530.7 L487.8 544.1 L491.2 554.2 L495 556.4 L505 561 L520 562.1 L685.3 562.1" fill="none" stroke="#a3181d" stroke-width="2.0" stroke-linejoin="round"/>
<path d="M37.6 289 V584.8 H341" stroke="#222" stroke-width="2.1" fill="none"/>
<path d="M31.2 290.7 L37.7 275.8 L44 290.7 L37.7 289.1 Z" fill="#222"/>
<path d="M338.8 578.1 L353.4 584.6 L338.8 591 L340.6 584.6 Z" fill="#222"/>
<path d="M386 287 V582.3 H689" stroke="#222" stroke-width="2.1" fill="none"/>
<path d="M379.5 288.5 L386 273.8 L392.2 288.5 L386 287 Z" fill="#222"/>
<path d="M687.1 576.1 L702 582.3 L687.1 588.7 L688.9 582.3 Z" fill="#222"/>
<text x="82.3" y="303.7" text-anchor="middle" class="fs" font-weight="bold" font-size="24" fill="#222">B</text>
<text x="429.9" y="303.1" text-anchor="middle" class="fs" font-weight="bold" font-size="24" fill="#222">C</text>
<text transform="translate(12.8,482) rotate(-90)" class="fr" font-weight="bold" font-size="17" fill="#222" textLength="92.5" lengthAdjust="spacingAndGlyphs">Cell number</text>
<text transform="translate(374.2,480.5) rotate(-90)" class="fr" font-weight="bold" font-size="17" fill="#222" textLength="91.5" lengthAdjust="spacingAndGlyphs">Cell number</text>
<text x="115.4" y="603" class="fr" font-weight="bold" font-size="18.4" fill="#dc1f2b" textLength="123.2" lengthAdjust="spacingAndGlyphs">Red fluorescence</text>
<text x="448.9" y="603" class="fr" font-weight="bold" font-size="18.4" fill="#189348" textLength="138.5" lengthAdjust="spacingAndGlyphs">Green fluorescence</text>
<rect x="238.6" y="291.9" width="24.6" height="7.4" fill="rgba(165,0,5,0.40)" stroke="#8e1418" stroke-width="2"/>
<text x="269.6" y="298.9" class="fr" font-weight="bold" font-size="8.85" fill="#333">Untreated</text>
<rect x="238.6" y="306" width="24.6" height="7.4" fill="rgba(67,130,0,0.40)" stroke="#4a8a1a" stroke-width="2"/>
<text x="269.6" y="313" class="fr" font-weight="bold" font-size="8.85" fill="#333">3,6-PIRAMICAR</text>
<rect x="238.6" y="320.5" width="24.6" height="7.4" fill="rgba(40,210,255,0.48)" stroke="#1ccdf5" stroke-width="2"/>
<text x="269.6" y="327.5" class="fr" font-weight="bold" font-size="8.85" fill="#333">Fluconazole</text>
<rect x="577.1" y="292.1" width="24.6" height="7.4" fill="rgba(165,0,5,0.40)" stroke="#8e1418" stroke-width="2"/>
<text x="608.1" y="299.1" class="fr" font-weight="bold" font-size="8.85" fill="#333">Untreated</text>
<rect x="577.1" y="306.2" width="24.6" height="7.4" fill="rgba(67,130,0,0.40)" stroke="#4a8a1a" stroke-width="2"/>
<text x="608.1" y="313.2" class="fr" font-weight="bold" font-size="8.85" fill="#333">3,6-PIRAMICAR</text>
<rect x="577.1" y="320.7" width="24.6" height="7.4" fill="rgba(40,210,255,0.48)" stroke="#1ccdf5" stroke-width="2"/>
<text x="608.1" y="327.7" class="fr" font-weight="bold" font-size="8.85" fill="#333">Fluconazole</text>
</svg>
</body></html>
